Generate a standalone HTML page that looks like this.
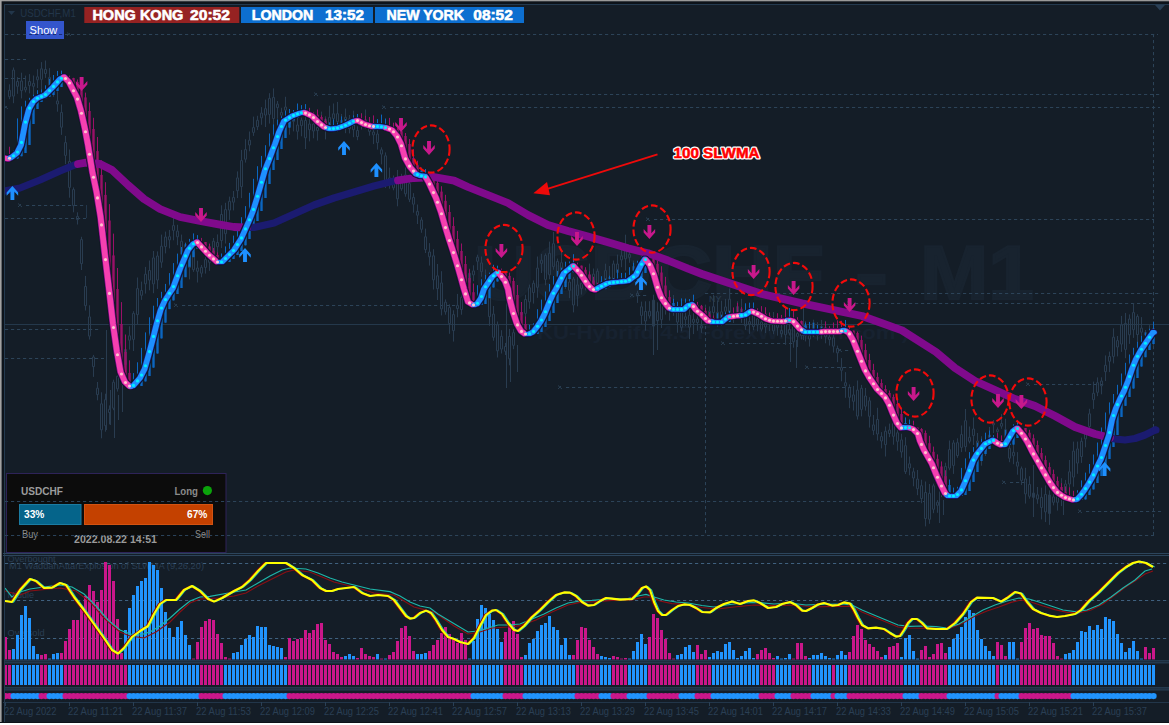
<!DOCTYPE html>
<html><head><meta charset="utf-8"><title>USDCHF M1</title>
<style>html,body{margin:0;padding:0;background:#141d27;width:1169px;height:725px;overflow:hidden;font-family:"Liberation Sans",sans-serif}</style>
</head><body>
<svg width="1169" height="725" viewBox="0 0 1169 725" style="display:block;position:absolute;left:0;top:0" font-family="Liberation Sans, sans-serif">
<rect width="1169" height="725" fill="#141d27"/>
<rect x="0" y="0" width="1169" height="4" fill="#0d131a"/><rect x="0" y="0" width="4" height="725" fill="#0d131a"/>
<rect x="0" y="0" width="1169" height="1.3" fill="#9a9a9a"/>
<rect x="0" y="0" width="1.6" height="725" fill="#a2a2a2"/>
<rect x="0" y="722" width="1169" height="1" fill="#0c1219"/><rect x="0" y="723" width="1169" height="2" fill="#ffffff"/>
<path d="M4.5,722V4.5H1169" fill="none" stroke="#243a4f" stroke-width="1"/>
<path d="M1155,5h10l-5,5.5z" fill="#2a4056"/>
<clipPath id="cc"><rect x="5" y="5" width="1164" height="548"/></clipPath><g clip-path="url(#cc)">
<g font-size="76.5" font-weight="bold" fill="#18232f" stroke="#18232f" stroke-width="2.5"><text x="474" y="298.5" textLength="350" lengthAdjust="spacingAndGlyphs">USDCHF</text><text x="855" y="298.5" textLength="33" lengthAdjust="spacingAndGlyphs">-</text><text x="920" y="298.5" textLength="114" lengthAdjust="spacingAndGlyphs">M1</text></g>
<text x="537" y="339" font-size="19" font-weight="bold" fill="#172230" textLength="372" lengthAdjust="spacingAndGlyphs">KU-Hybrifd 4.5  ForexWisdom.com )</text>
<text x="709" y="302" font-size="9" fill="#2a3e52">NY</text>
<line x1="5" y1="324.5" x2="1169" y2="324.5" stroke="#24384b" stroke-width="1"/>
<line x1="5" y1="34.5" x2="1158" y2="34.5" stroke="#2c4358" stroke-width="1" stroke-dasharray="3.2,2.8"/>
<line x1="5" y1="59.5" x2="26" y2="59.5" stroke="#2c4358" stroke-width="1" stroke-dasharray="3.2,2.8"/>
<line x1="5" y1="78.5" x2="26" y2="78.5" stroke="#2c4358" stroke-width="1" stroke-dasharray="3.2,2.8"/>
<line x1="322" y1="94.5" x2="1160" y2="94.5" stroke="#2c4358" stroke-width="1" stroke-dasharray="3.2,2.8"/>
<line x1="390" y1="107.5" x2="1160" y2="107.5" stroke="#2c4358" stroke-width="1" stroke-dasharray="3.2,2.8"/>
<line x1="26" y1="205.5" x2="86" y2="205.5" stroke="#2c4358" stroke-width="1" stroke-dasharray="3.2,2.8"/>
<line x1="5" y1="218.5" x2="86" y2="218.5" stroke="#2c4358" stroke-width="1" stroke-dasharray="3.2,2.8"/>
<line x1="654" y1="219.5" x2="1154" y2="219.5" stroke="#2c4358" stroke-width="1" stroke-dasharray="3.2,2.8"/>
<line x1="705" y1="293.5" x2="1161" y2="293.5" stroke="#2c4358" stroke-width="1" stroke-dasharray="3.2,2.8"/>
<line x1="637" y1="295.5" x2="648" y2="295.5" stroke="#2c4358" stroke-width="1" stroke-dasharray="3.2,2.8"/>
<line x1="855" y1="303.5" x2="1154" y2="303.5" stroke="#2c4358" stroke-width="1" stroke-dasharray="3.2,2.8"/>
<line x1="182" y1="305.5" x2="456" y2="305.5" stroke="#2c4358" stroke-width="1" stroke-dasharray="3.2,2.8"/>
<line x1="5" y1="329.5" x2="100" y2="329.5" stroke="#2c4358" stroke-width="1" stroke-dasharray="3.2,2.8"/>
<line x1="5" y1="358.5" x2="104" y2="358.5" stroke="#2c4358" stroke-width="1" stroke-dasharray="3.2,2.8"/>
<line x1="729" y1="343.5" x2="794" y2="343.5" stroke="#2c4358" stroke-width="1" stroke-dasharray="3.2,2.8"/>
<line x1="813" y1="367.5" x2="852" y2="367.5" stroke="#2c4358" stroke-width="1" stroke-dasharray="3.2,2.8"/>
<line x1="845" y1="350.5" x2="850" y2="350.5" stroke="#2c4358" stroke-width="1" stroke-dasharray="3.2,2.8"/>
<line x1="566" y1="387.5" x2="852" y2="387.5" stroke="#2c4358" stroke-width="1" stroke-dasharray="3.2,2.8"/>
<line x1="1034" y1="384.5" x2="1105" y2="384.5" stroke="#2c4358" stroke-width="1" stroke-dasharray="3.2,2.8"/>
<line x1="1010" y1="482.5" x2="1027" y2="482.5" stroke="#2c4358" stroke-width="1" stroke-dasharray="3.2,2.8"/>
<line x1="5" y1="501.5" x2="924" y2="501.5" stroke="#2c4358" stroke-width="1" stroke-dasharray="3.2,2.8"/>
<line x1="1086" y1="511.5" x2="1161" y2="511.5" stroke="#2c4358" stroke-width="1" stroke-dasharray="3.2,2.8"/>
<line x1="5" y1="535.5" x2="1154" y2="535.5" stroke="#2c4358" stroke-width="1" stroke-dasharray="3.2,2.8"/>
<path d="M67,32.5L71,36.0M67,36.0L70,33.0" stroke="#2e465c" stroke-width="0.8" fill="none"/>
<path d="M18,203.5L22,207.0M18,207.0L21,204.0" stroke="#2e465c" stroke-width="0.8" fill="none"/>
<path d="M314,92.5L318,96.0M314,96.0L317,93.0" stroke="#2e465c" stroke-width="0.8" fill="none"/>
<path d="M382,105.5L386,109.0M382,109.0L385,106.0" stroke="#2e465c" stroke-width="0.8" fill="none"/>
<path d="M646,217.5L650,221.0M646,221.0L649,218.0" stroke="#2e465c" stroke-width="0.8" fill="none"/>
<path d="M630,293.5L634,297.0M630,297.0L633,294.0" stroke="#2e465c" stroke-width="0.8" fill="none"/>
<path d="M847,301.5L851,305.0M847,305.0L850,302.0" stroke="#2e465c" stroke-width="0.8" fill="none"/>
<path d="M174,303.5L178,307.0M174,307.0L177,304.0" stroke="#2e465c" stroke-width="0.8" fill="none"/>
<path d="M721,341.5L725,345.0M721,345.0L724,342.0" stroke="#2e465c" stroke-width="0.8" fill="none"/>
<path d="M805,365.5L809,369.0M805,369.0L808,366.0" stroke="#2e465c" stroke-width="0.8" fill="none"/>
<path d="M838,348.5L842,352.0M838,352.0L841,349.0" stroke="#2e465c" stroke-width="0.8" fill="none"/>
<path d="M558,385.5L562,389.0M558,389.0L561,386.0" stroke="#2e465c" stroke-width="0.8" fill="none"/>
<path d="M1026,382.5L1030,386.0M1026,386.0L1029,383.0" stroke="#2e465c" stroke-width="0.8" fill="none"/>
<path d="M1002,480.5L1006,484.0M1002,484.0L1005,481.0" stroke="#2e465c" stroke-width="0.8" fill="none"/>
<path d="M1078,509.5L1082,513.0M1078,513.0L1081,510.0" stroke="#2e465c" stroke-width="0.8" fill="none"/>
<path d="M4,105.5L8,109.0M4,109.0L7,106.0" stroke="#2e465c" stroke-width="0.8" fill="none"/>
<line x1="705.5" y1="308" x2="705.5" y2="535" stroke="#2c4358" stroke-width="1" stroke-dasharray="3.2,2.8"/>
<line x1="1153.5" y1="34" x2="1153.5" y2="535" stroke="#2c4358" stroke-width="1" stroke-dasharray="3.2,2.8"/>
<line x1="86.5" y1="205" x2="86.5" y2="218" stroke="#22364a" stroke-width="1"/>
<path d="M9.5,84.3V90.3M9.5,96.7V99.2M8.5,90.3h2v6.4h-2z M13.5,67.5V70.1M13.5,96.1V103.2M12.5,70.1h2v26.0h-2z M17.5,77.1V81.5M17.5,86.3V93.8M16.5,81.5h2v4.8h-2z M21.5,72.7V81.0M21.5,90.6V98.4M20.5,81.0h2v9.6h-2z M25.5,75.6V87.3M25.5,89.9V92.4M24.5,87.3h2v2.6h-2z M29.5,74.1V81.5M29.5,85.7V93.4M28.5,81.5h2v4.2h-2z M33.5,75.5V83.4M33.5,86.3V94.7M32.5,83.4h2v2.9h-2z M37.5,69.2V76.8M37.5,79.9V88.0M36.5,76.8h2v3.0h-2z M41.5,62.1V68.8M41.5,79.4V90.6M40.5,68.8h2v10.6h-2z M45.5,60.5V69.5M45.5,73.5V77.9M44.5,69.5h2v4.0h-2z M49.5,68.1V77.4M49.5,85.3V90.2M48.5,77.4h2v7.9h-2z M53.5,79.3V82.9M53.5,91.4V96.8M52.5,82.9h2v8.5h-2z M57.5,91.3V100.9M57.5,104.0V111.7M56.5,100.9h2v3.1h-2z M61.5,104.4V112.4M61.5,127.1V134.9M60.5,112.4h2v14.8h-2z M65.5,135.9V142.6M65.5,155.4V164.1M64.5,142.6h2v12.8h-2z M69.5,149.5V161.4M69.5,187.4V197.7M68.5,161.4h2v26.0h-2z M73.5,187.4V189.6M73.5,205.6V212.3M72.5,189.6h2v16.0h-2z M77.5,212.3V216.4M77.5,219.6V224.5M76.5,216.4h2v3.2h-2z M81.5,236.8V239.6M81.5,263.6V270.0M80.5,239.6h2v24.0h-2z M85.5,275.9V286.5M85.5,305.7V310.5M84.5,286.5h2v19.2h-2z M89.5,305.3V316.9M89.5,336.1V339.6M88.5,316.9h2v19.2h-2z M93.5,354.9V357.0M93.5,366.6V376.9M92.5,357.0h2v9.6h-2z M97.5,382.0V388.2M97.5,394.6V400.3M96.5,388.2h2v6.4h-2z M101.5,392.3V403.8M101.5,429.8V438.3M100.5,403.8h2v26.0h-2z M105.5,393.7V399.7M105.5,425.7V431.7M104.5,399.7h2v26.0h-2z M109.5,405.4V409.3M109.5,412.5V424.4M108.5,409.3h2v3.2h-2z M113.5,379.7V382.2M113.5,408.2V410.2M112.5,382.2h2v26.0h-2z M117.5,368.2V376.3M117.5,388.9V391.6M116.5,376.3h2v12.5h-2z M121.5,359.8V371.3M121.5,376.3V384.4M120.5,371.3h2v5.0h-2z M125.5,337.5V349.5M125.5,364.7V371.4M124.5,349.5h2v15.2h-2z M129.5,326.3V335.8M129.5,340.2V349.6M128.5,335.8h2v4.4h-2z M133.5,311.2V313.4M133.5,339.4V351.0M132.5,313.4h2v26.0h-2z M137.5,277.5V288.6M137.5,314.6V324.2M136.5,288.6h2v26.0h-2z M141.5,281.6V290.5M141.5,295.3V299.9M140.5,290.5h2v4.8h-2z M145.5,266.9V274.2M145.5,283.8V293.6M144.5,274.2h2v9.6h-2z M149.5,260.5V270.5M149.5,280.1V290.3M148.5,270.5h2v9.6h-2z M153.5,251.0V257.9M153.5,283.9V293.2M152.5,257.9h2v26.0h-2z M157.5,251.4V256.0M157.5,280.0V288.9M156.5,256.0h2v24.0h-2z M161.5,234.6V246.2M161.5,262.2V267.8M160.5,246.2h2v16.0h-2z M165.5,231.6V237.0M165.5,246.6V253.4M164.5,237.0h2v9.6h-2z M169.5,229.9V236.7M169.5,239.9V248.4M168.5,236.7h2v3.2h-2z M173.5,214.5V225.6M173.5,230.4V240.3M172.5,225.6h2v4.8h-2z M177.5,224.8V231.1M177.5,236.8V245.2M176.5,231.1h2v5.7h-2z M181.5,234.6V241.3M181.5,254.0V263.4M180.5,241.3h2v12.8h-2z M185.5,242.3V244.6M185.5,247.4V255.4M184.5,244.6h2v2.9h-2z M189.5,240.2V250.4M189.5,267.5V279.4M188.5,250.4h2v17.1h-2z M193.5,244.6V252.1M193.5,269.7V271.9M192.5,252.1h2v17.6h-2z M197.5,260.7V268.0M197.5,271.2V282.5M196.5,268.0h2v3.3h-2z M201.5,265.0V267.3M201.5,273.2V277.3M200.5,267.3h2v5.9h-2z M205.5,255.0V259.6M205.5,267.4V273.6M204.5,259.6h2v7.8h-2z M209.5,245.1V256.1M209.5,262.3V270.9M208.5,256.1h2v6.2h-2z M213.5,238.0V241.3M213.5,255.9V259.4M212.5,241.3h2v14.6h-2z M217.5,234.4V242.5M217.5,246.7V256.4M216.5,242.5h2v4.2h-2z M221.5,205.3V214.5M221.5,240.5V248.1M220.5,214.5h2v26.0h-2z M225.5,202.8V209.6M225.5,233.8V243.5M224.5,209.6h2v24.1h-2z M229.5,196.6V201.3M229.5,210.2V219.9M228.5,201.3h2v8.8h-2z M233.5,191.0V197.4M233.5,202.2V210.4M232.5,197.4h2v4.8h-2z M237.5,171.4V177.9M237.5,190.7V198.1M236.5,177.9h2v12.8h-2z M241.5,149.9V160.6M241.5,186.6V198.1M240.5,160.6h2v26.0h-2z M245.5,139.2V149.6M245.5,159.2V162.6M244.5,149.6h2v9.6h-2z M249.5,131.5V140.2M249.5,145.0V151.3M248.5,140.2h2v4.8h-2z M253.5,116.6V127.6M253.5,132.4V135.9M252.5,127.6h2v4.8h-2z M257.5,115.8V120.3M257.5,126.7V130.1M256.5,120.3h2v6.4h-2z M261.5,107.1V113.1M261.5,117.9V124.8M260.5,113.1h2v4.8h-2z M265.5,99.6V108.7M265.5,115.1V127.0M264.5,108.7h2v6.4h-2z M269.5,93.2V98.4M269.5,114.4V123.6M268.5,98.4h2v16.0h-2z M273.5,88.4V97.4M273.5,118.6V124.4M272.5,97.4h2v21.1h-2z M277.5,101.0V104.1M277.5,107.6V118.8M276.5,104.1h2v3.5h-2z M281.5,107.8V112.4M281.5,115.3V117.7M280.5,112.4h2v2.8h-2z M285.5,96.8V107.0M285.5,110.1V120.6M284.5,107.0h2v3.1h-2z M289.5,112.1V115.6M289.5,123.6V134.7M288.5,115.6h2v8.0h-2z M293.5,114.7V119.4M293.5,121.4V131.4M292.5,119.4h2v2.0h-2z M297.5,113.6V125.0M297.5,131.3V139.6M296.5,125.0h2v6.3h-2z M301.5,117.6V120.2M301.5,125.7V136.3M300.5,120.2h2v5.4h-2z M305.5,114.4V120.5M305.5,137.8V149.0M304.5,120.5h2v17.3h-2z M309.5,112.6V124.0M309.5,129.7V141.4M308.5,124.0h2v5.7h-2z M313.5,115.7V124.0M313.5,131.0V138.3M312.5,124.0h2v7.0h-2z M317.5,122.8V127.5M317.5,130.6V140.6M316.5,127.5h2v3.1h-2z M321.5,111.6V120.9M321.5,122.2V129.7M320.5,120.9h2v1.3h-2z M325.5,116.3V119.4M325.5,129.2V139.4M324.5,119.4h2v9.9h-2z M329.5,105.7V117.4M329.5,126.2V131.3M328.5,117.4h2v8.9h-2z M333.5,103.5V113.8M333.5,118.5V127.6M332.5,113.8h2v4.7h-2z M337.5,101.9V113.7M337.5,121.6V131.9M336.5,113.7h2v7.9h-2z M341.5,113.9V120.3M341.5,125.9V128.4M340.5,120.3h2v5.6h-2z M345.5,108.6V117.3M345.5,128.4V133.2M344.5,117.3h2v11.1h-2z M349.5,115.0V118.8M349.5,128.7V133.4M348.5,118.8h2v9.9h-2z M353.5,110.7V122.4M353.5,129.7V137.2M352.5,122.4h2v7.3h-2z M357.5,126.3V130.5M357.5,136.4V140.2M356.5,130.5h2v6.0h-2z M361.5,113.0V120.0M361.5,125.6V129.6M360.5,120.0h2v5.6h-2z M365.5,109.5V119.7M365.5,125.1V128.5M364.5,119.7h2v5.4h-2z M369.5,120.9V125.9M369.5,131.4V135.7M368.5,125.9h2v5.5h-2z M373.5,123.5V132.0M373.5,135.0V144.1M372.5,132.0h2v2.9h-2z M377.5,124.8V134.0M377.5,142.6V149.6M376.5,134.0h2v8.6h-2z M381.5,147.3V149.8M381.5,154.1V164.4M380.5,149.8h2v4.3h-2z M385.5,152.4V155.8M385.5,180.7V188.0M384.5,155.8h2v24.9h-2z M389.5,167.6V177.9M389.5,180.9V188.7M388.5,177.9h2v3.1h-2z M393.5,175.5V178.4M393.5,187.8V190.3M392.5,178.4h2v9.5h-2z M397.5,169.9V180.3M397.5,198.8V206.3M396.5,180.3h2v18.5h-2z M401.5,173.8V180.7M401.5,188.8V190.8M400.5,180.7h2v8.1h-2z M405.5,163.9V174.9M405.5,193.8V196.7M404.5,174.9h2v18.9h-2z M409.5,179.1V183.6M409.5,199.4V202.1M408.5,183.6h2v15.7h-2z M413.5,193.1V197.4M413.5,204.2V212.7M412.5,197.4h2v6.8h-2z M417.5,204.5V211.3M417.5,215.2V224.0M416.5,211.3h2v3.9h-2z M421.5,217.2V220.0M421.5,229.3V232.8M420.5,220.0h2v9.3h-2z M425.5,228.6V236.8M425.5,249.6V253.0M424.5,236.8h2v12.8h-2z M429.5,243.1V252.0M429.5,256.8V265.6M428.5,252.0h2v4.8h-2z M433.5,249.2V255.8M433.5,279.8V289.5M432.5,255.8h2v24.0h-2z M437.5,264.0V275.8M437.5,288.6V300.0M436.5,275.8h2v12.8h-2z M441.5,271.2V282.9M441.5,308.9V315.4M440.5,282.9h2v26.0h-2z M445.5,299.4V302.2M445.5,311.8V314.7M444.5,302.2h2v9.6h-2z M449.5,304.3V307.6M449.5,323.6V333.8M448.5,307.6h2v16.0h-2z M453.5,310.3V314.6M453.5,330.6V341.6M452.5,314.6h2v16.0h-2z M457.5,293.9V305.4M457.5,308.5V317.3M456.5,305.4h2v3.1h-2z M461.5,291.9V297.3M461.5,309.5V314.7M460.5,297.3h2v12.2h-2z M465.5,264.7V275.1M465.5,282.9V286.1M464.5,275.1h2v7.8h-2z M469.5,268.6V273.2M469.5,282.4V285.0M468.5,273.2h2v9.2h-2z M473.5,265.3V270.9M473.5,274.9V281.2M472.5,270.9h2v4.0h-2z M477.5,254.7V257.2M477.5,261.3V270.0M476.5,257.2h2v4.1h-2z M481.5,256.5V262.9M481.5,271.7V276.8M480.5,262.9h2v8.8h-2z M485.5,269.5V280.4M485.5,288.9V299.0M484.5,280.4h2v8.5h-2z M489.5,290.5V298.0M489.5,316.6V325.8M488.5,298.0h2v18.6h-2z M493.5,306.0V314.1M493.5,337.3V340.7M492.5,314.1h2v23.2h-2z M497.5,321.5V324.8M497.5,350.8V357.5M496.5,324.8h2v26.0h-2z M501.5,330.2V336.3M501.5,349.1V353.5M500.5,336.3h2v12.8h-2z M505.5,342.9V346.5M505.5,351.3V355.0M504.5,346.5h2v4.8h-2z M509.5,328.9V336.4M509.5,358.8V365.3M508.5,336.4h2v22.4h-2z M513.5,329.3V332.7M513.5,345.2V349.2M512.5,332.7h2v12.6h-2z M517.5,318.6V323.7M517.5,325.6V331.3M516.5,323.7h2v1.9h-2z M521.5,303.2V312.7M521.5,314.5V320.6M520.5,312.7h2v1.8h-2z M525.5,294.8V299.5M525.5,313.4V322.9M524.5,299.5h2v13.9h-2z M529.5,284.6V287.8M529.5,301.8V308.8M528.5,287.8h2v14.0h-2z M533.5,280.4V283.3M533.5,292.6V303.6M532.5,283.3h2v9.3h-2z M537.5,256.5V268.1M537.5,287.3V297.8M536.5,268.1h2v19.2h-2z M541.5,253.9V260.2M541.5,263.4V273.0M540.5,260.2h2v3.2h-2z M545.5,253.4V255.4M545.5,279.4V285.3M544.5,255.4h2v24.0h-2z M549.5,241.6V253.3M549.5,274.8V279.3M548.5,253.3h2v21.5h-2z M553.5,232.0V243.7M553.5,266.7V269.8M552.5,243.7h2v23.0h-2z M557.5,258.6V261.4M557.5,276.3V286.1M556.5,261.4h2v14.9h-2z M561.5,251.5V262.7M561.5,277.4V285.9M560.5,262.7h2v14.7h-2z M565.5,268.5V275.8M565.5,282.5V288.9M564.5,275.8h2v6.7h-2z M569.5,274.8V282.0M569.5,290.4V298.2M568.5,282.0h2v8.4h-2z M573.5,277.0V279.0M573.5,305.0V312.4M572.5,279.0h2v26.0h-2z M577.5,276.5V284.9M577.5,295.4V306.3M576.5,284.9h2v10.5h-2z M581.5,280.9V283.2M581.5,288.4V294.6M580.5,283.2h2v5.2h-2z M585.5,270.7V277.6M585.5,281.7V290.4M584.5,277.6h2v4.0h-2z M589.5,263.6V274.9M589.5,283.2V287.4M588.5,274.9h2v8.3h-2z M593.5,268.5V274.1M593.5,283.4V289.4M592.5,274.1h2v9.3h-2z M597.5,268.5V271.2M597.5,284.8V291.8M596.5,271.2h2v13.6h-2z M601.5,277.2V281.5M601.5,285.8V290.0M600.5,281.5h2v4.3h-2z M605.5,263.7V270.6M605.5,285.5V289.3M604.5,270.6h2v14.8h-2z M609.5,266.0V277.5M609.5,278.8V282.3M608.5,277.5h2v1.3h-2z M613.5,260.5V263.9M613.5,280.2V282.7M612.5,263.9h2v16.3h-2z M617.5,254.6V264.0M617.5,272.5V284.4M616.5,264.0h2v8.5h-2z M621.5,247.3V255.8M621.5,259.9V267.2M620.5,255.8h2v4.1h-2z M625.5,234.7V245.1M625.5,258.8V270.6M624.5,245.1h2v13.7h-2z M629.5,249.6V254.4M629.5,257.3V262.8M628.5,254.4h2v3.0h-2z M633.5,260.6V266.4M633.5,270.5V280.2M632.5,266.4h2v4.1h-2z M637.5,290.7V293.2M637.5,296.2V302.9M636.5,293.2h2v2.9h-2z M641.5,301.6V306.8M641.5,315.5V324.8M640.5,306.8h2v8.6h-2z M645.5,301.3V311.4M645.5,321.0V330.7M644.5,311.4h2v9.6h-2z M649.5,301.2V311.2M649.5,316.0V318.6M648.5,311.2h2v4.8h-2z M653.5,294.7V300.1M653.5,326.1V330.8M652.5,300.1h2v26.0h-2z M657.5,302.3V311.7M657.5,321.0V329.9M656.5,311.7h2v9.2h-2z M661.5,288.9V300.1M661.5,319.7V328.0M660.5,300.1h2v19.6h-2z M665.5,298.2V301.2M665.5,305.5V314.6M664.5,301.2h2v4.3h-2z M669.5,293.9V305.0M669.5,310.4V320.6M668.5,305.0h2v5.4h-2z M673.5,295.0V305.1M673.5,306.4V315.8M672.5,305.1h2v1.3h-2z M677.5,303.5V307.9M677.5,322.1V332.7M676.5,307.9h2v14.2h-2z M681.5,308.5V311.3M681.5,327.3V331.3M680.5,311.3h2v16.1h-2z M685.5,308.3V316.8M685.5,319.4V326.2M684.5,316.8h2v2.6h-2z M689.5,304.4V315.2M689.5,327.2V339.1M688.5,315.2h2v12.0h-2z M693.5,313.1V319.3M693.5,322.3V334.1M692.5,319.3h2v3.0h-2z M697.5,312.9V319.0M697.5,322.5V330.7M696.5,319.0h2v3.5h-2z M701.5,315.9V325.7M701.5,328.0V332.9M700.5,325.7h2v2.4h-2z M705.5,304.6V314.0M705.5,318.9V322.9M704.5,314.0h2v4.9h-2z M709.5,306.4V311.2M709.5,314.1V325.1M708.5,311.2h2v2.8h-2z M713.5,294.8V306.7M713.5,312.6V319.7M712.5,306.7h2v5.9h-2z M717.5,300.4V312.3M717.5,323.6V326.7M716.5,312.3h2v11.3h-2z M721.5,300.7V311.8M721.5,323.3V325.7M720.5,311.8h2v11.5h-2z M725.5,298.9V306.9M725.5,311.1V321.4M724.5,306.9h2v4.3h-2z M729.5,288.6V299.2M729.5,312.2V318.7M728.5,299.2h2v13.0h-2z M733.5,310.6V313.6M733.5,315.1V323.0M732.5,313.6h2v1.4h-2z M737.5,301.2V306.6M737.5,313.1V315.6M736.5,306.6h2v6.5h-2z M741.5,298.8V309.0M741.5,312.7V322.9M740.5,309.0h2v3.7h-2z M745.5,305.3V310.4M745.5,325.9V329.9M744.5,310.4h2v15.4h-2z M749.5,315.5V321.6M749.5,324.0V333.9M748.5,321.6h2v2.4h-2z M753.5,308.8V311.7M753.5,326.6V330.2M752.5,311.7h2v14.8h-2z M757.5,310.1V318.8M757.5,325.1V331.3M756.5,318.8h2v6.3h-2z M761.5,315.8V321.9M761.5,329.2V331.4M760.5,321.9h2v7.3h-2z M765.5,317.2V323.1M765.5,327.0V333.1M764.5,323.1h2v3.9h-2z M769.5,312.1V318.3M769.5,320.7V331.0M768.5,318.3h2v2.4h-2z M773.5,312.0V321.7M773.5,330.9V334.2M772.5,321.7h2v9.2h-2z M777.5,315.9V318.7M777.5,327.4V335.7M776.5,318.7h2v8.7h-2z M781.5,325.0V330.5M781.5,333.7V337.3M780.5,330.5h2v3.3h-2z M785.5,317.4V324.3M785.5,334.9V344.9M784.5,324.3h2v10.5h-2z M789.5,319.1V329.5M789.5,333.1V335.5M788.5,329.5h2v3.6h-2z M793.5,311.7V322.9M793.5,341.8V347.7M792.5,322.9h2v18.9h-2z M797.5,325.0V333.4M797.5,336.4V347.0M796.5,333.4h2v3.0h-2z M801.5,321.5V331.8M801.5,335.7V339.5M800.5,331.8h2v3.9h-2z M805.5,321.2V324.8M805.5,335.8V341.4M804.5,324.8h2v11.0h-2z M809.5,332.9V335.3M809.5,339.0V346.6M808.5,335.3h2v3.7h-2z M813.5,319.7V322.9M813.5,329.0V337.0M812.5,322.9h2v6.1h-2z M817.5,322.1V330.6M817.5,335.5V340.5M816.5,330.6h2v4.9h-2z M821.5,319.9V326.4M821.5,332.6V338.9M820.5,326.4h2v6.2h-2z M825.5,320.9V327.5M825.5,336.8V343.3M824.5,327.5h2v9.3h-2z M829.5,326.9V337.0M829.5,339.6V345.6M828.5,337.0h2v2.6h-2z M833.5,334.8V337.8M833.5,346.2V352.6M832.5,337.8h2v8.4h-2z M837.5,345.6V348.5M837.5,352.8V362.2M836.5,348.5h2v4.4h-2z M841.5,358.1V367.6M841.5,370.3V381.3M840.5,367.6h2v2.7h-2z M845.5,372.1V382.7M845.5,385.9V397.8M844.5,382.7h2v3.2h-2z M849.5,384.4V387.7M849.5,397.3V408.2M848.5,387.7h2v9.6h-2z M853.5,386.0V394.9M853.5,401.3V410.5M852.5,394.9h2v6.4h-2z M857.5,380.5V390.1M857.5,416.1V419.6M856.5,390.1h2v26.0h-2z M861.5,384.9V388.3M861.5,409.4V416.4M860.5,388.3h2v21.1h-2z M865.5,387.9V396.0M865.5,406.2V410.6M864.5,396.0h2v10.2h-2z M869.5,397.2V400.8M869.5,416.2V427.6M868.5,400.8h2v15.5h-2z M873.5,415.0V424.9M873.5,430.5V435.1M872.5,424.9h2v5.5h-2z M877.5,407.8V419.5M877.5,434.0V440.5M876.5,419.5h2v14.5h-2z M881.5,432.1V436.6M881.5,441.0V448.4M880.5,436.6h2v4.4h-2z M885.5,426.5V431.2M885.5,444.6V456.5M884.5,431.2h2v13.4h-2z M889.5,423.6V430.0M889.5,433.5V437.2M888.5,430.0h2v3.5h-2z M893.5,414.5V419.0M893.5,436.3V444.7M892.5,419.0h2v17.3h-2z M897.5,423.4V432.8M897.5,441.2V450.7M896.5,432.8h2v8.5h-2z M901.5,433.7V439.9M901.5,452.0V457.7M900.5,439.9h2v12.1h-2z M905.5,437.2V445.7M905.5,471.7V474.0M904.5,445.7h2v26.0h-2z M909.5,456.5V463.8M909.5,467.9V475.3M908.5,463.8h2v4.2h-2z M913.5,467.8V471.8M913.5,478.0V486.3M912.5,471.8h2v6.2h-2z M917.5,470.0V479.1M917.5,488.7V495.2M916.5,479.1h2v9.6h-2z M921.5,479.7V485.7M921.5,498.5V503.2M920.5,485.7h2v12.8h-2z M925.5,481.5V492.5M925.5,518.5V526.4M924.5,492.5h2v26.0h-2z M929.5,484.0V493.3M929.5,519.3V523.8M928.5,493.3h2v26.0h-2z M933.5,483.6V485.8M933.5,509.3V513.2M932.5,485.8h2v23.5h-2z M937.5,500.1V502.2M937.5,505.3V512.8M936.5,502.2h2v3.1h-2z M941.5,477.3V484.5M941.5,488.6V497.1M940.5,484.5h2v4.2h-2z M945.5,462.7V466.4M945.5,486.7V491.7M944.5,466.4h2v20.2h-2z M949.5,440.5V449.6M949.5,468.1V470.2M948.5,449.6h2v18.5h-2z M953.5,440.1V442.9M953.5,465.3V473.9M952.5,442.9h2v22.5h-2z M957.5,438.3V442.7M957.5,455.5V457.8M956.5,442.7h2v12.8h-2z M961.5,425.5V434.6M961.5,447.4V452.1M960.5,434.6h2v12.8h-2z M965.5,409.0V420.7M965.5,446.7V451.7M964.5,420.7h2v26.0h-2z M969.5,426.5V437.3M969.5,441.2V443.4M968.5,437.3h2v4.0h-2z M973.5,417.5V429.0M973.5,435.6V445.0M972.5,429.0h2v6.6h-2z M977.5,433.0V441.0M977.5,449.5V455.3M976.5,441.0h2v8.5h-2z M981.5,436.3V443.0M981.5,455.3V465.7M980.5,443.0h2v12.3h-2z M985.5,432.9V444.5M985.5,451.7V456.0M984.5,444.5h2v7.2h-2z M989.5,426.9V435.1M989.5,443.7V446.5M988.5,435.1h2v8.6h-2z M993.5,420.0V423.1M993.5,424.8V433.0M992.5,423.1h2v1.7h-2z M997.5,427.4V429.7M997.5,431.6V435.0M996.5,429.7h2v1.9h-2z M1001.5,414.1V423.5M1001.5,426.2V428.8M1000.5,423.5h2v2.7h-2z M1005.5,418.8V429.7M1005.5,442.6V445.3M1004.5,429.7h2v12.9h-2z M1009.5,445.2V448.3M1009.5,458.1V462.2M1008.5,448.3h2v9.9h-2z M1013.5,442.1V452.3M1013.5,455.9V464.2M1012.5,452.3h2v3.5h-2z M1017.5,452.1V462.0M1017.5,466.3V474.7M1016.5,462.0h2v4.2h-2z M1021.5,466.5V468.7M1021.5,480.4V485.0M1020.5,468.7h2v11.7h-2z M1025.5,467.8V478.9M1025.5,493.9V503.6M1024.5,478.9h2v15.0h-2z M1029.5,476.2V484.4M1029.5,496.4V498.7M1028.5,484.4h2v11.9h-2z M1033.5,487.7V493.1M1033.5,497.5V506.5M1032.5,493.1h2v4.3h-2z M1037.5,487.0V494.8M1037.5,498.9V503.8M1036.5,494.8h2v4.2h-2z M1041.5,487.7V497.3M1041.5,507.6V519.4M1040.5,497.3h2v10.3h-2z M1045.5,485.4V494.4M1045.5,511.9V522.1M1044.5,494.4h2v17.5h-2z M1049.5,490.4V495.0M1049.5,513.5V524.9M1048.5,495.0h2v18.5h-2z M1053.5,489.9V496.9M1053.5,502.3V505.4M1052.5,496.9h2v5.4h-2z M1057.5,478.7V488.6M1057.5,502.3V510.6M1056.5,488.6h2v13.7h-2z M1061.5,478.2V489.1M1061.5,496.6V506.1M1060.5,489.1h2v7.5h-2z M1065.5,479.9V484.0M1065.5,492.2V496.9M1064.5,484.0h2v8.2h-2z M1069.5,460.0V471.8M1069.5,484.1V492.4M1068.5,471.8h2v12.2h-2z M1073.5,441.6V451.1M1073.5,477.1V486.7M1072.5,451.1h2v26.0h-2z M1077.5,441.6V448.9M1077.5,463.1V473.8M1076.5,448.9h2v14.2h-2z M1081.5,437.6V441.3M1081.5,456.5V462.9M1080.5,441.3h2v15.2h-2z M1085.5,427.1V432.5M1085.5,438.9V447.3M1084.5,432.5h2v6.4h-2z M1089.5,408.8V413.8M1089.5,426.6V435.6M1088.5,413.8h2v12.8h-2z M1093.5,381.6V393.3M1093.5,399.7V408.9M1092.5,393.3h2v6.4h-2z M1097.5,377.4V382.7M1097.5,392.3V396.2M1096.5,382.7h2v9.6h-2z M1101.5,377.3V381.0M1101.5,385.8V394.3M1100.5,381.0h2v4.8h-2z M1105.5,355.4V365.3M1105.5,371.7V381.0M1104.5,365.3h2v6.4h-2z M1109.5,351.6V356.5M1109.5,361.3V372.1M1108.5,356.5h2v4.8h-2z M1113.5,328.3V337.2M1113.5,356.4V363.4M1112.5,337.2h2v19.2h-2z M1117.5,336.0V340.6M1117.5,347.0V356.4M1116.5,340.6h2v6.4h-2z M1121.5,315.9V324.9M1121.5,344.1V351.9M1120.5,324.9h2v19.2h-2z M1125.5,312.9V323.4M1125.5,349.4V358.2M1124.5,323.4h2v26.0h-2z M1129.5,314.4V319.0M1129.5,334.8V343.9M1128.5,319.0h2v15.8h-2z M1133.5,303.4V312.6M1133.5,329.6V337.9M1132.5,312.6h2v17.1h-2z M1137.5,314.3V316.5M1137.5,334.5V345.1M1136.5,316.5h2v18.0h-2z M1141.5,317.1V328.1M1141.5,332.2V337.4M1140.5,328.1h2v4.1h-2z M1145.5,330.0V332.4M1145.5,335.0V342.4M1144.5,332.4h2v2.6h-2z M1149.5,325.2V332.4M1149.5,336.7V339.7M1148.5,332.4h2v4.3h-2z M1153.5,321.3V328.4M1153.5,337.4V345.8M1152.5,328.4h2v9.0h-2z" fill="none" stroke="#293c50" stroke-width="1"/>
<path d="M106.5,330V430" stroke="#293c50" stroke-width="1"/>
<path d="M110.5,390V425" stroke="#293c50" stroke-width="1"/>
<path d="M114.5,400V438" stroke="#293c50" stroke-width="1"/>
<path d="M118.5,395V420" stroke="#293c50" stroke-width="1"/>
<path d="M122.5,380V412" stroke="#293c50" stroke-width="1"/>
<path d="M506.5,290V388" stroke="#293c50" stroke-width="1"/>
<path d="M510.5,350V382" stroke="#293c50" stroke-width="1"/>
<path d="M517.5,345V372" stroke="#293c50" stroke-width="1"/>
<path d="M653.5,300V355" stroke="#293c50" stroke-width="1"/>
<path d="M657.5,320V350" stroke="#293c50" stroke-width="1"/>
<path d="M939.5,490V523" stroke="#293c50" stroke-width="1"/>
<path d="M943.5,500V515" stroke="#293c50" stroke-width="1"/>
<path d="M1033.5,465V517" stroke="#293c50" stroke-width="1"/>
<path d="M1049.5,495V518" stroke="#293c50" stroke-width="1"/>
<path d="M1063.5,500V515" stroke="#293c50" stroke-width="1"/>
<path d="M790.5,330V362" stroke="#293c50" stroke-width="1"/>
<path d="M796.5,340V368" stroke="#293c50" stroke-width="1"/>
<path d="M803.5,300V340" stroke="#293c50" stroke-width="1"/>
<rect x="9.0" y="146.7" width="1" height="11.6" fill="#9a1068"/>
<rect x="8.3" y="158.2" width="2.4" height="0.1" fill="#9a1068"/>
<rect x="13.0" y="150.5" width="1" height="5.3" fill="#0b66c0"/>
<rect x="12.3" y="155.8" width="2.4" height="0.1" fill="#0b66c0"/>
<rect x="17.0" y="118.4" width="1" height="40.1" fill="#0b66c0"/>
<rect x="16.3" y="155.0" width="2.4" height="3.5" fill="#0b66c0"/>
<rect x="21.0" y="106.4" width="1" height="49.8" fill="#0b66c0"/>
<rect x="20.3" y="150.0" width="2.4" height="6.2" fill="#0b66c0"/>
<rect x="25.0" y="100.7" width="1" height="52.3" fill="#0b66c0"/>
<rect x="24.3" y="137.1" width="2.4" height="15.9" fill="#0b66c0"/>
<rect x="29.0" y="97.8" width="1" height="47.2" fill="#0b66c0"/>
<rect x="28.3" y="118.4" width="2.4" height="26.6" fill="#0b66c0"/>
<rect x="33.0" y="94.6" width="1" height="29.4" fill="#0b66c0"/>
<rect x="32.3" y="106.4" width="2.4" height="17.6" fill="#0b66c0"/>
<rect x="37.0" y="90.2" width="1" height="18.8" fill="#0b66c0"/>
<rect x="36.3" y="100.7" width="2.4" height="8.3" fill="#0b66c0"/>
<rect x="41.0" y="89.5" width="1" height="12.5" fill="#0b66c0"/>
<rect x="40.3" y="97.8" width="2.4" height="4.2" fill="#0b66c0"/>
<rect x="45.0" y="85.3" width="1" height="13.1" fill="#0b66c0"/>
<rect x="44.3" y="96.1" width="2.4" height="2.3" fill="#0b66c0"/>
<rect x="49.0" y="78.7" width="1" height="18.0" fill="#0b66c0"/>
<rect x="48.3" y="93.5" width="2.4" height="3.2" fill="#0b66c0"/>
<rect x="53.0" y="75.0" width="1" height="20.0" fill="#0b66c0"/>
<rect x="52.3" y="89.5" width="2.4" height="5.5" fill="#0b66c0"/>
<rect x="57.0" y="70.9" width="1" height="20.1" fill="#0b66c0"/>
<rect x="56.3" y="85.3" width="2.4" height="5.7" fill="#0b66c0"/>
<rect x="61.0" y="70.6" width="1" height="16.4" fill="#0b66c0"/>
<rect x="60.3" y="80.7" width="2.4" height="6.3" fill="#0b66c0"/>
<rect x="65.0" y="74.0" width="1" height="8.4" fill="#0b66c0"/>
<rect x="64.3" y="77.8" width="2.4" height="4.7" fill="#0b66c0"/>
<rect x="69.0" y="75.7" width="1" height="7.3" fill="#9a1068"/>
<rect x="68.3" y="83.0" width="2.4" height="0.1" fill="#9a1068"/>
<rect x="73.0" y="77.8" width="1" height="7.1" fill="#9a1068"/>
<rect x="72.3" y="78.0" width="2.4" height="6.9" fill="#9a1068"/>
<rect x="77.0" y="79.5" width="1" height="13.1" fill="#9a1068"/>
<rect x="76.3" y="82.0" width="2.4" height="10.6" fill="#9a1068"/>
<rect x="81.0" y="84.9" width="1" height="17.6" fill="#9a1068"/>
<rect x="80.3" y="89.7" width="2.4" height="12.8" fill="#9a1068"/>
<rect x="85.0" y="92.6" width="1" height="25.2" fill="#9a1068"/>
<rect x="84.3" y="97.4" width="2.4" height="20.3" fill="#9a1068"/>
<rect x="89.0" y="102.5" width="1" height="34.5" fill="#9a1068"/>
<rect x="88.3" y="111.0" width="2.4" height="26.0" fill="#9a1068"/>
<rect x="93.0" y="117.8" width="1" height="42.6" fill="#9a1068"/>
<rect x="92.3" y="129.0" width="2.4" height="31.3" fill="#9a1068"/>
<rect x="97.0" y="137.0" width="1" height="45.2" fill="#9a1068"/>
<rect x="96.3" y="151.1" width="2.4" height="31.1" fill="#9a1068"/>
<rect x="101.0" y="160.3" width="1" height="43.7" fill="#9a1068"/>
<rect x="100.3" y="174.9" width="2.4" height="29.2" fill="#9a1068"/>
<rect x="105.0" y="182.2" width="1" height="51.4" fill="#9a1068"/>
<rect x="104.3" y="194.9" width="2.4" height="38.8" fill="#9a1068"/>
<rect x="109.0" y="204.1" width="1" height="63.9" fill="#9a1068"/>
<rect x="108.3" y="220.5" width="2.4" height="47.5" fill="#9a1068"/>
<rect x="113.0" y="233.6" width="1" height="68.5" fill="#9a1068"/>
<rect x="112.3" y="255.4" width="2.4" height="46.8" fill="#9a1068"/>
<rect x="117.0" y="268.0" width="1" height="66.5" fill="#9a1068"/>
<rect x="116.3" y="289.0" width="2.4" height="45.5" fill="#9a1068"/>
<rect x="121.0" y="302.1" width="1" height="58.2" fill="#9a1068"/>
<rect x="120.3" y="324.0" width="2.4" height="36.3" fill="#9a1068"/>
<rect x="125.0" y="334.5" width="1" height="41.8" fill="#9a1068"/>
<rect x="124.3" y="352.0" width="2.4" height="24.3" fill="#9a1068"/>
<rect x="129.0" y="360.3" width="1" height="23.0" fill="#9a1068"/>
<rect x="128.3" y="372.9" width="2.4" height="10.5" fill="#9a1068"/>
<rect x="133.0" y="373.1" width="1" height="13.4" fill="#0b66c0"/>
<rect x="132.3" y="382.0" width="2.4" height="4.5" fill="#0b66c0"/>
<rect x="137.0" y="362.3" width="1" height="23.3" fill="#0b66c0"/>
<rect x="136.3" y="384.3" width="2.4" height="1.4" fill="#0b66c0"/>
<rect x="141.0" y="347.9" width="1" height="38.1" fill="#0b66c0"/>
<rect x="140.3" y="379.7" width="2.4" height="6.3" fill="#0b66c0"/>
<rect x="145.0" y="332.4" width="1" height="49.0" fill="#0b66c0"/>
<rect x="144.3" y="373.1" width="2.4" height="8.3" fill="#0b66c0"/>
<rect x="149.0" y="317.3" width="1" height="58.7" fill="#0b66c0"/>
<rect x="148.3" y="362.3" width="2.4" height="13.7" fill="#0b66c0"/>
<rect x="153.0" y="305.7" width="1" height="61.9" fill="#0b66c0"/>
<rect x="152.3" y="347.9" width="2.4" height="19.7" fill="#0b66c0"/>
<rect x="157.0" y="298.0" width="1" height="55.5" fill="#0b66c0"/>
<rect x="156.3" y="332.4" width="2.4" height="21.1" fill="#0b66c0"/>
<rect x="161.0" y="291.8" width="1" height="46.6" fill="#0b66c0"/>
<rect x="160.3" y="317.3" width="2.4" height="21.1" fill="#0b66c0"/>
<rect x="165.0" y="283.9" width="1" height="38.7" fill="#0b66c0"/>
<rect x="164.3" y="305.7" width="2.4" height="16.9" fill="#0b66c0"/>
<rect x="169.0" y="273.1" width="1" height="36.0" fill="#0b66c0"/>
<rect x="168.3" y="298.0" width="2.4" height="11.1" fill="#0b66c0"/>
<rect x="173.0" y="263.1" width="1" height="37.3" fill="#0b66c0"/>
<rect x="172.3" y="291.8" width="2.4" height="8.6" fill="#0b66c0"/>
<rect x="177.0" y="253.6" width="1" height="40.4" fill="#0b66c0"/>
<rect x="176.3" y="283.9" width="2.4" height="10.1" fill="#0b66c0"/>
<rect x="181.0" y="247.0" width="1" height="41.0" fill="#0b66c0"/>
<rect x="180.3" y="273.1" width="2.4" height="14.9" fill="#0b66c0"/>
<rect x="185.0" y="243.2" width="1" height="33.9" fill="#0b66c0"/>
<rect x="184.3" y="263.1" width="2.4" height="14.1" fill="#0b66c0"/>
<rect x="189.0" y="238.9" width="1" height="27.7" fill="#0b66c0"/>
<rect x="188.3" y="253.6" width="2.4" height="13.1" fill="#0b66c0"/>
<rect x="193.0" y="233.4" width="1" height="23.8" fill="#0b66c0"/>
<rect x="192.3" y="247.0" width="2.4" height="10.1" fill="#0b66c0"/>
<rect x="197.0" y="235.1" width="1" height="13.7" fill="#0b66c0"/>
<rect x="196.3" y="243.2" width="2.4" height="5.6" fill="#0b66c0"/>
<rect x="201.0" y="237.9" width="1" height="9.0" fill="#9a1068"/>
<rect x="200.3" y="246.9" width="2.4" height="0.1" fill="#9a1068"/>
<rect x="205.0" y="242.0" width="1" height="6.0" fill="#9a1068"/>
<rect x="204.3" y="242.0" width="2.4" height="6.0" fill="#9a1068"/>
<rect x="209.0" y="243.6" width="1" height="8.7" fill="#9a1068"/>
<rect x="208.3" y="246.4" width="2.4" height="6.0" fill="#9a1068"/>
<rect x="213.0" y="248.0" width="1" height="8.2" fill="#9a1068"/>
<rect x="212.3" y="250.7" width="2.4" height="5.5" fill="#9a1068"/>
<rect x="217.0" y="252.4" width="1" height="7.4" fill="#9a1068"/>
<rect x="216.3" y="254.9" width="2.4" height="4.9" fill="#9a1068"/>
<rect x="221.0" y="253.5" width="1" height="8.5" fill="#0b66c0"/>
<rect x="220.3" y="258.4" width="2.4" height="3.6" fill="#0b66c0"/>
<rect x="225.0" y="246.4" width="1" height="12.1" fill="#0b66c0"/>
<rect x="224.3" y="258.5" width="2.4" height="0.1" fill="#0b66c0"/>
<rect x="229.0" y="242.9" width="1" height="19.1" fill="#0b66c0"/>
<rect x="228.3" y="257.5" width="2.4" height="4.5" fill="#0b66c0"/>
<rect x="233.0" y="235.6" width="1" height="23.4" fill="#0b66c0"/>
<rect x="232.3" y="253.5" width="2.4" height="5.5" fill="#0b66c0"/>
<rect x="237.0" y="226.6" width="1" height="28.4" fill="#0b66c0"/>
<rect x="236.3" y="249.2" width="2.4" height="5.8" fill="#0b66c0"/>
<rect x="241.0" y="217.2" width="1" height="33.8" fill="#0b66c0"/>
<rect x="240.3" y="242.9" width="2.4" height="8.1" fill="#0b66c0"/>
<rect x="245.0" y="206.1" width="1" height="39.2" fill="#0b66c0"/>
<rect x="244.3" y="235.6" width="2.4" height="9.7" fill="#0b66c0"/>
<rect x="249.0" y="192.8" width="1" height="46.2" fill="#0b66c0"/>
<rect x="248.3" y="226.6" width="2.4" height="12.4" fill="#0b66c0"/>
<rect x="253.0" y="178.8" width="1" height="51.2" fill="#0b66c0"/>
<rect x="252.3" y="217.2" width="2.4" height="12.8" fill="#0b66c0"/>
<rect x="257.0" y="166.2" width="1" height="54.8" fill="#0b66c0"/>
<rect x="256.3" y="206.1" width="2.4" height="14.9" fill="#0b66c0"/>
<rect x="261.0" y="155.9" width="1" height="55.1" fill="#0b66c0"/>
<rect x="260.3" y="192.8" width="2.4" height="18.2" fill="#0b66c0"/>
<rect x="265.0" y="145.2" width="1" height="52.8" fill="#0b66c0"/>
<rect x="264.3" y="178.8" width="2.4" height="19.2" fill="#0b66c0"/>
<rect x="269.0" y="133.5" width="1" height="50.5" fill="#0b66c0"/>
<rect x="268.3" y="166.2" width="2.4" height="17.8" fill="#0b66c0"/>
<rect x="273.0" y="124.3" width="1" height="45.7" fill="#0b66c0"/>
<rect x="272.3" y="155.9" width="2.4" height="14.1" fill="#0b66c0"/>
<rect x="277.0" y="119.4" width="1" height="40.6" fill="#0b66c0"/>
<rect x="276.3" y="145.2" width="2.4" height="14.8" fill="#0b66c0"/>
<rect x="281.0" y="116.3" width="1" height="32.7" fill="#0b66c0"/>
<rect x="280.3" y="133.5" width="2.4" height="15.5" fill="#0b66c0"/>
<rect x="285.0" y="110.7" width="1" height="27.3" fill="#0b66c0"/>
<rect x="284.3" y="124.3" width="2.4" height="13.7" fill="#0b66c0"/>
<rect x="289.0" y="109.0" width="1" height="18.6" fill="#0b66c0"/>
<rect x="288.3" y="119.4" width="2.4" height="8.2" fill="#0b66c0"/>
<rect x="293.0" y="110.0" width="1" height="10.4" fill="#0b66c0"/>
<rect x="292.3" y="116.9" width="2.4" height="3.4" fill="#0b66c0"/>
<rect x="297.0" y="103.5" width="1" height="14.4" fill="#0b66c0"/>
<rect x="296.3" y="115.1" width="2.4" height="2.8" fill="#0b66c0"/>
<rect x="301.0" y="105.1" width="1" height="10.5" fill="#0b66c0"/>
<rect x="300.3" y="113.6" width="2.4" height="2.1" fill="#0b66c0"/>
<rect x="305.0" y="104.1" width="1" height="10.0" fill="#0b66c0"/>
<rect x="304.3" y="112.6" width="2.4" height="1.5" fill="#0b66c0"/>
<rect x="309.0" y="107.8" width="1" height="7.1" fill="#9a1068"/>
<rect x="308.3" y="114.9" width="2.4" height="0.1" fill="#9a1068"/>
<rect x="313.0" y="111.9" width="1" height="3.5" fill="#9a1068"/>
<rect x="312.3" y="112.9" width="2.4" height="2.5" fill="#9a1068"/>
<rect x="317.0" y="109.5" width="1" height="9.0" fill="#9a1068"/>
<rect x="316.3" y="114.7" width="2.4" height="3.8" fill="#9a1068"/>
<rect x="321.0" y="115.3" width="1" height="7.1" fill="#9a1068"/>
<rect x="320.3" y="117.0" width="2.4" height="5.4" fill="#9a1068"/>
<rect x="325.0" y="118.5" width="1" height="7.2" fill="#9a1068"/>
<rect x="324.3" y="121.0" width="2.4" height="4.8" fill="#9a1068"/>
<rect x="329.0" y="122.4" width="1" height="5.4" fill="#0b66c0"/>
<rect x="328.3" y="124.5" width="2.4" height="3.3" fill="#0b66c0"/>
<rect x="333.0" y="119.5" width="1" height="9.5" fill="#0b66c0"/>
<rect x="332.3" y="127.3" width="2.4" height="1.6" fill="#0b66c0"/>
<rect x="337.0" y="122.9" width="1" height="5.1" fill="#0b66c0"/>
<rect x="336.3" y="128.1" width="2.4" height="0.1" fill="#0b66c0"/>
<rect x="341.0" y="116.4" width="1" height="10.3" fill="#0b66c0"/>
<rect x="340.3" y="126.7" width="2.4" height="0.1" fill="#0b66c0"/>
<rect x="345.0" y="119.2" width="1" height="8.9" fill="#0b66c0"/>
<rect x="344.3" y="126.3" width="2.4" height="1.8" fill="#0b66c0"/>
<rect x="349.0" y="119.2" width="1" height="7.7" fill="#0b66c0"/>
<rect x="348.3" y="124.8" width="2.4" height="2.1" fill="#0b66c0"/>
<rect x="353.0" y="115.3" width="1" height="10.1" fill="#0b66c0"/>
<rect x="352.3" y="122.8" width="2.4" height="2.6" fill="#0b66c0"/>
<rect x="357.0" y="114.0" width="1" height="9.5" fill="#0b66c0"/>
<rect x="356.3" y="121.0" width="2.4" height="2.5" fill="#0b66c0"/>
<rect x="361.0" y="113.5" width="1" height="9.0" fill="#9a1068"/>
<rect x="360.3" y="122.6" width="2.4" height="0.1" fill="#9a1068"/>
<rect x="365.0" y="115.8" width="1" height="7.4" fill="#9a1068"/>
<rect x="364.3" y="120.7" width="2.4" height="2.5" fill="#9a1068"/>
<rect x="369.0" y="117.0" width="1" height="7.8" fill="#9a1068"/>
<rect x="368.3" y="122.3" width="2.4" height="2.5" fill="#9a1068"/>
<rect x="373.0" y="115.4" width="1" height="10.6" fill="#9a1068"/>
<rect x="372.3" y="124.3" width="2.4" height="1.7" fill="#9a1068"/>
<rect x="377.0" y="119.1" width="1" height="7.3" fill="#0b66c0"/>
<rect x="376.3" y="126.4" width="2.4" height="0.1" fill="#0b66c0"/>
<rect x="381.0" y="114.6" width="1" height="12.1" fill="#0b66c0"/>
<rect x="380.3" y="126.8" width="2.4" height="0.1" fill="#0b66c0"/>
<rect x="385.0" y="118.5" width="1" height="9.0" fill="#0b66c0"/>
<rect x="384.3" y="127.6" width="2.4" height="0.1" fill="#0b66c0"/>
<rect x="389.0" y="117.9" width="1" height="10.0" fill="#9a1068"/>
<rect x="388.3" y="126.7" width="2.4" height="1.2" fill="#9a1068"/>
<rect x="393.0" y="122.7" width="1" height="6.7" fill="#9a1068"/>
<rect x="392.3" y="127.4" width="2.4" height="2.1" fill="#9a1068"/>
<rect x="397.0" y="127.9" width="1" height="5.1" fill="#9a1068"/>
<rect x="396.3" y="128.9" width="2.4" height="4.1" fill="#9a1068"/>
<rect x="401.0" y="129.4" width="1" height="9.6" fill="#9a1068"/>
<rect x="400.3" y="131.2" width="2.4" height="7.8" fill="#9a1068"/>
<rect x="405.0" y="133.0" width="1" height="16.2" fill="#9a1068"/>
<rect x="404.3" y="136.0" width="2.4" height="13.2" fill="#9a1068"/>
<rect x="409.0" y="139.0" width="1" height="21.7" fill="#9a1068"/>
<rect x="408.3" y="144.0" width="2.4" height="16.7" fill="#9a1068"/>
<rect x="413.0" y="149.2" width="1" height="18.3" fill="#9a1068"/>
<rect x="412.3" y="158.0" width="2.4" height="9.6" fill="#9a1068"/>
<rect x="417.0" y="160.7" width="1" height="11.6" fill="#9a1068"/>
<rect x="416.3" y="165.2" width="2.4" height="7.1" fill="#9a1068"/>
<rect x="421.0" y="167.6" width="1" height="7.4" fill="#0b66c0"/>
<rect x="420.3" y="170.5" width="2.4" height="4.5" fill="#0b66c0"/>
<rect x="425.0" y="169.0" width="1" height="6.8" fill="#0b66c0"/>
<rect x="424.3" y="174.4" width="2.4" height="1.4" fill="#0b66c0"/>
<rect x="429.0" y="175.0" width="1" height="3.6" fill="#9a1068"/>
<rect x="428.3" y="175.7" width="2.4" height="2.9" fill="#9a1068"/>
<rect x="433.0" y="175.8" width="1" height="10.4" fill="#9a1068"/>
<rect x="432.3" y="176.0" width="2.4" height="10.2" fill="#9a1068"/>
<rect x="437.0" y="178.6" width="1" height="16.2" fill="#9a1068"/>
<rect x="436.3" y="183.0" width="2.4" height="11.8" fill="#9a1068"/>
<rect x="441.0" y="186.2" width="1" height="18.8" fill="#9a1068"/>
<rect x="440.3" y="191.6" width="2.4" height="13.4" fill="#9a1068"/>
<rect x="445.0" y="194.8" width="1" height="22.5" fill="#9a1068"/>
<rect x="444.3" y="200.8" width="2.4" height="16.4" fill="#9a1068"/>
<rect x="449.0" y="205.0" width="1" height="25.9" fill="#9a1068"/>
<rect x="448.3" y="212.0" width="2.4" height="18.9" fill="#9a1068"/>
<rect x="453.0" y="217.2" width="1" height="26.2" fill="#9a1068"/>
<rect x="452.3" y="226.0" width="2.4" height="17.5" fill="#9a1068"/>
<rect x="457.0" y="230.9" width="1" height="25.0" fill="#9a1068"/>
<rect x="456.3" y="239.0" width="2.4" height="16.9" fill="#9a1068"/>
<rect x="461.0" y="243.5" width="1" height="25.8" fill="#9a1068"/>
<rect x="460.3" y="251.0" width="2.4" height="18.2" fill="#9a1068"/>
<rect x="465.0" y="255.9" width="1" height="27.6" fill="#9a1068"/>
<rect x="464.3" y="264.0" width="2.4" height="19.5" fill="#9a1068"/>
<rect x="469.0" y="269.2" width="1" height="27.9" fill="#9a1068"/>
<rect x="468.3" y="278.0" width="2.4" height="19.1" fill="#9a1068"/>
<rect x="473.0" y="283.5" width="1" height="20.0" fill="#9a1068"/>
<rect x="472.3" y="292.2" width="2.4" height="11.2" fill="#9a1068"/>
<rect x="477.0" y="285.2" width="1" height="19.4" fill="#0b66c0"/>
<rect x="476.3" y="302.6" width="2.4" height="2.0" fill="#0b66c0"/>
<rect x="481.0" y="279.2" width="1" height="25.8" fill="#0b66c0"/>
<rect x="480.3" y="301.8" width="2.4" height="3.2" fill="#0b66c0"/>
<rect x="485.0" y="274.9" width="1" height="29.1" fill="#0b66c0"/>
<rect x="484.3" y="293.5" width="2.4" height="10.5" fill="#0b66c0"/>
<rect x="489.0" y="272.6" width="1" height="25.4" fill="#0b66c0"/>
<rect x="488.3" y="285.2" width="2.4" height="12.8" fill="#0b66c0"/>
<rect x="493.0" y="264.8" width="1" height="22.7" fill="#0b66c0"/>
<rect x="492.3" y="279.2" width="2.4" height="8.2" fill="#0b66c0"/>
<rect x="497.0" y="265.7" width="1" height="15.8" fill="#0b66c0"/>
<rect x="496.3" y="274.9" width="2.4" height="6.6" fill="#0b66c0"/>
<rect x="501.0" y="268.6" width="1" height="7.5" fill="#9a1068"/>
<rect x="500.3" y="272.6" width="2.4" height="3.5" fill="#9a1068"/>
<rect x="505.0" y="272.8" width="1" height="5.0" fill="#9a1068"/>
<rect x="504.3" y="272.8" width="2.4" height="5.0" fill="#9a1068"/>
<rect x="509.0" y="272.6" width="1" height="12.4" fill="#9a1068"/>
<rect x="508.3" y="275.9" width="2.4" height="9.1" fill="#9a1068"/>
<rect x="513.0" y="277.8" width="1" height="24.2" fill="#9a1068"/>
<rect x="512.3" y="281.0" width="2.4" height="21.0" fill="#9a1068"/>
<rect x="517.0" y="285.0" width="1" height="31.5" fill="#9a1068"/>
<rect x="516.3" y="295.0" width="2.4" height="21.5" fill="#9a1068"/>
<rect x="521.0" y="302.0" width="1" height="24.6" fill="#9a1068"/>
<rect x="520.3" y="312.0" width="2.4" height="14.6" fill="#9a1068"/>
<rect x="525.0" y="316.5" width="1" height="15.6" fill="#9a1068"/>
<rect x="524.3" y="324.0" width="2.4" height="8.1" fill="#9a1068"/>
<rect x="529.0" y="324.7" width="1" height="9.3" fill="#0b66c0"/>
<rect x="528.3" y="331.0" width="2.4" height="3.0" fill="#0b66c0"/>
<rect x="533.0" y="323.3" width="1" height="8.1" fill="#0b66c0"/>
<rect x="532.3" y="331.4" width="2.4" height="0.1" fill="#0b66c0"/>
<rect x="537.0" y="309.2" width="1" height="24.8" fill="#0b66c0"/>
<rect x="536.3" y="330.1" width="2.4" height="3.9" fill="#0b66c0"/>
<rect x="541.0" y="299.6" width="1" height="32.4" fill="#0b66c0"/>
<rect x="540.3" y="324.8" width="2.4" height="7.2" fill="#0b66c0"/>
<rect x="545.0" y="291.5" width="1" height="35.5" fill="#0b66c0"/>
<rect x="544.3" y="318.0" width="2.4" height="9.0" fill="#0b66c0"/>
<rect x="549.0" y="284.0" width="1" height="37.0" fill="#0b66c0"/>
<rect x="548.3" y="309.2" width="2.4" height="11.8" fill="#0b66c0"/>
<rect x="553.0" y="276.0" width="1" height="37.0" fill="#0b66c0"/>
<rect x="552.3" y="299.6" width="2.4" height="13.4" fill="#0b66c0"/>
<rect x="557.0" y="270.9" width="1" height="32.1" fill="#0b66c0"/>
<rect x="556.3" y="291.5" width="2.4" height="11.5" fill="#0b66c0"/>
<rect x="561.0" y="267.7" width="1" height="26.3" fill="#0b66c0"/>
<rect x="560.3" y="284.0" width="2.4" height="10.0" fill="#0b66c0"/>
<rect x="565.0" y="261.7" width="1" height="25.3" fill="#0b66c0"/>
<rect x="564.3" y="276.0" width="2.4" height="11.0" fill="#0b66c0"/>
<rect x="569.0" y="261.4" width="1" height="17.6" fill="#0b66c0"/>
<rect x="568.3" y="270.9" width="2.4" height="8.1" fill="#0b66c0"/>
<rect x="573.0" y="254.2" width="1" height="18.0" fill="#0b66c0"/>
<rect x="572.3" y="267.7" width="2.4" height="4.5" fill="#0b66c0"/>
<rect x="577.0" y="262.6" width="1" height="6.3" fill="#9a1068"/>
<rect x="576.3" y="267.2" width="2.4" height="1.7" fill="#9a1068"/>
<rect x="581.0" y="265.6" width="1" height="5.8" fill="#9a1068"/>
<rect x="580.3" y="265.6" width="2.4" height="5.8" fill="#9a1068"/>
<rect x="585.0" y="267.2" width="1" height="9.6" fill="#9a1068"/>
<rect x="584.3" y="269.8" width="2.4" height="6.9" fill="#9a1068"/>
<rect x="589.0" y="271.4" width="1" height="11.3" fill="#9a1068"/>
<rect x="588.3" y="274.5" width="2.4" height="8.2" fill="#9a1068"/>
<rect x="593.0" y="276.8" width="1" height="10.8" fill="#9a1068"/>
<rect x="592.3" y="280.5" width="2.4" height="7.0" fill="#9a1068"/>
<rect x="597.0" y="282.7" width="1" height="7.1" fill="#9a1068"/>
<rect x="596.3" y="286.0" width="2.4" height="3.8" fill="#9a1068"/>
<rect x="601.0" y="276.2" width="1" height="13.2" fill="#0b66c0"/>
<rect x="600.3" y="287.8" width="2.4" height="1.6" fill="#0b66c0"/>
<rect x="605.0" y="278.5" width="1" height="10.2" fill="#0b66c0"/>
<rect x="604.3" y="285.8" width="2.4" height="2.9" fill="#0b66c0"/>
<rect x="609.0" y="275.7" width="1" height="10.8" fill="#0b66c0"/>
<rect x="608.3" y="283.8" width="2.4" height="2.8" fill="#0b66c0"/>
<rect x="613.0" y="278.0" width="1" height="6.5" fill="#0b66c0"/>
<rect x="612.3" y="282.8" width="2.4" height="1.8" fill="#0b66c0"/>
<rect x="617.0" y="269.6" width="1" height="12.5" fill="#0b66c0"/>
<rect x="616.3" y="282.1" width="2.4" height="0.1" fill="#0b66c0"/>
<rect x="621.0" y="272.9" width="1" height="8.7" fill="#0b66c0"/>
<rect x="620.3" y="281.6" width="2.4" height="0.1" fill="#0b66c0"/>
<rect x="625.0" y="272.7" width="1" height="8.5" fill="#0b66c0"/>
<rect x="624.3" y="281.2" width="2.4" height="0.1" fill="#0b66c0"/>
<rect x="629.0" y="267.2" width="1" height="12.6" fill="#0b66c0"/>
<rect x="628.3" y="279.9" width="2.4" height="0.1" fill="#0b66c0"/>
<rect x="633.0" y="262.8" width="1" height="18.6" fill="#0b66c0"/>
<rect x="632.3" y="279.1" width="2.4" height="2.2" fill="#0b66c0"/>
<rect x="637.0" y="260.8" width="1" height="19.4" fill="#0b66c0"/>
<rect x="636.3" y="276.1" width="2.4" height="4.1" fill="#0b66c0"/>
<rect x="641.0" y="256.5" width="1" height="20.8" fill="#0b66c0"/>
<rect x="640.3" y="270.0" width="2.4" height="7.2" fill="#0b66c0"/>
<rect x="645.0" y="255.3" width="1" height="17.7" fill="#0b66c0"/>
<rect x="644.3" y="262.8" width="2.4" height="10.2" fill="#0b66c0"/>
<rect x="649.0" y="258.8" width="1" height="6.2" fill="#9a1068"/>
<rect x="648.3" y="260.8" width="2.4" height="4.2" fill="#9a1068"/>
<rect x="653.0" y="259.0" width="1" height="7.2" fill="#9a1068"/>
<rect x="652.3" y="259.0" width="2.4" height="7.2" fill="#9a1068"/>
<rect x="657.0" y="260.8" width="1" height="15.9" fill="#9a1068"/>
<rect x="656.3" y="263.8" width="2.4" height="12.9" fill="#9a1068"/>
<rect x="661.0" y="266.2" width="1" height="24.1" fill="#9a1068"/>
<rect x="660.3" y="272.5" width="2.4" height="17.8" fill="#9a1068"/>
<rect x="665.0" y="276.8" width="1" height="22.5" fill="#9a1068"/>
<rect x="664.3" y="285.5" width="2.4" height="13.8" fill="#9a1068"/>
<rect x="669.0" y="290.3" width="1" height="14.5" fill="#9a1068"/>
<rect x="668.3" y="297.0" width="2.4" height="7.9" fill="#9a1068"/>
<rect x="673.0" y="298.8" width="1" height="9.9" fill="#0b66c0"/>
<rect x="672.3" y="303.0" width="2.4" height="5.7" fill="#0b66c0"/>
<rect x="677.0" y="301.7" width="1" height="7.7" fill="#0b66c0"/>
<rect x="676.3" y="308.0" width="2.4" height="1.4" fill="#0b66c0"/>
<rect x="681.0" y="298.4" width="1" height="11.0" fill="#0b66c0"/>
<rect x="680.3" y="309.4" width="2.4" height="0.1" fill="#0b66c0"/>
<rect x="685.0" y="298.6" width="1" height="9.4" fill="#0b66c0"/>
<rect x="684.3" y="308.0" width="2.4" height="0.1" fill="#0b66c0"/>
<rect x="689.0" y="299.0" width="1" height="10.4" fill="#0b66c0"/>
<rect x="688.3" y="307.0" width="2.4" height="2.4" fill="#0b66c0"/>
<rect x="693.0" y="294.7" width="1" height="13.7" fill="#0b66c0"/>
<rect x="692.3" y="304.9" width="2.4" height="3.6" fill="#0b66c0"/>
<rect x="697.0" y="301.9" width="1" height="6.0" fill="#9a1068"/>
<rect x="696.3" y="305.3" width="2.4" height="2.6" fill="#9a1068"/>
<rect x="701.0" y="304.9" width="1" height="7.2" fill="#9a1068"/>
<rect x="700.3" y="305.8" width="2.4" height="6.3" fill="#9a1068"/>
<rect x="705.0" y="307.9" width="1" height="7.6" fill="#9a1068"/>
<rect x="704.3" y="310.8" width="2.4" height="4.7" fill="#9a1068"/>
<rect x="709.0" y="312.1" width="1" height="7.4" fill="#9a1068"/>
<rect x="708.3" y="314.2" width="2.4" height="5.3" fill="#9a1068"/>
<rect x="713.0" y="315.5" width="1" height="5.9" fill="#9a1068"/>
<rect x="712.3" y="318.0" width="2.4" height="3.4" fill="#9a1068"/>
<rect x="717.0" y="313.2" width="1" height="8.8" fill="#0b66c0"/>
<rect x="716.3" y="322.0" width="2.4" height="0.1" fill="#0b66c0"/>
<rect x="721.0" y="314.7" width="1" height="7.3" fill="#0b66c0"/>
<rect x="720.3" y="322.0" width="2.4" height="0.1" fill="#0b66c0"/>
<rect x="725.0" y="312.5" width="1" height="6.6" fill="#0b66c0"/>
<rect x="724.3" y="319.1" width="2.4" height="0.1" fill="#0b66c0"/>
<rect x="729.0" y="310.7" width="1" height="11.3" fill="#0b66c0"/>
<rect x="728.3" y="318.2" width="2.4" height="3.8" fill="#0b66c0"/>
<rect x="733.0" y="307.4" width="1" height="12.1" fill="#9a1068"/>
<rect x="732.3" y="316.7" width="2.4" height="2.8" fill="#9a1068"/>
<rect x="737.0" y="302.8" width="1" height="13.0" fill="#9a1068"/>
<rect x="736.3" y="315.8" width="2.4" height="0.1" fill="#9a1068"/>
<rect x="741.0" y="307.1" width="1" height="8.3" fill="#9a1068"/>
<rect x="740.3" y="315.4" width="2.4" height="0.1" fill="#9a1068"/>
<rect x="745.0" y="303.3" width="1" height="11.4" fill="#0b66c0"/>
<rect x="744.3" y="314.7" width="2.4" height="0.1" fill="#0b66c0"/>
<rect x="749.0" y="302.7" width="1" height="12.8" fill="#0b66c0"/>
<rect x="748.3" y="314.0" width="2.4" height="1.4" fill="#0b66c0"/>
<rect x="753.0" y="302.5" width="1" height="12.5" fill="#0b66c0"/>
<rect x="752.3" y="311.3" width="2.4" height="3.7" fill="#0b66c0"/>
<rect x="757.0" y="308.4" width="1" height="5.4" fill="#9a1068"/>
<rect x="756.3" y="313.8" width="2.4" height="0.1" fill="#9a1068"/>
<rect x="761.0" y="306.1" width="1" height="8.3" fill="#9a1068"/>
<rect x="760.3" y="311.9" width="2.4" height="2.5" fill="#9a1068"/>
<rect x="765.0" y="307.2" width="1" height="9.7" fill="#9a1068"/>
<rect x="764.3" y="313.6" width="2.4" height="3.2" fill="#9a1068"/>
<rect x="769.0" y="312.9" width="1" height="6.2" fill="#9a1068"/>
<rect x="768.3" y="315.9" width="2.4" height="3.3" fill="#9a1068"/>
<rect x="773.0" y="316.6" width="1" height="3.9" fill="#9a1068"/>
<rect x="772.3" y="318.4" width="2.4" height="2.1" fill="#9a1068"/>
<rect x="777.0" y="313.2" width="1" height="8.0" fill="#9a1068"/>
<rect x="776.3" y="321.2" width="2.4" height="0.1" fill="#9a1068"/>
<rect x="781.0" y="314.9" width="1" height="6.4" fill="#9a1068"/>
<rect x="780.3" y="321.3" width="2.4" height="0.1" fill="#9a1068"/>
<rect x="785.0" y="308.1" width="1" height="12.7" fill="#9a1068"/>
<rect x="784.3" y="320.9" width="2.4" height="0.1" fill="#9a1068"/>
<rect x="789.0" y="308.0" width="1" height="12.3" fill="#0b66c0"/>
<rect x="788.3" y="320.3" width="2.4" height="0.1" fill="#0b66c0"/>
<rect x="793.0" y="309.3" width="1" height="12.2" fill="#9a1068"/>
<rect x="792.3" y="321.6" width="2.4" height="0.1" fill="#9a1068"/>
<rect x="797.0" y="317.2" width="1" height="5.5" fill="#9a1068"/>
<rect x="796.3" y="320.2" width="2.4" height="2.5" fill="#9a1068"/>
<rect x="801.0" y="320.5" width="1" height="6.8" fill="#9a1068"/>
<rect x="800.3" y="321.0" width="2.4" height="6.3" fill="#9a1068"/>
<rect x="805.0" y="322.7" width="1" height="7.8" fill="#0b66c0"/>
<rect x="804.3" y="325.6" width="2.4" height="4.9" fill="#0b66c0"/>
<rect x="809.0" y="321.9" width="1" height="10.1" fill="#0b66c0"/>
<rect x="808.3" y="329.6" width="2.4" height="2.4" fill="#0b66c0"/>
<rect x="813.0" y="322.6" width="1" height="9.4" fill="#0b66c0"/>
<rect x="812.3" y="332.0" width="2.4" height="0.1" fill="#0b66c0"/>
<rect x="817.0" y="325.0" width="1" height="7.0" fill="#0b66c0"/>
<rect x="816.3" y="332.0" width="2.4" height="0.1" fill="#0b66c0"/>
<rect x="821.0" y="326.7" width="1" height="5.2" fill="#0b66c0"/>
<rect x="820.3" y="331.9" width="2.4" height="0.1" fill="#0b66c0"/>
<rect x="825.0" y="321.7" width="1" height="9.9" fill="#9a1068"/>
<rect x="824.3" y="331.6" width="2.4" height="0.1" fill="#9a1068"/>
<rect x="829.0" y="326.1" width="1" height="5.5" fill="#9a1068"/>
<rect x="828.3" y="331.6" width="2.4" height="0.1" fill="#9a1068"/>
<rect x="833.0" y="322.5" width="1" height="9.1" fill="#9a1068"/>
<rect x="832.3" y="331.6" width="2.4" height="0.1" fill="#9a1068"/>
<rect x="837.0" y="320.4" width="1" height="11.2" fill="#9a1068"/>
<rect x="836.3" y="331.6" width="2.4" height="0.1" fill="#9a1068"/>
<rect x="841.0" y="320.8" width="1" height="10.2" fill="#9a1068"/>
<rect x="840.3" y="331.0" width="2.4" height="0.1" fill="#9a1068"/>
<rect x="845.0" y="320.0" width="1" height="10.9" fill="#0b66c0"/>
<rect x="844.3" y="330.9" width="2.4" height="0.1" fill="#0b66c0"/>
<rect x="849.0" y="326.6" width="1" height="7.3" fill="#9a1068"/>
<rect x="848.3" y="333.9" width="2.4" height="0.1" fill="#9a1068"/>
<rect x="853.0" y="330.6" width="1" height="5.0" fill="#9a1068"/>
<rect x="852.3" y="330.6" width="2.4" height="5.0" fill="#9a1068"/>
<rect x="857.0" y="331.5" width="1" height="12.2" fill="#9a1068"/>
<rect x="856.3" y="333.0" width="2.4" height="10.8" fill="#9a1068"/>
<rect x="861.0" y="335.6" width="1" height="18.1" fill="#9a1068"/>
<rect x="860.3" y="340.0" width="2.4" height="13.8" fill="#9a1068"/>
<rect x="865.0" y="343.8" width="1" height="20.0" fill="#9a1068"/>
<rect x="864.3" y="350.0" width="2.4" height="13.8" fill="#9a1068"/>
<rect x="869.0" y="353.8" width="1" height="18.9" fill="#9a1068"/>
<rect x="868.3" y="360.0" width="2.4" height="12.6" fill="#9a1068"/>
<rect x="873.0" y="363.8" width="1" height="15.5" fill="#9a1068"/>
<rect x="872.3" y="370.0" width="2.4" height="9.2" fill="#9a1068"/>
<rect x="877.0" y="372.6" width="1" height="12.6" fill="#9a1068"/>
<rect x="876.3" y="377.0" width="2.4" height="8.2" fill="#9a1068"/>
<rect x="881.0" y="379.2" width="1" height="11.2" fill="#9a1068"/>
<rect x="880.3" y="383.0" width="2.4" height="7.5" fill="#9a1068"/>
<rect x="885.0" y="385.2" width="1" height="9.2" fill="#9a1068"/>
<rect x="884.3" y="389.0" width="2.4" height="5.5" fill="#9a1068"/>
<rect x="889.0" y="390.5" width="1" height="9.1" fill="#9a1068"/>
<rect x="888.3" y="393.0" width="2.4" height="6.6" fill="#9a1068"/>
<rect x="893.0" y="394.5" width="1" height="13.2" fill="#9a1068"/>
<rect x="892.3" y="397.0" width="2.4" height="10.8" fill="#9a1068"/>
<rect x="897.0" y="399.6" width="1" height="17.8" fill="#9a1068"/>
<rect x="896.3" y="404.0" width="2.4" height="13.4" fill="#9a1068"/>
<rect x="901.0" y="407.8" width="1" height="17.1" fill="#9a1068"/>
<rect x="900.3" y="414.0" width="2.4" height="10.9" fill="#9a1068"/>
<rect x="905.0" y="417.4" width="1" height="10.4" fill="#0b66c0"/>
<rect x="904.3" y="423.0" width="2.4" height="4.8" fill="#0b66c0"/>
<rect x="909.0" y="419.5" width="1" height="8.3" fill="#0b66c0"/>
<rect x="908.3" y="427.8" width="2.4" height="0.1" fill="#0b66c0"/>
<rect x="913.0" y="420.7" width="1" height="8.8" fill="#9a1068"/>
<rect x="912.3" y="429.5" width="2.4" height="0.1" fill="#9a1068"/>
<rect x="917.0" y="427.6" width="1" height="2.9" fill="#9a1068"/>
<rect x="916.3" y="427.6" width="2.4" height="2.9" fill="#9a1068"/>
<rect x="921.0" y="428.1" width="1" height="7.6" fill="#9a1068"/>
<rect x="920.3" y="429.0" width="2.4" height="6.8" fill="#9a1068"/>
<rect x="925.0" y="430.5" width="1" height="16.1" fill="#9a1068"/>
<rect x="924.3" y="433.0" width="2.4" height="13.6" fill="#9a1068"/>
<rect x="929.0" y="435.8" width="1" height="18.6" fill="#9a1068"/>
<rect x="928.3" y="443.2" width="2.4" height="11.1" fill="#9a1068"/>
<rect x="933.0" y="446.6" width="1" height="14.8" fill="#9a1068"/>
<rect x="932.3" y="451.8" width="2.4" height="9.6" fill="#9a1068"/>
<rect x="937.0" y="454.4" width="1" height="15.9" fill="#9a1068"/>
<rect x="936.3" y="458.8" width="2.4" height="11.5" fill="#9a1068"/>
<rect x="941.0" y="461.4" width="1" height="18.1" fill="#9a1068"/>
<rect x="940.3" y="466.5" width="2.4" height="13.0" fill="#9a1068"/>
<rect x="945.0" y="470.2" width="1" height="17.8" fill="#9a1068"/>
<rect x="944.3" y="476.2" width="2.4" height="11.8" fill="#9a1068"/>
<rect x="949.0" y="479.5" width="1" height="15.0" fill="#0b66c0"/>
<rect x="948.3" y="485.0" width="2.4" height="9.5" fill="#0b66c0"/>
<rect x="953.0" y="487.6" width="1" height="8.4" fill="#0b66c0"/>
<rect x="952.3" y="493.0" width="2.4" height="3.0" fill="#0b66c0"/>
<rect x="957.0" y="486.8" width="1" height="7.7" fill="#0b66c0"/>
<rect x="956.3" y="494.5" width="2.4" height="0.1" fill="#0b66c0"/>
<rect x="961.0" y="467.9" width="1" height="28.1" fill="#0b66c0"/>
<rect x="960.3" y="493.5" width="2.4" height="2.5" fill="#0b66c0"/>
<rect x="965.0" y="458.4" width="1" height="36.6" fill="#0b66c0"/>
<rect x="964.3" y="487.6" width="2.4" height="7.4" fill="#0b66c0"/>
<rect x="969.0" y="452.1" width="1" height="38.9" fill="#0b66c0"/>
<rect x="968.3" y="478.2" width="2.4" height="12.8" fill="#0b66c0"/>
<rect x="973.0" y="447.1" width="1" height="34.9" fill="#0b66c0"/>
<rect x="972.3" y="467.9" width="2.4" height="14.1" fill="#0b66c0"/>
<rect x="977.0" y="442.6" width="1" height="29.4" fill="#0b66c0"/>
<rect x="976.3" y="458.4" width="2.4" height="13.6" fill="#0b66c0"/>
<rect x="981.0" y="438.8" width="1" height="22.2" fill="#0b66c0"/>
<rect x="980.3" y="452.1" width="2.4" height="8.9" fill="#0b66c0"/>
<rect x="985.0" y="432.7" width="1" height="21.3" fill="#0b66c0"/>
<rect x="984.3" y="447.1" width="2.4" height="6.9" fill="#0b66c0"/>
<rect x="989.0" y="430.5" width="1" height="18.5" fill="#0b66c0"/>
<rect x="988.3" y="443.2" width="2.4" height="5.8" fill="#0b66c0"/>
<rect x="993.0" y="435.1" width="1" height="8.9" fill="#0b66c0"/>
<rect x="992.3" y="441.2" width="2.4" height="2.8" fill="#0b66c0"/>
<rect x="997.0" y="433.1" width="1" height="10.1" fill="#9a1068"/>
<rect x="996.3" y="443.2" width="2.4" height="0.1" fill="#9a1068"/>
<rect x="1001.0" y="435.4" width="1" height="8.4" fill="#9a1068"/>
<rect x="1000.3" y="440.0" width="2.4" height="3.8" fill="#9a1068"/>
<rect x="1005.0" y="429.9" width="1" height="15.0" fill="#0b66c0"/>
<rect x="1004.3" y="443.0" width="2.4" height="1.9" fill="#0b66c0"/>
<rect x="1009.0" y="429.8" width="1" height="15.2" fill="#0b66c0"/>
<rect x="1008.3" y="442.1" width="2.4" height="2.9" fill="#0b66c0"/>
<rect x="1013.0" y="424.3" width="1" height="20.3" fill="#0b66c0"/>
<rect x="1012.3" y="435.4" width="2.4" height="9.2" fill="#0b66c0"/>
<rect x="1017.0" y="422.2" width="1" height="15.8" fill="#0b66c0"/>
<rect x="1016.3" y="429.9" width="2.4" height="8.1" fill="#0b66c0"/>
<rect x="1021.0" y="427.0" width="1" height="4.0" fill="#9a1068"/>
<rect x="1020.3" y="429.8" width="2.4" height="1.2" fill="#9a1068"/>
<rect x="1025.0" y="428.0" width="1" height="6.4" fill="#9a1068"/>
<rect x="1024.3" y="428.0" width="2.4" height="6.4" fill="#9a1068"/>
<rect x="1029.0" y="429.8" width="1" height="10.9" fill="#9a1068"/>
<rect x="1028.3" y="432.7" width="2.4" height="7.9" fill="#9a1068"/>
<rect x="1033.0" y="434.4" width="1" height="13.6" fill="#9a1068"/>
<rect x="1032.3" y="438.2" width="2.4" height="9.8" fill="#9a1068"/>
<rect x="1037.0" y="440.6" width="1" height="15.0" fill="#9a1068"/>
<rect x="1036.3" y="445.0" width="2.4" height="10.6" fill="#9a1068"/>
<rect x="1041.0" y="448.0" width="1" height="14.6" fill="#9a1068"/>
<rect x="1040.3" y="453.0" width="2.4" height="9.6" fill="#9a1068"/>
<rect x="1045.0" y="455.6" width="1" height="14.0" fill="#9a1068"/>
<rect x="1044.3" y="460.0" width="2.4" height="9.6" fill="#9a1068"/>
<rect x="1049.0" y="462.6" width="1" height="14.0" fill="#9a1068"/>
<rect x="1048.3" y="467.0" width="2.4" height="9.6" fill="#9a1068"/>
<rect x="1053.0" y="469.6" width="1" height="13.6" fill="#9a1068"/>
<rect x="1052.3" y="474.0" width="2.4" height="9.2" fill="#9a1068"/>
<rect x="1057.0" y="476.6" width="1" height="12.2" fill="#9a1068"/>
<rect x="1056.3" y="481.0" width="2.4" height="7.9" fill="#9a1068"/>
<rect x="1061.0" y="483.2" width="1" height="9.9" fill="#9a1068"/>
<rect x="1060.3" y="487.0" width="2.4" height="6.1" fill="#9a1068"/>
<rect x="1065.0" y="486.4" width="1" height="9.5" fill="#9a1068"/>
<rect x="1064.3" y="492.0" width="2.4" height="3.9" fill="#9a1068"/>
<rect x="1069.0" y="487.3" width="1" height="10.6" fill="#9a1068"/>
<rect x="1068.3" y="495.0" width="2.4" height="2.9" fill="#9a1068"/>
<rect x="1073.0" y="490.8" width="1" height="8.4" fill="#9a1068"/>
<rect x="1072.3" y="497.4" width="2.4" height="1.8" fill="#9a1068"/>
<rect x="1077.0" y="490.2" width="1" height="8.6" fill="#0b66c0"/>
<rect x="1076.3" y="498.8" width="2.4" height="0.1" fill="#0b66c0"/>
<rect x="1081.0" y="480.4" width="1" height="19.6" fill="#0b66c0"/>
<rect x="1080.3" y="497.8" width="2.4" height="2.2" fill="#0b66c0"/>
<rect x="1085.0" y="472.6" width="1" height="26.8" fill="#0b66c0"/>
<rect x="1084.3" y="492.9" width="2.4" height="6.5" fill="#0b66c0"/>
<rect x="1089.0" y="464.0" width="1" height="31.0" fill="#0b66c0"/>
<rect x="1088.3" y="487.0" width="2.4" height="8.0" fill="#0b66c0"/>
<rect x="1093.0" y="454.5" width="1" height="34.9" fill="#0b66c0"/>
<rect x="1092.3" y="480.4" width="2.4" height="9.0" fill="#0b66c0"/>
<rect x="1097.0" y="442.5" width="1" height="40.5" fill="#0b66c0"/>
<rect x="1096.3" y="472.6" width="2.4" height="10.4" fill="#0b66c0"/>
<rect x="1101.0" y="427.5" width="1" height="48.5" fill="#0b66c0"/>
<rect x="1100.3" y="464.0" width="2.4" height="12.0" fill="#0b66c0"/>
<rect x="1105.0" y="412.5" width="1" height="54.5" fill="#0b66c0"/>
<rect x="1104.3" y="454.5" width="2.4" height="12.5" fill="#0b66c0"/>
<rect x="1109.0" y="402.4" width="1" height="56.6" fill="#0b66c0"/>
<rect x="1108.3" y="442.5" width="2.4" height="16.5" fill="#0b66c0"/>
<rect x="1113.0" y="394.0" width="1" height="53.0" fill="#0b66c0"/>
<rect x="1112.3" y="427.5" width="2.4" height="19.5" fill="#0b66c0"/>
<rect x="1117.0" y="384.8" width="1" height="50.2" fill="#0b66c0"/>
<rect x="1116.3" y="412.5" width="2.4" height="22.5" fill="#0b66c0"/>
<rect x="1121.0" y="373.5" width="1" height="43.5" fill="#0b66c0"/>
<rect x="1120.3" y="402.4" width="2.4" height="14.6" fill="#0b66c0"/>
<rect x="1125.0" y="362.8" width="1" height="43.0" fill="#0b66c0"/>
<rect x="1124.3" y="394.0" width="2.4" height="11.8" fill="#0b66c0"/>
<rect x="1129.0" y="354.5" width="1" height="42.5" fill="#0b66c0"/>
<rect x="1128.3" y="384.8" width="2.4" height="12.2" fill="#0b66c0"/>
<rect x="1133.0" y="347.8" width="1" height="40.8" fill="#0b66c0"/>
<rect x="1132.3" y="373.5" width="2.4" height="15.0" fill="#0b66c0"/>
<rect x="1137.0" y="341.8" width="1" height="36.2" fill="#0b66c0"/>
<rect x="1136.3" y="362.8" width="2.4" height="15.2" fill="#0b66c0"/>
<rect x="1141.0" y="335.9" width="1" height="30.6" fill="#0b66c0"/>
<rect x="1140.3" y="354.5" width="2.4" height="12.0" fill="#0b66c0"/>
<rect x="1145.0" y="332.4" width="1" height="24.8" fill="#0b66c0"/>
<rect x="1144.3" y="347.8" width="2.4" height="9.4" fill="#0b66c0"/>
<rect x="1149.0" y="328.7" width="1" height="21.3" fill="#0b66c0"/>
<rect x="1148.3" y="341.8" width="2.4" height="8.2" fill="#0b66c0"/>
<rect x="1153.0" y="321.8" width="1" height="22.2" fill="#0b66c0"/>
<rect x="1152.3" y="335.9" width="2.4" height="8.1" fill="#0b66c0"/>
<polyline points="5.0,191.0 20.0,188.0 40.0,180.0 60.0,171.0 76.0,164.4 78.0,164.0" fill="none" stroke="#1b1b70" stroke-width="7.2" stroke-linejoin="round" stroke-linecap="round"/>
<polyline points="247.0,227.5 254.0,227.4 274.0,223.0 294.0,214.0 314.0,205.0 334.0,198.0 354.0,192.0 374.0,186.0 394.0,181.0 398.0,180.4" fill="none" stroke="#1b1b70" stroke-width="7.2" stroke-linejoin="round" stroke-linecap="round"/>
<polyline points="1110.0,437.8 1115.0,439.0 1125.0,440.0 1135.0,438.5 1145.0,435.0 1155.0,430.0" fill="none" stroke="#1b1b70" stroke-width="7.2" stroke-linejoin="round" stroke-linecap="round"/>
<polyline points="1155.0,430.0 1156.0,430.0" fill="none" stroke="#1b1b70" stroke-width="7.2" stroke-linejoin="round" stroke-linecap="round"/>
<polyline points="78.0,164.0 86.0,162.6 100.0,164.0 112.0,170.0 128.0,185.0 144.0,199.0 160.0,209.0 180.0,217.0 200.0,221.0 220.0,224.6 234.0,227.0 244.0,227.5 247.0,227.5" fill="none" stroke="#800a8c" stroke-width="7.8" stroke-linejoin="round" stroke-linecap="round"/>
<polyline points="398.0,180.4 414.0,178.0 434.0,177.0 454.0,180.6 468.0,187.0 488.0,195.0 508.0,203.0 528.0,215.0 548.0,225.0 568.0,231.0 588.0,236.5 608.0,242.3 628.0,248.3 648.0,253.2 668.0,260.5 688.0,268.7 702.0,274.0 762.0,294.0 802.0,303.4 862.0,316.0 902.0,330.4 936.0,352.0 955.0,368.0 975.0,381.0 995.0,390.0 1015.0,399.0 1035.0,406.0 1055.0,416.0 1075.0,427.0 1095.0,434.0 1107.0,437.0 1110.0,437.8" fill="none" stroke="#800a8c" stroke-width="7.8" stroke-linejoin="round" stroke-linecap="round"/>
<polyline points="5.0,158.0 8.0,159.0 12.0,157.0 17.0,153.0 21.0,145.0 25.0,124.0 29.0,109.0 33.0,102.0 37.0,98.4 45.0,95.0 53.0,87.0 60.0,79.0 64.0,77.0 69.0,82.0 77.0,97.4 81.0,111.0 85.0,129.0 88.0,145.0 92.4,172.0 96.6,192.4 100.6,217.0 104.6,252.0 109.0,289.0 113.0,324.0 117.0,352.0 120.6,372.0 125.0,382.0 130.0,386.6 133.0,386.0 140.0,378.0 144.6,369.0 148.6,355.0 152.6,340.0 156.6,324.0 160.6,310.0 164.6,301.0 169.0,294.0 173.0,288.0 180.0,269.0 188.0,250.0 193.0,244.0 197.0,242.0 208.0,254.0 217.0,262.0 222.0,262.0 234.0,250.0 241.0,239.0 245.0,230.0 249.0,221.0 253.0,211.0 257.0,198.0 261.0,184.0 265.0,170.0 269.0,160.0 273.0,149.0 275.0,144.0 279.0,132.0 284.0,121.0 292.0,116.0 300.0,113.0 304.0,112.4 312.0,116.0 318.0,122.0 324.0,127.0 330.0,129.0 338.0,128.0 346.0,125.0 354.0,121.0 358.0,120.6 364.0,124.0 372.0,126.4 378.0,126.4 384.0,127.0 392.0,130.0 397.0,136.0 401.0,144.0 405.0,158.0 410.0,167.0 416.0,174.0 420.0,175.6 425.0,176.0 429.0,183.0 436.0,198.0 441.0,212.0 445.0,226.0 449.0,239.0 453.0,251.0 457.0,264.0 461.0,278.0 464.0,289.0 468.0,302.0 473.0,305.0 477.0,304.0 481.0,298.0 484.0,289.0 492.0,277.0 498.0,272.0 505.0,281.0 508.0,289.0 509.5,298.0 513.0,312.0 517.0,324.0 521.0,331.0 525.0,334.0 529.0,334.0 533.0,332.0 537.0,327.0 541.0,321.0 545.0,313.0 549.0,303.0 553.0,294.0 556.0,289.0 564.0,273.0 573.0,265.6 580.0,273.0 588.0,285.0 592.0,289.0 595.0,290.0 598.0,288.0 608.0,283.0 628.0,281.0 636.0,275.0 641.0,265.0 645.0,259.0 650.0,265.0 654.0,275.0 658.0,289.0 661.0,297.0 665.0,303.0 669.0,308.0 672.0,309.4 684.0,309.4 688.0,305.6 692.0,304.4 696.0,310.0 702.0,315.0 708.0,321.0 714.0,322.0 722.0,322.0 728.0,317.0 736.0,316.0 745.0,315.0 751.0,311.0 758.0,314.0 766.0,319.0 772.0,321.0 784.0,321.4 788.0,320.0 793.0,321.0 800.0,329.0 805.0,332.0 820.0,332.0 824.0,331.6 840.0,331.6 844.0,330.0 849.0,333.0 853.0,340.0 857.0,350.0 861.0,360.0 865.0,370.0 869.0,377.0 873.0,383.0 877.0,389.0 881.0,393.0 885.0,397.0 889.0,404.0 893.0,414.0 897.0,423.0 901.0,428.0 904.0,427.6 909.0,427.6 913.0,429.0 918.0,434.0 920.0,441.0 924.0,450.0 928.0,457.0 932.0,464.0 936.0,474.0 941.0,485.0 945.0,493.0 948.0,496.0 956.0,496.0 961.0,491.0 965.0,482.0 969.0,472.0 973.0,461.0 977.0,454.0 981.0,449.0 985.0,444.0 989.0,442.0 993.0,440.0 997.0,443.0 1001.0,445.0 1005.0,444.6 1009.0,438.0 1013.0,431.0 1017.0,428.0 1023.0,435.0 1028.0,443.0 1033.0,453.0 1037.0,460.0 1041.0,467.0 1045.0,474.0 1049.0,481.0 1053.0,487.0 1057.0,492.0 1061.0,495.0 1065.0,497.4 1073.0,500.0 1077.0,499.4 1081.0,495.0 1085.0,489.4 1089.0,483.0 1093.0,476.0 1097.0,467.0 1101.0,459.0 1105.0,447.0 1109.0,435.0 1112.0,420.0 1116.0,408.0 1120.0,399.0 1124.0,391.0 1128.0,381.0 1132.0,369.0 1136.0,359.0 1141.0,350.0 1145.0,344.0 1149.0,338.0 1153.0,332.4" fill="none" stroke="#0f1822" stroke-width="6.6" stroke-linejoin="round" stroke-linecap="round" transform="translate(-1,0)"/>
<polyline points="5.0,158.0 8.0,159.0 12.0,157.0 17.0,153.0 21.0,145.0 25.0,124.0 29.0,109.0 33.0,102.0 37.0,98.4 45.0,95.0 53.0,87.0 60.0,79.0 64.0,77.0 69.0,82.0 77.0,97.4 81.0,111.0 85.0,129.0 88.0,145.0 92.4,172.0 96.6,192.4 100.6,217.0 104.6,252.0 109.0,289.0 113.0,324.0 117.0,352.0 120.6,372.0 125.0,382.0 130.0,386.6 133.0,386.0 140.0,378.0 144.6,369.0 148.6,355.0 152.6,340.0 156.6,324.0 160.6,310.0 164.6,301.0 169.0,294.0 173.0,288.0 180.0,269.0 188.0,250.0 193.0,244.0 197.0,242.0 208.0,254.0 217.0,262.0 222.0,262.0 234.0,250.0 241.0,239.0 245.0,230.0 249.0,221.0 253.0,211.0 257.0,198.0 261.0,184.0 265.0,170.0 269.0,160.0 273.0,149.0 275.0,144.0 279.0,132.0 284.0,121.0 292.0,116.0 300.0,113.0 304.0,112.4 312.0,116.0 318.0,122.0 324.0,127.0 330.0,129.0 338.0,128.0 346.0,125.0 354.0,121.0 358.0,120.6 364.0,124.0 372.0,126.4 378.0,126.4 384.0,127.0 392.0,130.0 397.0,136.0 401.0,144.0 405.0,158.0 410.0,167.0 416.0,174.0 420.0,175.6 425.0,176.0 429.0,183.0 436.0,198.0 441.0,212.0 445.0,226.0 449.0,239.0 453.0,251.0 457.0,264.0 461.0,278.0 464.0,289.0 468.0,302.0 473.0,305.0 477.0,304.0 481.0,298.0 484.0,289.0 492.0,277.0 498.0,272.0 505.0,281.0 508.0,289.0 509.5,298.0 513.0,312.0 517.0,324.0 521.0,331.0 525.0,334.0 529.0,334.0 533.0,332.0 537.0,327.0 541.0,321.0 545.0,313.0 549.0,303.0 553.0,294.0 556.0,289.0 564.0,273.0 573.0,265.6 580.0,273.0 588.0,285.0 592.0,289.0 595.0,290.0 598.0,288.0 608.0,283.0 628.0,281.0 636.0,275.0 641.0,265.0 645.0,259.0 650.0,265.0 654.0,275.0 658.0,289.0 661.0,297.0 665.0,303.0 669.0,308.0 672.0,309.4 684.0,309.4 688.0,305.6 692.0,304.4 696.0,310.0 702.0,315.0 708.0,321.0 714.0,322.0 722.0,322.0 728.0,317.0 736.0,316.0 745.0,315.0 751.0,311.0 758.0,314.0 766.0,319.0 772.0,321.0 784.0,321.4 788.0,320.0 793.0,321.0 800.0,329.0 805.0,332.0 820.0,332.0 824.0,331.6 840.0,331.6 844.0,330.0 849.0,333.0 853.0,340.0 857.0,350.0 861.0,360.0 865.0,370.0 869.0,377.0 873.0,383.0 877.0,389.0 881.0,393.0 885.0,397.0 889.0,404.0 893.0,414.0 897.0,423.0 901.0,428.0 904.0,427.6 909.0,427.6 913.0,429.0 918.0,434.0 920.0,441.0 924.0,450.0 928.0,457.0 932.0,464.0 936.0,474.0 941.0,485.0 945.0,493.0 948.0,496.0 956.0,496.0 961.0,491.0 965.0,482.0 969.0,472.0 973.0,461.0 977.0,454.0 981.0,449.0 985.0,444.0 989.0,442.0 993.0,440.0 997.0,443.0 1001.0,445.0 1005.0,444.6 1009.0,438.0 1013.0,431.0 1017.0,428.0 1023.0,435.0 1028.0,443.0 1033.0,453.0 1037.0,460.0 1041.0,467.0 1045.0,474.0 1049.0,481.0 1053.0,487.0 1057.0,492.0 1061.0,495.0 1065.0,497.4 1073.0,500.0 1077.0,499.4 1081.0,495.0 1085.0,489.4 1089.0,483.0 1093.0,476.0 1097.0,467.0 1101.0,459.0 1105.0,447.0 1109.0,435.0 1112.0,420.0 1116.0,408.0 1120.0,399.0 1124.0,391.0 1128.0,381.0 1132.0,369.0 1136.0,359.0 1141.0,350.0 1145.0,344.0 1149.0,338.0 1153.0,332.4" fill="none" stroke="#0f1822" stroke-width="6.6" stroke-linejoin="round" stroke-linecap="round" transform="translate(1,0)"/>
<polyline points="5.0,158.0 8.0,159.0 10.0,158.0" fill="none" stroke="#7d0a88" stroke-width="5.5" stroke-linejoin="round" stroke-linecap="round" transform="translate(-0.75,0)"/>
<polyline points="5.0,158.0 8.0,159.0 10.0,158.0" fill="none" stroke="#7d0a88" stroke-width="5.5" stroke-linejoin="round" stroke-linecap="round" transform="translate(0,0)"/>
<polyline points="5.0,158.0 8.0,159.0 10.0,158.0" fill="none" stroke="#7d0a88" stroke-width="5.5" stroke-linejoin="round" stroke-linecap="round" transform="translate(0.75,0)"/>
<polyline points="10.0,158.0 12.0,157.0 17.0,153.0 21.0,145.0 25.0,124.0 29.0,109.0 33.0,102.0 37.0,98.4 45.0,95.0 53.0,87.0 60.0,79.0 64.0,77.0" fill="none" stroke="#1d1672" stroke-width="5.5" stroke-linejoin="round" stroke-linecap="round" transform="translate(-0.75,0)"/>
<polyline points="10.0,158.0 12.0,157.0 17.0,153.0 21.0,145.0 25.0,124.0 29.0,109.0 33.0,102.0 37.0,98.4 45.0,95.0 53.0,87.0 60.0,79.0 64.0,77.0" fill="none" stroke="#1d1672" stroke-width="5.5" stroke-linejoin="round" stroke-linecap="round" transform="translate(0,0)"/>
<polyline points="10.0,158.0 12.0,157.0 17.0,153.0 21.0,145.0 25.0,124.0 29.0,109.0 33.0,102.0 37.0,98.4 45.0,95.0 53.0,87.0 60.0,79.0 64.0,77.0" fill="none" stroke="#1d1672" stroke-width="5.5" stroke-linejoin="round" stroke-linecap="round" transform="translate(0.75,0)"/>
<polyline points="64.0,77.0 69.0,82.0 77.0,97.4 81.0,111.0 85.0,129.0 88.0,145.0 92.4,172.0 96.6,192.4 100.6,217.0 104.6,252.0 109.0,289.0 113.0,324.0 117.0,352.0 120.6,372.0 125.0,382.0 130.0,386.6 131.0,386.4" fill="none" stroke="#7d0a88" stroke-width="5.5" stroke-linejoin="round" stroke-linecap="round" transform="translate(-0.75,0)"/>
<polyline points="64.0,77.0 69.0,82.0 77.0,97.4 81.0,111.0 85.0,129.0 88.0,145.0 92.4,172.0 96.6,192.4 100.6,217.0 104.6,252.0 109.0,289.0 113.0,324.0 117.0,352.0 120.6,372.0 125.0,382.0 130.0,386.6 131.0,386.4" fill="none" stroke="#7d0a88" stroke-width="5.5" stroke-linejoin="round" stroke-linecap="round" transform="translate(0,0)"/>
<polyline points="64.0,77.0 69.0,82.0 77.0,97.4 81.0,111.0 85.0,129.0 88.0,145.0 92.4,172.0 96.6,192.4 100.6,217.0 104.6,252.0 109.0,289.0 113.0,324.0 117.0,352.0 120.6,372.0 125.0,382.0 130.0,386.6 131.0,386.4" fill="none" stroke="#7d0a88" stroke-width="5.5" stroke-linejoin="round" stroke-linecap="round" transform="translate(0.75,0)"/>
<polyline points="131.0,386.4 133.0,386.0 140.0,378.0 144.6,369.0 148.6,355.0 152.6,340.0 156.6,324.0 160.6,310.0 164.6,301.0 169.0,294.0 173.0,288.0 180.0,269.0 188.0,250.0 193.0,244.0 197.0,242.0" fill="none" stroke="#1d1672" stroke-width="5.5" stroke-linejoin="round" stroke-linecap="round" transform="translate(-0.75,0)"/>
<polyline points="131.0,386.4 133.0,386.0 140.0,378.0 144.6,369.0 148.6,355.0 152.6,340.0 156.6,324.0 160.6,310.0 164.6,301.0 169.0,294.0 173.0,288.0 180.0,269.0 188.0,250.0 193.0,244.0 197.0,242.0" fill="none" stroke="#1d1672" stroke-width="5.5" stroke-linejoin="round" stroke-linecap="round" transform="translate(0,0)"/>
<polyline points="131.0,386.4 133.0,386.0 140.0,378.0 144.6,369.0 148.6,355.0 152.6,340.0 156.6,324.0 160.6,310.0 164.6,301.0 169.0,294.0 173.0,288.0 180.0,269.0 188.0,250.0 193.0,244.0 197.0,242.0" fill="none" stroke="#1d1672" stroke-width="5.5" stroke-linejoin="round" stroke-linecap="round" transform="translate(0.75,0)"/>
<polyline points="197.0,242.0 208.0,254.0 217.0,262.0 219.0,262.0" fill="none" stroke="#7d0a88" stroke-width="5.5" stroke-linejoin="round" stroke-linecap="round" transform="translate(-0.75,0)"/>
<polyline points="197.0,242.0 208.0,254.0 217.0,262.0 219.0,262.0" fill="none" stroke="#7d0a88" stroke-width="5.5" stroke-linejoin="round" stroke-linecap="round" transform="translate(0,0)"/>
<polyline points="197.0,242.0 208.0,254.0 217.0,262.0 219.0,262.0" fill="none" stroke="#7d0a88" stroke-width="5.5" stroke-linejoin="round" stroke-linecap="round" transform="translate(0.75,0)"/>
<polyline points="219.0,262.0 222.0,262.0 234.0,250.0 241.0,239.0 245.0,230.0 249.0,221.0 253.0,211.0 257.0,198.0 261.0,184.0 265.0,170.0 269.0,160.0 273.0,149.0 275.0,144.0 279.0,132.0 284.0,121.0 292.0,116.0 300.0,113.0 304.0,112.4 304.5,112.6" fill="none" stroke="#1d1672" stroke-width="5.5" stroke-linejoin="round" stroke-linecap="round" transform="translate(-0.75,0)"/>
<polyline points="219.0,262.0 222.0,262.0 234.0,250.0 241.0,239.0 245.0,230.0 249.0,221.0 253.0,211.0 257.0,198.0 261.0,184.0 265.0,170.0 269.0,160.0 273.0,149.0 275.0,144.0 279.0,132.0 284.0,121.0 292.0,116.0 300.0,113.0 304.0,112.4 304.5,112.6" fill="none" stroke="#1d1672" stroke-width="5.5" stroke-linejoin="round" stroke-linecap="round" transform="translate(0,0)"/>
<polyline points="219.0,262.0 222.0,262.0 234.0,250.0 241.0,239.0 245.0,230.0 249.0,221.0 253.0,211.0 257.0,198.0 261.0,184.0 265.0,170.0 269.0,160.0 273.0,149.0 275.0,144.0 279.0,132.0 284.0,121.0 292.0,116.0 300.0,113.0 304.0,112.4 304.5,112.6" fill="none" stroke="#1d1672" stroke-width="5.5" stroke-linejoin="round" stroke-linecap="round" transform="translate(0.75,0)"/>
<polyline points="304.5,112.6 312.0,116.0 318.0,122.0 324.0,127.0 327.0,128.0" fill="none" stroke="#7d0a88" stroke-width="5.5" stroke-linejoin="round" stroke-linecap="round" transform="translate(-0.75,0)"/>
<polyline points="304.5,112.6 312.0,116.0 318.0,122.0 324.0,127.0 327.0,128.0" fill="none" stroke="#7d0a88" stroke-width="5.5" stroke-linejoin="round" stroke-linecap="round" transform="translate(0,0)"/>
<polyline points="304.5,112.6 312.0,116.0 318.0,122.0 324.0,127.0 327.0,128.0" fill="none" stroke="#7d0a88" stroke-width="5.5" stroke-linejoin="round" stroke-linecap="round" transform="translate(0.75,0)"/>
<polyline points="327.0,128.0 330.0,129.0 338.0,128.0 346.0,125.0 354.0,121.0 356.0,120.8" fill="none" stroke="#1d1672" stroke-width="5.5" stroke-linejoin="round" stroke-linecap="round" transform="translate(-0.75,0)"/>
<polyline points="327.0,128.0 330.0,129.0 338.0,128.0 346.0,125.0 354.0,121.0 356.0,120.8" fill="none" stroke="#1d1672" stroke-width="5.5" stroke-linejoin="round" stroke-linecap="round" transform="translate(0,0)"/>
<polyline points="327.0,128.0 330.0,129.0 338.0,128.0 346.0,125.0 354.0,121.0 356.0,120.8" fill="none" stroke="#1d1672" stroke-width="5.5" stroke-linejoin="round" stroke-linecap="round" transform="translate(0.75,0)"/>
<polyline points="356.0,120.8 358.0,120.6 364.0,124.0 372.0,126.4 374.0,126.4" fill="none" stroke="#7d0a88" stroke-width="5.5" stroke-linejoin="round" stroke-linecap="round" transform="translate(-0.75,0)"/>
<polyline points="356.0,120.8 358.0,120.6 364.0,124.0 372.0,126.4 374.0,126.4" fill="none" stroke="#7d0a88" stroke-width="5.5" stroke-linejoin="round" stroke-linecap="round" transform="translate(0,0)"/>
<polyline points="356.0,120.8 358.0,120.6 364.0,124.0 372.0,126.4 374.0,126.4" fill="none" stroke="#7d0a88" stroke-width="5.5" stroke-linejoin="round" stroke-linecap="round" transform="translate(0.75,0)"/>
<polyline points="374.0,126.4 378.0,126.4 384.0,127.0 386.0,127.8" fill="none" stroke="#1d1672" stroke-width="5.5" stroke-linejoin="round" stroke-linecap="round" transform="translate(-0.75,0)"/>
<polyline points="374.0,126.4 378.0,126.4 384.0,127.0 386.0,127.8" fill="none" stroke="#1d1672" stroke-width="5.5" stroke-linejoin="round" stroke-linecap="round" transform="translate(0,0)"/>
<polyline points="374.0,126.4 378.0,126.4 384.0,127.0 386.0,127.8" fill="none" stroke="#1d1672" stroke-width="5.5" stroke-linejoin="round" stroke-linecap="round" transform="translate(0.75,0)"/>
<polyline points="386.0,127.8 392.0,130.0 397.0,136.0 401.0,144.0 405.0,158.0 410.0,167.0 416.0,174.0" fill="none" stroke="#7d0a88" stroke-width="5.5" stroke-linejoin="round" stroke-linecap="round" transform="translate(-0.75,0)"/>
<polyline points="386.0,127.8 392.0,130.0 397.0,136.0 401.0,144.0 405.0,158.0 410.0,167.0 416.0,174.0" fill="none" stroke="#7d0a88" stroke-width="5.5" stroke-linejoin="round" stroke-linecap="round" transform="translate(0,0)"/>
<polyline points="386.0,127.8 392.0,130.0 397.0,136.0 401.0,144.0 405.0,158.0 410.0,167.0 416.0,174.0" fill="none" stroke="#7d0a88" stroke-width="5.5" stroke-linejoin="round" stroke-linecap="round" transform="translate(0.75,0)"/>
<polyline points="416.0,174.0 420.0,175.6 425.0,176.0 426.0,177.8" fill="none" stroke="#1d1672" stroke-width="5.5" stroke-linejoin="round" stroke-linecap="round" transform="translate(-0.75,0)"/>
<polyline points="416.0,174.0 420.0,175.6 425.0,176.0 426.0,177.8" fill="none" stroke="#1d1672" stroke-width="5.5" stroke-linejoin="round" stroke-linecap="round" transform="translate(0,0)"/>
<polyline points="416.0,174.0 420.0,175.6 425.0,176.0 426.0,177.8" fill="none" stroke="#1d1672" stroke-width="5.5" stroke-linejoin="round" stroke-linecap="round" transform="translate(0.75,0)"/>
<polyline points="426.0,177.8 429.0,183.0 436.0,198.0 441.0,212.0 445.0,226.0 449.0,239.0 453.0,251.0 457.0,264.0 461.0,278.0 464.0,289.0 468.0,302.0 473.0,305.0 474.0,304.8" fill="none" stroke="#7d0a88" stroke-width="5.5" stroke-linejoin="round" stroke-linecap="round" transform="translate(-0.75,0)"/>
<polyline points="426.0,177.8 429.0,183.0 436.0,198.0 441.0,212.0 445.0,226.0 449.0,239.0 453.0,251.0 457.0,264.0 461.0,278.0 464.0,289.0 468.0,302.0 473.0,305.0 474.0,304.8" fill="none" stroke="#7d0a88" stroke-width="5.5" stroke-linejoin="round" stroke-linecap="round" transform="translate(0,0)"/>
<polyline points="426.0,177.8 429.0,183.0 436.0,198.0 441.0,212.0 445.0,226.0 449.0,239.0 453.0,251.0 457.0,264.0 461.0,278.0 464.0,289.0 468.0,302.0 473.0,305.0 474.0,304.8" fill="none" stroke="#7d0a88" stroke-width="5.5" stroke-linejoin="round" stroke-linecap="round" transform="translate(0.75,0)"/>
<polyline points="474.0,304.8 477.0,304.0 481.0,298.0 484.0,289.0 492.0,277.0 498.0,272.0 498.5,272.6" fill="none" stroke="#1d1672" stroke-width="5.5" stroke-linejoin="round" stroke-linecap="round" transform="translate(-0.75,0)"/>
<polyline points="474.0,304.8 477.0,304.0 481.0,298.0 484.0,289.0 492.0,277.0 498.0,272.0 498.5,272.6" fill="none" stroke="#1d1672" stroke-width="5.5" stroke-linejoin="round" stroke-linecap="round" transform="translate(0,0)"/>
<polyline points="474.0,304.8 477.0,304.0 481.0,298.0 484.0,289.0 492.0,277.0 498.0,272.0 498.5,272.6" fill="none" stroke="#1d1672" stroke-width="5.5" stroke-linejoin="round" stroke-linecap="round" transform="translate(0.75,0)"/>
<polyline points="498.5,272.6 505.0,281.0 508.0,289.0 509.5,298.0 513.0,312.0 517.0,324.0 521.0,331.0 525.0,334.0 527.0,334.0" fill="none" stroke="#7d0a88" stroke-width="5.5" stroke-linejoin="round" stroke-linecap="round" transform="translate(-0.75,0)"/>
<polyline points="498.5,272.6 505.0,281.0 508.0,289.0 509.5,298.0 513.0,312.0 517.0,324.0 521.0,331.0 525.0,334.0 527.0,334.0" fill="none" stroke="#7d0a88" stroke-width="5.5" stroke-linejoin="round" stroke-linecap="round" transform="translate(0,0)"/>
<polyline points="498.5,272.6 505.0,281.0 508.0,289.0 509.5,298.0 513.0,312.0 517.0,324.0 521.0,331.0 525.0,334.0 527.0,334.0" fill="none" stroke="#7d0a88" stroke-width="5.5" stroke-linejoin="round" stroke-linecap="round" transform="translate(0.75,0)"/>
<polyline points="527.0,334.0 529.0,334.0 533.0,332.0 537.0,327.0 541.0,321.0 545.0,313.0 549.0,303.0 553.0,294.0 556.0,289.0 564.0,273.0 573.0,265.6 573.5,266.1" fill="none" stroke="#1d1672" stroke-width="5.5" stroke-linejoin="round" stroke-linecap="round" transform="translate(-0.75,0)"/>
<polyline points="527.0,334.0 529.0,334.0 533.0,332.0 537.0,327.0 541.0,321.0 545.0,313.0 549.0,303.0 553.0,294.0 556.0,289.0 564.0,273.0 573.0,265.6 573.5,266.1" fill="none" stroke="#1d1672" stroke-width="5.5" stroke-linejoin="round" stroke-linecap="round" transform="translate(0,0)"/>
<polyline points="527.0,334.0 529.0,334.0 533.0,332.0 537.0,327.0 541.0,321.0 545.0,313.0 549.0,303.0 553.0,294.0 556.0,289.0 564.0,273.0 573.0,265.6 573.5,266.1" fill="none" stroke="#1d1672" stroke-width="5.5" stroke-linejoin="round" stroke-linecap="round" transform="translate(0.75,0)"/>
<polyline points="573.5,266.1 580.0,273.0 588.0,285.0 592.0,289.0 595.0,290.0 597.0,288.7" fill="none" stroke="#7d0a88" stroke-width="5.5" stroke-linejoin="round" stroke-linecap="round" transform="translate(-0.75,0)"/>
<polyline points="573.5,266.1 580.0,273.0 588.0,285.0 592.0,289.0 595.0,290.0 597.0,288.7" fill="none" stroke="#7d0a88" stroke-width="5.5" stroke-linejoin="round" stroke-linecap="round" transform="translate(0,0)"/>
<polyline points="573.5,266.1 580.0,273.0 588.0,285.0 592.0,289.0 595.0,290.0 597.0,288.7" fill="none" stroke="#7d0a88" stroke-width="5.5" stroke-linejoin="round" stroke-linecap="round" transform="translate(0.75,0)"/>
<polyline points="597.0,288.7 598.0,288.0 608.0,283.0 628.0,281.0 636.0,275.0 641.0,265.0 645.0,259.0 645.5,259.6" fill="none" stroke="#1d1672" stroke-width="5.5" stroke-linejoin="round" stroke-linecap="round" transform="translate(-0.75,0)"/>
<polyline points="597.0,288.7 598.0,288.0 608.0,283.0 628.0,281.0 636.0,275.0 641.0,265.0 645.0,259.0 645.5,259.6" fill="none" stroke="#1d1672" stroke-width="5.5" stroke-linejoin="round" stroke-linecap="round" transform="translate(0,0)"/>
<polyline points="597.0,288.7 598.0,288.0 608.0,283.0 628.0,281.0 636.0,275.0 641.0,265.0 645.0,259.0 645.5,259.6" fill="none" stroke="#1d1672" stroke-width="5.5" stroke-linejoin="round" stroke-linecap="round" transform="translate(0.75,0)"/>
<polyline points="645.5,259.6 650.0,265.0 654.0,275.0 658.0,289.0 661.0,297.0 665.0,303.0 669.0,308.0 671.0,308.9" fill="none" stroke="#7d0a88" stroke-width="5.5" stroke-linejoin="round" stroke-linecap="round" transform="translate(-0.75,0)"/>
<polyline points="645.5,259.6 650.0,265.0 654.0,275.0 658.0,289.0 661.0,297.0 665.0,303.0 669.0,308.0 671.0,308.9" fill="none" stroke="#7d0a88" stroke-width="5.5" stroke-linejoin="round" stroke-linecap="round" transform="translate(0,0)"/>
<polyline points="645.5,259.6 650.0,265.0 654.0,275.0 658.0,289.0 661.0,297.0 665.0,303.0 669.0,308.0 671.0,308.9" fill="none" stroke="#7d0a88" stroke-width="5.5" stroke-linejoin="round" stroke-linecap="round" transform="translate(0.75,0)"/>
<polyline points="671.0,308.9 672.0,309.4 684.0,309.4 688.0,305.6 692.0,304.4 693.0,305.8" fill="none" stroke="#1d1672" stroke-width="5.5" stroke-linejoin="round" stroke-linecap="round" transform="translate(-0.75,0)"/>
<polyline points="671.0,308.9 672.0,309.4 684.0,309.4 688.0,305.6 692.0,304.4 693.0,305.8" fill="none" stroke="#1d1672" stroke-width="5.5" stroke-linejoin="round" stroke-linecap="round" transform="translate(0,0)"/>
<polyline points="671.0,308.9 672.0,309.4 684.0,309.4 688.0,305.6 692.0,304.4 693.0,305.8" fill="none" stroke="#1d1672" stroke-width="5.5" stroke-linejoin="round" stroke-linecap="round" transform="translate(0.75,0)"/>
<polyline points="693.0,305.8 696.0,310.0 702.0,315.0 708.0,321.0 712.0,321.7" fill="none" stroke="#7d0a88" stroke-width="5.5" stroke-linejoin="round" stroke-linecap="round" transform="translate(-0.75,0)"/>
<polyline points="693.0,305.8 696.0,310.0 702.0,315.0 708.0,321.0 712.0,321.7" fill="none" stroke="#7d0a88" stroke-width="5.5" stroke-linejoin="round" stroke-linecap="round" transform="translate(0,0)"/>
<polyline points="693.0,305.8 696.0,310.0 702.0,315.0 708.0,321.0 712.0,321.7" fill="none" stroke="#7d0a88" stroke-width="5.5" stroke-linejoin="round" stroke-linecap="round" transform="translate(0.75,0)"/>
<polyline points="712.0,321.7 714.0,322.0 722.0,322.0 728.0,317.0 730.0,316.8" fill="none" stroke="#1d1672" stroke-width="5.5" stroke-linejoin="round" stroke-linecap="round" transform="translate(-0.75,0)"/>
<polyline points="712.0,321.7 714.0,322.0 722.0,322.0 728.0,317.0 730.0,316.8" fill="none" stroke="#1d1672" stroke-width="5.5" stroke-linejoin="round" stroke-linecap="round" transform="translate(0,0)"/>
<polyline points="712.0,321.7 714.0,322.0 722.0,322.0 728.0,317.0 730.0,316.8" fill="none" stroke="#1d1672" stroke-width="5.5" stroke-linejoin="round" stroke-linecap="round" transform="translate(0.75,0)"/>
<polyline points="730.0,316.8 736.0,316.0 741.0,315.4" fill="none" stroke="#7d0a88" stroke-width="5.5" stroke-linejoin="round" stroke-linecap="round" transform="translate(-0.75,0)"/>
<polyline points="730.0,316.8 736.0,316.0 741.0,315.4" fill="none" stroke="#7d0a88" stroke-width="5.5" stroke-linejoin="round" stroke-linecap="round" transform="translate(0,0)"/>
<polyline points="730.0,316.8 736.0,316.0 741.0,315.4" fill="none" stroke="#7d0a88" stroke-width="5.5" stroke-linejoin="round" stroke-linecap="round" transform="translate(0.75,0)"/>
<polyline points="741.0,315.4 745.0,315.0 751.0,311.0 752.0,311.4" fill="none" stroke="#1d1672" stroke-width="5.5" stroke-linejoin="round" stroke-linecap="round" transform="translate(-0.75,0)"/>
<polyline points="741.0,315.4 745.0,315.0 751.0,311.0 752.0,311.4" fill="none" stroke="#1d1672" stroke-width="5.5" stroke-linejoin="round" stroke-linecap="round" transform="translate(0,0)"/>
<polyline points="741.0,315.4 745.0,315.0 751.0,311.0 752.0,311.4" fill="none" stroke="#1d1672" stroke-width="5.5" stroke-linejoin="round" stroke-linecap="round" transform="translate(0.75,0)"/>
<polyline points="752.0,311.4 758.0,314.0 766.0,319.0 772.0,321.0 784.0,321.4 787.0,320.4" fill="none" stroke="#7d0a88" stroke-width="5.5" stroke-linejoin="round" stroke-linecap="round" transform="translate(-0.75,0)"/>
<polyline points="752.0,311.4 758.0,314.0 766.0,319.0 772.0,321.0 784.0,321.4 787.0,320.4" fill="none" stroke="#7d0a88" stroke-width="5.5" stroke-linejoin="round" stroke-linecap="round" transform="translate(0,0)"/>
<polyline points="752.0,311.4 758.0,314.0 766.0,319.0 772.0,321.0 784.0,321.4 787.0,320.4" fill="none" stroke="#7d0a88" stroke-width="5.5" stroke-linejoin="round" stroke-linecap="round" transform="translate(0.75,0)"/>
<polyline points="787.0,320.4 788.0,320.0 790.0,320.4" fill="none" stroke="#1d1672" stroke-width="5.5" stroke-linejoin="round" stroke-linecap="round" transform="translate(-0.75,0)"/>
<polyline points="787.0,320.4 788.0,320.0 790.0,320.4" fill="none" stroke="#1d1672" stroke-width="5.5" stroke-linejoin="round" stroke-linecap="round" transform="translate(0,0)"/>
<polyline points="787.0,320.4 788.0,320.0 790.0,320.4" fill="none" stroke="#1d1672" stroke-width="5.5" stroke-linejoin="round" stroke-linecap="round" transform="translate(0.75,0)"/>
<polyline points="790.0,320.4 793.0,321.0 800.0,329.0 803.0,330.8" fill="none" stroke="#7d0a88" stroke-width="5.5" stroke-linejoin="round" stroke-linecap="round" transform="translate(-0.75,0)"/>
<polyline points="790.0,320.4 793.0,321.0 800.0,329.0 803.0,330.8" fill="none" stroke="#7d0a88" stroke-width="5.5" stroke-linejoin="round" stroke-linecap="round" transform="translate(0,0)"/>
<polyline points="790.0,320.4 793.0,321.0 800.0,329.0 803.0,330.8" fill="none" stroke="#7d0a88" stroke-width="5.5" stroke-linejoin="round" stroke-linecap="round" transform="translate(0.75,0)"/>
<polyline points="803.0,330.8 805.0,332.0 820.0,332.0 821.0,331.9" fill="none" stroke="#1d1672" stroke-width="5.5" stroke-linejoin="round" stroke-linecap="round" transform="translate(-0.75,0)"/>
<polyline points="803.0,330.8 805.0,332.0 820.0,332.0 821.0,331.9" fill="none" stroke="#1d1672" stroke-width="5.5" stroke-linejoin="round" stroke-linecap="round" transform="translate(0,0)"/>
<polyline points="803.0,330.8 805.0,332.0 820.0,332.0 821.0,331.9" fill="none" stroke="#1d1672" stroke-width="5.5" stroke-linejoin="round" stroke-linecap="round" transform="translate(0.75,0)"/>
<polyline points="821.0,331.9 824.0,331.6 840.0,331.6 842.0,330.8" fill="none" stroke="#7d0a88" stroke-width="5.5" stroke-linejoin="round" stroke-linecap="round" transform="translate(-0.75,0)"/>
<polyline points="821.0,331.9 824.0,331.6 840.0,331.6 842.0,330.8" fill="none" stroke="#7d0a88" stroke-width="5.5" stroke-linejoin="round" stroke-linecap="round" transform="translate(0,0)"/>
<polyline points="821.0,331.9 824.0,331.6 840.0,331.6 842.0,330.8" fill="none" stroke="#7d0a88" stroke-width="5.5" stroke-linejoin="round" stroke-linecap="round" transform="translate(0.75,0)"/>
<polyline points="842.0,330.8 844.0,330.0 846.0,331.2" fill="none" stroke="#1d1672" stroke-width="5.5" stroke-linejoin="round" stroke-linecap="round" transform="translate(-0.75,0)"/>
<polyline points="842.0,330.8 844.0,330.0 846.0,331.2" fill="none" stroke="#1d1672" stroke-width="5.5" stroke-linejoin="round" stroke-linecap="round" transform="translate(0,0)"/>
<polyline points="842.0,330.8 844.0,330.0 846.0,331.2" fill="none" stroke="#1d1672" stroke-width="5.5" stroke-linejoin="round" stroke-linecap="round" transform="translate(0.75,0)"/>
<polyline points="846.0,331.2 849.0,333.0 853.0,340.0 857.0,350.0 861.0,360.0 865.0,370.0 869.0,377.0 873.0,383.0 877.0,389.0 881.0,393.0 885.0,397.0 889.0,404.0 893.0,414.0 897.0,423.0 901.0,428.0 903.0,427.7" fill="none" stroke="#7d0a88" stroke-width="5.5" stroke-linejoin="round" stroke-linecap="round" transform="translate(-0.75,0)"/>
<polyline points="846.0,331.2 849.0,333.0 853.0,340.0 857.0,350.0 861.0,360.0 865.0,370.0 869.0,377.0 873.0,383.0 877.0,389.0 881.0,393.0 885.0,397.0 889.0,404.0 893.0,414.0 897.0,423.0 901.0,428.0 903.0,427.7" fill="none" stroke="#7d0a88" stroke-width="5.5" stroke-linejoin="round" stroke-linecap="round" transform="translate(0,0)"/>
<polyline points="846.0,331.2 849.0,333.0 853.0,340.0 857.0,350.0 861.0,360.0 865.0,370.0 869.0,377.0 873.0,383.0 877.0,389.0 881.0,393.0 885.0,397.0 889.0,404.0 893.0,414.0 897.0,423.0 901.0,428.0 903.0,427.7" fill="none" stroke="#7d0a88" stroke-width="5.5" stroke-linejoin="round" stroke-linecap="round" transform="translate(0.75,0)"/>
<polyline points="903.0,427.7 904.0,427.6 909.0,427.6 910.0,428.0" fill="none" stroke="#1d1672" stroke-width="5.5" stroke-linejoin="round" stroke-linecap="round" transform="translate(-0.75,0)"/>
<polyline points="903.0,427.7 904.0,427.6 909.0,427.6 910.0,428.0" fill="none" stroke="#1d1672" stroke-width="5.5" stroke-linejoin="round" stroke-linecap="round" transform="translate(0,0)"/>
<polyline points="903.0,427.7 904.0,427.6 909.0,427.6 910.0,428.0" fill="none" stroke="#1d1672" stroke-width="5.5" stroke-linejoin="round" stroke-linecap="round" transform="translate(0.75,0)"/>
<polyline points="910.0,428.0 913.0,429.0 918.0,434.0 920.0,441.0 924.0,450.0 928.0,457.0 932.0,464.0 936.0,474.0 941.0,485.0 945.0,493.0 947.0,495.0" fill="none" stroke="#7d0a88" stroke-width="5.5" stroke-linejoin="round" stroke-linecap="round" transform="translate(-0.75,0)"/>
<polyline points="910.0,428.0 913.0,429.0 918.0,434.0 920.0,441.0 924.0,450.0 928.0,457.0 932.0,464.0 936.0,474.0 941.0,485.0 945.0,493.0 947.0,495.0" fill="none" stroke="#7d0a88" stroke-width="5.5" stroke-linejoin="round" stroke-linecap="round" transform="translate(0,0)"/>
<polyline points="910.0,428.0 913.0,429.0 918.0,434.0 920.0,441.0 924.0,450.0 928.0,457.0 932.0,464.0 936.0,474.0 941.0,485.0 945.0,493.0 947.0,495.0" fill="none" stroke="#7d0a88" stroke-width="5.5" stroke-linejoin="round" stroke-linecap="round" transform="translate(0.75,0)"/>
<polyline points="947.0,495.0 948.0,496.0 956.0,496.0 961.0,491.0 965.0,482.0 969.0,472.0 973.0,461.0 977.0,454.0 981.0,449.0 985.0,444.0 989.0,442.0 993.0,440.0 995.0,441.5" fill="none" stroke="#1d1672" stroke-width="5.5" stroke-linejoin="round" stroke-linecap="round" transform="translate(-0.75,0)"/>
<polyline points="947.0,495.0 948.0,496.0 956.0,496.0 961.0,491.0 965.0,482.0 969.0,472.0 973.0,461.0 977.0,454.0 981.0,449.0 985.0,444.0 989.0,442.0 993.0,440.0 995.0,441.5" fill="none" stroke="#1d1672" stroke-width="5.5" stroke-linejoin="round" stroke-linecap="round" transform="translate(0,0)"/>
<polyline points="947.0,495.0 948.0,496.0 956.0,496.0 961.0,491.0 965.0,482.0 969.0,472.0 973.0,461.0 977.0,454.0 981.0,449.0 985.0,444.0 989.0,442.0 993.0,440.0 995.0,441.5" fill="none" stroke="#1d1672" stroke-width="5.5" stroke-linejoin="round" stroke-linecap="round" transform="translate(0.75,0)"/>
<polyline points="995.0,441.5 997.0,443.0 1001.0,445.0 1003.0,444.8" fill="none" stroke="#7d0a88" stroke-width="5.5" stroke-linejoin="round" stroke-linecap="round" transform="translate(-0.75,0)"/>
<polyline points="995.0,441.5 997.0,443.0 1001.0,445.0 1003.0,444.8" fill="none" stroke="#7d0a88" stroke-width="5.5" stroke-linejoin="round" stroke-linecap="round" transform="translate(0,0)"/>
<polyline points="995.0,441.5 997.0,443.0 1001.0,445.0 1003.0,444.8" fill="none" stroke="#7d0a88" stroke-width="5.5" stroke-linejoin="round" stroke-linecap="round" transform="translate(0.75,0)"/>
<polyline points="1003.0,444.8 1005.0,444.6 1009.0,438.0 1013.0,431.0 1017.0,428.0 1017.5,428.6" fill="none" stroke="#1d1672" stroke-width="5.5" stroke-linejoin="round" stroke-linecap="round" transform="translate(-0.75,0)"/>
<polyline points="1003.0,444.8 1005.0,444.6 1009.0,438.0 1013.0,431.0 1017.0,428.0 1017.5,428.6" fill="none" stroke="#1d1672" stroke-width="5.5" stroke-linejoin="round" stroke-linecap="round" transform="translate(0,0)"/>
<polyline points="1003.0,444.8 1005.0,444.6 1009.0,438.0 1013.0,431.0 1017.0,428.0 1017.5,428.6" fill="none" stroke="#1d1672" stroke-width="5.5" stroke-linejoin="round" stroke-linecap="round" transform="translate(0.75,0)"/>
<polyline points="1017.5,428.6 1023.0,435.0 1028.0,443.0 1033.0,453.0 1037.0,460.0 1041.0,467.0 1045.0,474.0 1049.0,481.0 1053.0,487.0 1057.0,492.0 1061.0,495.0 1065.0,497.4 1073.0,500.0 1075.0,499.7" fill="none" stroke="#7d0a88" stroke-width="5.5" stroke-linejoin="round" stroke-linecap="round" transform="translate(-0.75,0)"/>
<polyline points="1017.5,428.6 1023.0,435.0 1028.0,443.0 1033.0,453.0 1037.0,460.0 1041.0,467.0 1045.0,474.0 1049.0,481.0 1053.0,487.0 1057.0,492.0 1061.0,495.0 1065.0,497.4 1073.0,500.0 1075.0,499.7" fill="none" stroke="#7d0a88" stroke-width="5.5" stroke-linejoin="round" stroke-linecap="round" transform="translate(0,0)"/>
<polyline points="1017.5,428.6 1023.0,435.0 1028.0,443.0 1033.0,453.0 1037.0,460.0 1041.0,467.0 1045.0,474.0 1049.0,481.0 1053.0,487.0 1057.0,492.0 1061.0,495.0 1065.0,497.4 1073.0,500.0 1075.0,499.7" fill="none" stroke="#7d0a88" stroke-width="5.5" stroke-linejoin="round" stroke-linecap="round" transform="translate(0.75,0)"/>
<polyline points="1075.0,499.7 1077.0,499.4 1081.0,495.0 1085.0,489.4 1089.0,483.0 1093.0,476.0 1097.0,467.0 1101.0,459.0 1105.0,447.0 1109.0,435.0 1112.0,420.0 1116.0,408.0 1120.0,399.0 1124.0,391.0 1128.0,381.0 1132.0,369.0 1136.0,359.0 1141.0,350.0 1145.0,344.0 1149.0,338.0 1153.0,332.4" fill="none" stroke="#1d1672" stroke-width="5.5" stroke-linejoin="round" stroke-linecap="round" transform="translate(-0.75,0)"/>
<polyline points="1075.0,499.7 1077.0,499.4 1081.0,495.0 1085.0,489.4 1089.0,483.0 1093.0,476.0 1097.0,467.0 1101.0,459.0 1105.0,447.0 1109.0,435.0 1112.0,420.0 1116.0,408.0 1120.0,399.0 1124.0,391.0 1128.0,381.0 1132.0,369.0 1136.0,359.0 1141.0,350.0 1145.0,344.0 1149.0,338.0 1153.0,332.4" fill="none" stroke="#1d1672" stroke-width="5.5" stroke-linejoin="round" stroke-linecap="round" transform="translate(0,0)"/>
<polyline points="1075.0,499.7 1077.0,499.4 1081.0,495.0 1085.0,489.4 1089.0,483.0 1093.0,476.0 1097.0,467.0 1101.0,459.0 1105.0,447.0 1109.0,435.0 1112.0,420.0 1116.0,408.0 1120.0,399.0 1124.0,391.0 1128.0,381.0 1132.0,369.0 1136.0,359.0 1141.0,350.0 1145.0,344.0 1149.0,338.0 1153.0,332.4" fill="none" stroke="#1d1672" stroke-width="5.5" stroke-linejoin="round" stroke-linecap="round" transform="translate(0.75,0)"/>
<polyline points="1153.0,332.4 1154.0,332.4" fill="none" stroke="#1d1672" stroke-width="5.5" stroke-linejoin="round" stroke-linecap="round" transform="translate(-0.75,0)"/>
<polyline points="1153.0,332.4 1154.0,332.4" fill="none" stroke="#1d1672" stroke-width="5.5" stroke-linejoin="round" stroke-linecap="round" transform="translate(0,0)"/>
<polyline points="1153.0,332.4 1154.0,332.4" fill="none" stroke="#1d1672" stroke-width="5.5" stroke-linejoin="round" stroke-linecap="round" transform="translate(0.75,0)"/>
<polyline points="5.0,158.0 8.0,159.0 10.0,158.0" fill="none" stroke="#f540b0" stroke-width="4.2" stroke-linejoin="round" stroke-linecap="round" transform="translate(-0.75,0)"/>
<polyline points="5.0,158.0 8.0,159.0 10.0,158.0" fill="none" stroke="#f540b0" stroke-width="4.2" stroke-linejoin="round" stroke-linecap="round" transform="translate(0,0)"/>
<polyline points="5.0,158.0 8.0,159.0 10.0,158.0" fill="none" stroke="#f540b0" stroke-width="4.2" stroke-linejoin="round" stroke-linecap="round" transform="translate(0.75,0)"/>
<polyline points="10.0,158.0 12.0,157.0 17.0,153.0 21.0,145.0 25.0,124.0 29.0,109.0 33.0,102.0 37.0,98.4 45.0,95.0 53.0,87.0 60.0,79.0 64.0,77.0" fill="none" stroke="#1e90ff" stroke-width="4.2" stroke-linejoin="round" stroke-linecap="round" transform="translate(-0.75,0)"/>
<polyline points="10.0,158.0 12.0,157.0 17.0,153.0 21.0,145.0 25.0,124.0 29.0,109.0 33.0,102.0 37.0,98.4 45.0,95.0 53.0,87.0 60.0,79.0 64.0,77.0" fill="none" stroke="#1e90ff" stroke-width="4.2" stroke-linejoin="round" stroke-linecap="round" transform="translate(0,0)"/>
<polyline points="10.0,158.0 12.0,157.0 17.0,153.0 21.0,145.0 25.0,124.0 29.0,109.0 33.0,102.0 37.0,98.4 45.0,95.0 53.0,87.0 60.0,79.0 64.0,77.0" fill="none" stroke="#1e90ff" stroke-width="4.2" stroke-linejoin="round" stroke-linecap="round" transform="translate(0.75,0)"/>
<polyline points="64.0,77.0 69.0,82.0 77.0,97.4 81.0,111.0 85.0,129.0 88.0,145.0 92.4,172.0 96.6,192.4 100.6,217.0 104.6,252.0 109.0,289.0 113.0,324.0 117.0,352.0 120.6,372.0 125.0,382.0 130.0,386.6 131.0,386.4" fill="none" stroke="#f540b0" stroke-width="4.2" stroke-linejoin="round" stroke-linecap="round" transform="translate(-0.75,0)"/>
<polyline points="64.0,77.0 69.0,82.0 77.0,97.4 81.0,111.0 85.0,129.0 88.0,145.0 92.4,172.0 96.6,192.4 100.6,217.0 104.6,252.0 109.0,289.0 113.0,324.0 117.0,352.0 120.6,372.0 125.0,382.0 130.0,386.6 131.0,386.4" fill="none" stroke="#f540b0" stroke-width="4.2" stroke-linejoin="round" stroke-linecap="round" transform="translate(0,0)"/>
<polyline points="64.0,77.0 69.0,82.0 77.0,97.4 81.0,111.0 85.0,129.0 88.0,145.0 92.4,172.0 96.6,192.4 100.6,217.0 104.6,252.0 109.0,289.0 113.0,324.0 117.0,352.0 120.6,372.0 125.0,382.0 130.0,386.6 131.0,386.4" fill="none" stroke="#f540b0" stroke-width="4.2" stroke-linejoin="round" stroke-linecap="round" transform="translate(0.75,0)"/>
<polyline points="131.0,386.4 133.0,386.0 140.0,378.0 144.6,369.0 148.6,355.0 152.6,340.0 156.6,324.0 160.6,310.0 164.6,301.0 169.0,294.0 173.0,288.0 180.0,269.0 188.0,250.0 193.0,244.0 197.0,242.0" fill="none" stroke="#1e90ff" stroke-width="4.2" stroke-linejoin="round" stroke-linecap="round" transform="translate(-0.75,0)"/>
<polyline points="131.0,386.4 133.0,386.0 140.0,378.0 144.6,369.0 148.6,355.0 152.6,340.0 156.6,324.0 160.6,310.0 164.6,301.0 169.0,294.0 173.0,288.0 180.0,269.0 188.0,250.0 193.0,244.0 197.0,242.0" fill="none" stroke="#1e90ff" stroke-width="4.2" stroke-linejoin="round" stroke-linecap="round" transform="translate(0,0)"/>
<polyline points="131.0,386.4 133.0,386.0 140.0,378.0 144.6,369.0 148.6,355.0 152.6,340.0 156.6,324.0 160.6,310.0 164.6,301.0 169.0,294.0 173.0,288.0 180.0,269.0 188.0,250.0 193.0,244.0 197.0,242.0" fill="none" stroke="#1e90ff" stroke-width="4.2" stroke-linejoin="round" stroke-linecap="round" transform="translate(0.75,0)"/>
<polyline points="197.0,242.0 208.0,254.0 217.0,262.0 219.0,262.0" fill="none" stroke="#f540b0" stroke-width="4.2" stroke-linejoin="round" stroke-linecap="round" transform="translate(-0.75,0)"/>
<polyline points="197.0,242.0 208.0,254.0 217.0,262.0 219.0,262.0" fill="none" stroke="#f540b0" stroke-width="4.2" stroke-linejoin="round" stroke-linecap="round" transform="translate(0,0)"/>
<polyline points="197.0,242.0 208.0,254.0 217.0,262.0 219.0,262.0" fill="none" stroke="#f540b0" stroke-width="4.2" stroke-linejoin="round" stroke-linecap="round" transform="translate(0.75,0)"/>
<polyline points="219.0,262.0 222.0,262.0 234.0,250.0 241.0,239.0 245.0,230.0 249.0,221.0 253.0,211.0 257.0,198.0 261.0,184.0 265.0,170.0 269.0,160.0 273.0,149.0 275.0,144.0 279.0,132.0 284.0,121.0 292.0,116.0 300.0,113.0 304.0,112.4 304.5,112.6" fill="none" stroke="#1e90ff" stroke-width="4.2" stroke-linejoin="round" stroke-linecap="round" transform="translate(-0.75,0)"/>
<polyline points="219.0,262.0 222.0,262.0 234.0,250.0 241.0,239.0 245.0,230.0 249.0,221.0 253.0,211.0 257.0,198.0 261.0,184.0 265.0,170.0 269.0,160.0 273.0,149.0 275.0,144.0 279.0,132.0 284.0,121.0 292.0,116.0 300.0,113.0 304.0,112.4 304.5,112.6" fill="none" stroke="#1e90ff" stroke-width="4.2" stroke-linejoin="round" stroke-linecap="round" transform="translate(0,0)"/>
<polyline points="219.0,262.0 222.0,262.0 234.0,250.0 241.0,239.0 245.0,230.0 249.0,221.0 253.0,211.0 257.0,198.0 261.0,184.0 265.0,170.0 269.0,160.0 273.0,149.0 275.0,144.0 279.0,132.0 284.0,121.0 292.0,116.0 300.0,113.0 304.0,112.4 304.5,112.6" fill="none" stroke="#1e90ff" stroke-width="4.2" stroke-linejoin="round" stroke-linecap="round" transform="translate(0.75,0)"/>
<polyline points="304.5,112.6 312.0,116.0 318.0,122.0 324.0,127.0 327.0,128.0" fill="none" stroke="#f540b0" stroke-width="4.2" stroke-linejoin="round" stroke-linecap="round" transform="translate(-0.75,0)"/>
<polyline points="304.5,112.6 312.0,116.0 318.0,122.0 324.0,127.0 327.0,128.0" fill="none" stroke="#f540b0" stroke-width="4.2" stroke-linejoin="round" stroke-linecap="round" transform="translate(0,0)"/>
<polyline points="304.5,112.6 312.0,116.0 318.0,122.0 324.0,127.0 327.0,128.0" fill="none" stroke="#f540b0" stroke-width="4.2" stroke-linejoin="round" stroke-linecap="round" transform="translate(0.75,0)"/>
<polyline points="327.0,128.0 330.0,129.0 338.0,128.0 346.0,125.0 354.0,121.0 356.0,120.8" fill="none" stroke="#1e90ff" stroke-width="4.2" stroke-linejoin="round" stroke-linecap="round" transform="translate(-0.75,0)"/>
<polyline points="327.0,128.0 330.0,129.0 338.0,128.0 346.0,125.0 354.0,121.0 356.0,120.8" fill="none" stroke="#1e90ff" stroke-width="4.2" stroke-linejoin="round" stroke-linecap="round" transform="translate(0,0)"/>
<polyline points="327.0,128.0 330.0,129.0 338.0,128.0 346.0,125.0 354.0,121.0 356.0,120.8" fill="none" stroke="#1e90ff" stroke-width="4.2" stroke-linejoin="round" stroke-linecap="round" transform="translate(0.75,0)"/>
<polyline points="356.0,120.8 358.0,120.6 364.0,124.0 372.0,126.4 374.0,126.4" fill="none" stroke="#f540b0" stroke-width="4.2" stroke-linejoin="round" stroke-linecap="round" transform="translate(-0.75,0)"/>
<polyline points="356.0,120.8 358.0,120.6 364.0,124.0 372.0,126.4 374.0,126.4" fill="none" stroke="#f540b0" stroke-width="4.2" stroke-linejoin="round" stroke-linecap="round" transform="translate(0,0)"/>
<polyline points="356.0,120.8 358.0,120.6 364.0,124.0 372.0,126.4 374.0,126.4" fill="none" stroke="#f540b0" stroke-width="4.2" stroke-linejoin="round" stroke-linecap="round" transform="translate(0.75,0)"/>
<polyline points="374.0,126.4 378.0,126.4 384.0,127.0 386.0,127.8" fill="none" stroke="#1e90ff" stroke-width="4.2" stroke-linejoin="round" stroke-linecap="round" transform="translate(-0.75,0)"/>
<polyline points="374.0,126.4 378.0,126.4 384.0,127.0 386.0,127.8" fill="none" stroke="#1e90ff" stroke-width="4.2" stroke-linejoin="round" stroke-linecap="round" transform="translate(0,0)"/>
<polyline points="374.0,126.4 378.0,126.4 384.0,127.0 386.0,127.8" fill="none" stroke="#1e90ff" stroke-width="4.2" stroke-linejoin="round" stroke-linecap="round" transform="translate(0.75,0)"/>
<polyline points="386.0,127.8 392.0,130.0 397.0,136.0 401.0,144.0 405.0,158.0 410.0,167.0 416.0,174.0" fill="none" stroke="#f540b0" stroke-width="4.2" stroke-linejoin="round" stroke-linecap="round" transform="translate(-0.75,0)"/>
<polyline points="386.0,127.8 392.0,130.0 397.0,136.0 401.0,144.0 405.0,158.0 410.0,167.0 416.0,174.0" fill="none" stroke="#f540b0" stroke-width="4.2" stroke-linejoin="round" stroke-linecap="round" transform="translate(0,0)"/>
<polyline points="386.0,127.8 392.0,130.0 397.0,136.0 401.0,144.0 405.0,158.0 410.0,167.0 416.0,174.0" fill="none" stroke="#f540b0" stroke-width="4.2" stroke-linejoin="round" stroke-linecap="round" transform="translate(0.75,0)"/>
<polyline points="416.0,174.0 420.0,175.6 425.0,176.0 426.0,177.8" fill="none" stroke="#1e90ff" stroke-width="4.2" stroke-linejoin="round" stroke-linecap="round" transform="translate(-0.75,0)"/>
<polyline points="416.0,174.0 420.0,175.6 425.0,176.0 426.0,177.8" fill="none" stroke="#1e90ff" stroke-width="4.2" stroke-linejoin="round" stroke-linecap="round" transform="translate(0,0)"/>
<polyline points="416.0,174.0 420.0,175.6 425.0,176.0 426.0,177.8" fill="none" stroke="#1e90ff" stroke-width="4.2" stroke-linejoin="round" stroke-linecap="round" transform="translate(0.75,0)"/>
<polyline points="426.0,177.8 429.0,183.0 436.0,198.0 441.0,212.0 445.0,226.0 449.0,239.0 453.0,251.0 457.0,264.0 461.0,278.0 464.0,289.0 468.0,302.0 473.0,305.0 474.0,304.8" fill="none" stroke="#f540b0" stroke-width="4.2" stroke-linejoin="round" stroke-linecap="round" transform="translate(-0.75,0)"/>
<polyline points="426.0,177.8 429.0,183.0 436.0,198.0 441.0,212.0 445.0,226.0 449.0,239.0 453.0,251.0 457.0,264.0 461.0,278.0 464.0,289.0 468.0,302.0 473.0,305.0 474.0,304.8" fill="none" stroke="#f540b0" stroke-width="4.2" stroke-linejoin="round" stroke-linecap="round" transform="translate(0,0)"/>
<polyline points="426.0,177.8 429.0,183.0 436.0,198.0 441.0,212.0 445.0,226.0 449.0,239.0 453.0,251.0 457.0,264.0 461.0,278.0 464.0,289.0 468.0,302.0 473.0,305.0 474.0,304.8" fill="none" stroke="#f540b0" stroke-width="4.2" stroke-linejoin="round" stroke-linecap="round" transform="translate(0.75,0)"/>
<polyline points="474.0,304.8 477.0,304.0 481.0,298.0 484.0,289.0 492.0,277.0 498.0,272.0 498.5,272.6" fill="none" stroke="#1e90ff" stroke-width="4.2" stroke-linejoin="round" stroke-linecap="round" transform="translate(-0.75,0)"/>
<polyline points="474.0,304.8 477.0,304.0 481.0,298.0 484.0,289.0 492.0,277.0 498.0,272.0 498.5,272.6" fill="none" stroke="#1e90ff" stroke-width="4.2" stroke-linejoin="round" stroke-linecap="round" transform="translate(0,0)"/>
<polyline points="474.0,304.8 477.0,304.0 481.0,298.0 484.0,289.0 492.0,277.0 498.0,272.0 498.5,272.6" fill="none" stroke="#1e90ff" stroke-width="4.2" stroke-linejoin="round" stroke-linecap="round" transform="translate(0.75,0)"/>
<polyline points="498.5,272.6 505.0,281.0 508.0,289.0 509.5,298.0 513.0,312.0 517.0,324.0 521.0,331.0 525.0,334.0 527.0,334.0" fill="none" stroke="#f540b0" stroke-width="4.2" stroke-linejoin="round" stroke-linecap="round" transform="translate(-0.75,0)"/>
<polyline points="498.5,272.6 505.0,281.0 508.0,289.0 509.5,298.0 513.0,312.0 517.0,324.0 521.0,331.0 525.0,334.0 527.0,334.0" fill="none" stroke="#f540b0" stroke-width="4.2" stroke-linejoin="round" stroke-linecap="round" transform="translate(0,0)"/>
<polyline points="498.5,272.6 505.0,281.0 508.0,289.0 509.5,298.0 513.0,312.0 517.0,324.0 521.0,331.0 525.0,334.0 527.0,334.0" fill="none" stroke="#f540b0" stroke-width="4.2" stroke-linejoin="round" stroke-linecap="round" transform="translate(0.75,0)"/>
<polyline points="527.0,334.0 529.0,334.0 533.0,332.0 537.0,327.0 541.0,321.0 545.0,313.0 549.0,303.0 553.0,294.0 556.0,289.0 564.0,273.0 573.0,265.6 573.5,266.1" fill="none" stroke="#1e90ff" stroke-width="4.2" stroke-linejoin="round" stroke-linecap="round" transform="translate(-0.75,0)"/>
<polyline points="527.0,334.0 529.0,334.0 533.0,332.0 537.0,327.0 541.0,321.0 545.0,313.0 549.0,303.0 553.0,294.0 556.0,289.0 564.0,273.0 573.0,265.6 573.5,266.1" fill="none" stroke="#1e90ff" stroke-width="4.2" stroke-linejoin="round" stroke-linecap="round" transform="translate(0,0)"/>
<polyline points="527.0,334.0 529.0,334.0 533.0,332.0 537.0,327.0 541.0,321.0 545.0,313.0 549.0,303.0 553.0,294.0 556.0,289.0 564.0,273.0 573.0,265.6 573.5,266.1" fill="none" stroke="#1e90ff" stroke-width="4.2" stroke-linejoin="round" stroke-linecap="round" transform="translate(0.75,0)"/>
<polyline points="573.5,266.1 580.0,273.0 588.0,285.0 592.0,289.0 595.0,290.0 597.0,288.7" fill="none" stroke="#f540b0" stroke-width="4.2" stroke-linejoin="round" stroke-linecap="round" transform="translate(-0.75,0)"/>
<polyline points="573.5,266.1 580.0,273.0 588.0,285.0 592.0,289.0 595.0,290.0 597.0,288.7" fill="none" stroke="#f540b0" stroke-width="4.2" stroke-linejoin="round" stroke-linecap="round" transform="translate(0,0)"/>
<polyline points="573.5,266.1 580.0,273.0 588.0,285.0 592.0,289.0 595.0,290.0 597.0,288.7" fill="none" stroke="#f540b0" stroke-width="4.2" stroke-linejoin="round" stroke-linecap="round" transform="translate(0.75,0)"/>
<polyline points="597.0,288.7 598.0,288.0 608.0,283.0 628.0,281.0 636.0,275.0 641.0,265.0 645.0,259.0 645.5,259.6" fill="none" stroke="#1e90ff" stroke-width="4.2" stroke-linejoin="round" stroke-linecap="round" transform="translate(-0.75,0)"/>
<polyline points="597.0,288.7 598.0,288.0 608.0,283.0 628.0,281.0 636.0,275.0 641.0,265.0 645.0,259.0 645.5,259.6" fill="none" stroke="#1e90ff" stroke-width="4.2" stroke-linejoin="round" stroke-linecap="round" transform="translate(0,0)"/>
<polyline points="597.0,288.7 598.0,288.0 608.0,283.0 628.0,281.0 636.0,275.0 641.0,265.0 645.0,259.0 645.5,259.6" fill="none" stroke="#1e90ff" stroke-width="4.2" stroke-linejoin="round" stroke-linecap="round" transform="translate(0.75,0)"/>
<polyline points="645.5,259.6 650.0,265.0 654.0,275.0 658.0,289.0 661.0,297.0 665.0,303.0 669.0,308.0 671.0,308.9" fill="none" stroke="#f540b0" stroke-width="4.2" stroke-linejoin="round" stroke-linecap="round" transform="translate(-0.75,0)"/>
<polyline points="645.5,259.6 650.0,265.0 654.0,275.0 658.0,289.0 661.0,297.0 665.0,303.0 669.0,308.0 671.0,308.9" fill="none" stroke="#f540b0" stroke-width="4.2" stroke-linejoin="round" stroke-linecap="round" transform="translate(0,0)"/>
<polyline points="645.5,259.6 650.0,265.0 654.0,275.0 658.0,289.0 661.0,297.0 665.0,303.0 669.0,308.0 671.0,308.9" fill="none" stroke="#f540b0" stroke-width="4.2" stroke-linejoin="round" stroke-linecap="round" transform="translate(0.75,0)"/>
<polyline points="671.0,308.9 672.0,309.4 684.0,309.4 688.0,305.6 692.0,304.4 693.0,305.8" fill="none" stroke="#1e90ff" stroke-width="4.2" stroke-linejoin="round" stroke-linecap="round" transform="translate(-0.75,0)"/>
<polyline points="671.0,308.9 672.0,309.4 684.0,309.4 688.0,305.6 692.0,304.4 693.0,305.8" fill="none" stroke="#1e90ff" stroke-width="4.2" stroke-linejoin="round" stroke-linecap="round" transform="translate(0,0)"/>
<polyline points="671.0,308.9 672.0,309.4 684.0,309.4 688.0,305.6 692.0,304.4 693.0,305.8" fill="none" stroke="#1e90ff" stroke-width="4.2" stroke-linejoin="round" stroke-linecap="round" transform="translate(0.75,0)"/>
<polyline points="693.0,305.8 696.0,310.0 702.0,315.0 708.0,321.0 712.0,321.7" fill="none" stroke="#f540b0" stroke-width="4.2" stroke-linejoin="round" stroke-linecap="round" transform="translate(-0.75,0)"/>
<polyline points="693.0,305.8 696.0,310.0 702.0,315.0 708.0,321.0 712.0,321.7" fill="none" stroke="#f540b0" stroke-width="4.2" stroke-linejoin="round" stroke-linecap="round" transform="translate(0,0)"/>
<polyline points="693.0,305.8 696.0,310.0 702.0,315.0 708.0,321.0 712.0,321.7" fill="none" stroke="#f540b0" stroke-width="4.2" stroke-linejoin="round" stroke-linecap="round" transform="translate(0.75,0)"/>
<polyline points="712.0,321.7 714.0,322.0 722.0,322.0 728.0,317.0 730.0,316.8" fill="none" stroke="#1e90ff" stroke-width="4.2" stroke-linejoin="round" stroke-linecap="round" transform="translate(-0.75,0)"/>
<polyline points="712.0,321.7 714.0,322.0 722.0,322.0 728.0,317.0 730.0,316.8" fill="none" stroke="#1e90ff" stroke-width="4.2" stroke-linejoin="round" stroke-linecap="round" transform="translate(0,0)"/>
<polyline points="712.0,321.7 714.0,322.0 722.0,322.0 728.0,317.0 730.0,316.8" fill="none" stroke="#1e90ff" stroke-width="4.2" stroke-linejoin="round" stroke-linecap="round" transform="translate(0.75,0)"/>
<polyline points="730.0,316.8 736.0,316.0 741.0,315.4" fill="none" stroke="#f540b0" stroke-width="4.2" stroke-linejoin="round" stroke-linecap="round" transform="translate(-0.75,0)"/>
<polyline points="730.0,316.8 736.0,316.0 741.0,315.4" fill="none" stroke="#f540b0" stroke-width="4.2" stroke-linejoin="round" stroke-linecap="round" transform="translate(0,0)"/>
<polyline points="730.0,316.8 736.0,316.0 741.0,315.4" fill="none" stroke="#f540b0" stroke-width="4.2" stroke-linejoin="round" stroke-linecap="round" transform="translate(0.75,0)"/>
<polyline points="741.0,315.4 745.0,315.0 751.0,311.0 752.0,311.4" fill="none" stroke="#1e90ff" stroke-width="4.2" stroke-linejoin="round" stroke-linecap="round" transform="translate(-0.75,0)"/>
<polyline points="741.0,315.4 745.0,315.0 751.0,311.0 752.0,311.4" fill="none" stroke="#1e90ff" stroke-width="4.2" stroke-linejoin="round" stroke-linecap="round" transform="translate(0,0)"/>
<polyline points="741.0,315.4 745.0,315.0 751.0,311.0 752.0,311.4" fill="none" stroke="#1e90ff" stroke-width="4.2" stroke-linejoin="round" stroke-linecap="round" transform="translate(0.75,0)"/>
<polyline points="752.0,311.4 758.0,314.0 766.0,319.0 772.0,321.0 784.0,321.4 787.0,320.4" fill="none" stroke="#f540b0" stroke-width="4.2" stroke-linejoin="round" stroke-linecap="round" transform="translate(-0.75,0)"/>
<polyline points="752.0,311.4 758.0,314.0 766.0,319.0 772.0,321.0 784.0,321.4 787.0,320.4" fill="none" stroke="#f540b0" stroke-width="4.2" stroke-linejoin="round" stroke-linecap="round" transform="translate(0,0)"/>
<polyline points="752.0,311.4 758.0,314.0 766.0,319.0 772.0,321.0 784.0,321.4 787.0,320.4" fill="none" stroke="#f540b0" stroke-width="4.2" stroke-linejoin="round" stroke-linecap="round" transform="translate(0.75,0)"/>
<polyline points="787.0,320.4 788.0,320.0 790.0,320.4" fill="none" stroke="#1e90ff" stroke-width="4.2" stroke-linejoin="round" stroke-linecap="round" transform="translate(-0.75,0)"/>
<polyline points="787.0,320.4 788.0,320.0 790.0,320.4" fill="none" stroke="#1e90ff" stroke-width="4.2" stroke-linejoin="round" stroke-linecap="round" transform="translate(0,0)"/>
<polyline points="787.0,320.4 788.0,320.0 790.0,320.4" fill="none" stroke="#1e90ff" stroke-width="4.2" stroke-linejoin="round" stroke-linecap="round" transform="translate(0.75,0)"/>
<polyline points="790.0,320.4 793.0,321.0 800.0,329.0 803.0,330.8" fill="none" stroke="#f540b0" stroke-width="4.2" stroke-linejoin="round" stroke-linecap="round" transform="translate(-0.75,0)"/>
<polyline points="790.0,320.4 793.0,321.0 800.0,329.0 803.0,330.8" fill="none" stroke="#f540b0" stroke-width="4.2" stroke-linejoin="round" stroke-linecap="round" transform="translate(0,0)"/>
<polyline points="790.0,320.4 793.0,321.0 800.0,329.0 803.0,330.8" fill="none" stroke="#f540b0" stroke-width="4.2" stroke-linejoin="round" stroke-linecap="round" transform="translate(0.75,0)"/>
<polyline points="803.0,330.8 805.0,332.0 820.0,332.0 821.0,331.9" fill="none" stroke="#1e90ff" stroke-width="4.2" stroke-linejoin="round" stroke-linecap="round" transform="translate(-0.75,0)"/>
<polyline points="803.0,330.8 805.0,332.0 820.0,332.0 821.0,331.9" fill="none" stroke="#1e90ff" stroke-width="4.2" stroke-linejoin="round" stroke-linecap="round" transform="translate(0,0)"/>
<polyline points="803.0,330.8 805.0,332.0 820.0,332.0 821.0,331.9" fill="none" stroke="#1e90ff" stroke-width="4.2" stroke-linejoin="round" stroke-linecap="round" transform="translate(0.75,0)"/>
<polyline points="821.0,331.9 824.0,331.6 840.0,331.6 842.0,330.8" fill="none" stroke="#f540b0" stroke-width="4.2" stroke-linejoin="round" stroke-linecap="round" transform="translate(-0.75,0)"/>
<polyline points="821.0,331.9 824.0,331.6 840.0,331.6 842.0,330.8" fill="none" stroke="#f540b0" stroke-width="4.2" stroke-linejoin="round" stroke-linecap="round" transform="translate(0,0)"/>
<polyline points="821.0,331.9 824.0,331.6 840.0,331.6 842.0,330.8" fill="none" stroke="#f540b0" stroke-width="4.2" stroke-linejoin="round" stroke-linecap="round" transform="translate(0.75,0)"/>
<polyline points="842.0,330.8 844.0,330.0 846.0,331.2" fill="none" stroke="#1e90ff" stroke-width="4.2" stroke-linejoin="round" stroke-linecap="round" transform="translate(-0.75,0)"/>
<polyline points="842.0,330.8 844.0,330.0 846.0,331.2" fill="none" stroke="#1e90ff" stroke-width="4.2" stroke-linejoin="round" stroke-linecap="round" transform="translate(0,0)"/>
<polyline points="842.0,330.8 844.0,330.0 846.0,331.2" fill="none" stroke="#1e90ff" stroke-width="4.2" stroke-linejoin="round" stroke-linecap="round" transform="translate(0.75,0)"/>
<polyline points="846.0,331.2 849.0,333.0 853.0,340.0 857.0,350.0 861.0,360.0 865.0,370.0 869.0,377.0 873.0,383.0 877.0,389.0 881.0,393.0 885.0,397.0 889.0,404.0 893.0,414.0 897.0,423.0 901.0,428.0 903.0,427.7" fill="none" stroke="#f540b0" stroke-width="4.2" stroke-linejoin="round" stroke-linecap="round" transform="translate(-0.75,0)"/>
<polyline points="846.0,331.2 849.0,333.0 853.0,340.0 857.0,350.0 861.0,360.0 865.0,370.0 869.0,377.0 873.0,383.0 877.0,389.0 881.0,393.0 885.0,397.0 889.0,404.0 893.0,414.0 897.0,423.0 901.0,428.0 903.0,427.7" fill="none" stroke="#f540b0" stroke-width="4.2" stroke-linejoin="round" stroke-linecap="round" transform="translate(0,0)"/>
<polyline points="846.0,331.2 849.0,333.0 853.0,340.0 857.0,350.0 861.0,360.0 865.0,370.0 869.0,377.0 873.0,383.0 877.0,389.0 881.0,393.0 885.0,397.0 889.0,404.0 893.0,414.0 897.0,423.0 901.0,428.0 903.0,427.7" fill="none" stroke="#f540b0" stroke-width="4.2" stroke-linejoin="round" stroke-linecap="round" transform="translate(0.75,0)"/>
<polyline points="903.0,427.7 904.0,427.6 909.0,427.6 910.0,428.0" fill="none" stroke="#1e90ff" stroke-width="4.2" stroke-linejoin="round" stroke-linecap="round" transform="translate(-0.75,0)"/>
<polyline points="903.0,427.7 904.0,427.6 909.0,427.6 910.0,428.0" fill="none" stroke="#1e90ff" stroke-width="4.2" stroke-linejoin="round" stroke-linecap="round" transform="translate(0,0)"/>
<polyline points="903.0,427.7 904.0,427.6 909.0,427.6 910.0,428.0" fill="none" stroke="#1e90ff" stroke-width="4.2" stroke-linejoin="round" stroke-linecap="round" transform="translate(0.75,0)"/>
<polyline points="910.0,428.0 913.0,429.0 918.0,434.0 920.0,441.0 924.0,450.0 928.0,457.0 932.0,464.0 936.0,474.0 941.0,485.0 945.0,493.0 947.0,495.0" fill="none" stroke="#f540b0" stroke-width="4.2" stroke-linejoin="round" stroke-linecap="round" transform="translate(-0.75,0)"/>
<polyline points="910.0,428.0 913.0,429.0 918.0,434.0 920.0,441.0 924.0,450.0 928.0,457.0 932.0,464.0 936.0,474.0 941.0,485.0 945.0,493.0 947.0,495.0" fill="none" stroke="#f540b0" stroke-width="4.2" stroke-linejoin="round" stroke-linecap="round" transform="translate(0,0)"/>
<polyline points="910.0,428.0 913.0,429.0 918.0,434.0 920.0,441.0 924.0,450.0 928.0,457.0 932.0,464.0 936.0,474.0 941.0,485.0 945.0,493.0 947.0,495.0" fill="none" stroke="#f540b0" stroke-width="4.2" stroke-linejoin="round" stroke-linecap="round" transform="translate(0.75,0)"/>
<polyline points="947.0,495.0 948.0,496.0 956.0,496.0 961.0,491.0 965.0,482.0 969.0,472.0 973.0,461.0 977.0,454.0 981.0,449.0 985.0,444.0 989.0,442.0 993.0,440.0 995.0,441.5" fill="none" stroke="#1e90ff" stroke-width="4.2" stroke-linejoin="round" stroke-linecap="round" transform="translate(-0.75,0)"/>
<polyline points="947.0,495.0 948.0,496.0 956.0,496.0 961.0,491.0 965.0,482.0 969.0,472.0 973.0,461.0 977.0,454.0 981.0,449.0 985.0,444.0 989.0,442.0 993.0,440.0 995.0,441.5" fill="none" stroke="#1e90ff" stroke-width="4.2" stroke-linejoin="round" stroke-linecap="round" transform="translate(0,0)"/>
<polyline points="947.0,495.0 948.0,496.0 956.0,496.0 961.0,491.0 965.0,482.0 969.0,472.0 973.0,461.0 977.0,454.0 981.0,449.0 985.0,444.0 989.0,442.0 993.0,440.0 995.0,441.5" fill="none" stroke="#1e90ff" stroke-width="4.2" stroke-linejoin="round" stroke-linecap="round" transform="translate(0.75,0)"/>
<polyline points="995.0,441.5 997.0,443.0 1001.0,445.0 1003.0,444.8" fill="none" stroke="#f540b0" stroke-width="4.2" stroke-linejoin="round" stroke-linecap="round" transform="translate(-0.75,0)"/>
<polyline points="995.0,441.5 997.0,443.0 1001.0,445.0 1003.0,444.8" fill="none" stroke="#f540b0" stroke-width="4.2" stroke-linejoin="round" stroke-linecap="round" transform="translate(0,0)"/>
<polyline points="995.0,441.5 997.0,443.0 1001.0,445.0 1003.0,444.8" fill="none" stroke="#f540b0" stroke-width="4.2" stroke-linejoin="round" stroke-linecap="round" transform="translate(0.75,0)"/>
<polyline points="1003.0,444.8 1005.0,444.6 1009.0,438.0 1013.0,431.0 1017.0,428.0 1017.5,428.6" fill="none" stroke="#1e90ff" stroke-width="4.2" stroke-linejoin="round" stroke-linecap="round" transform="translate(-0.75,0)"/>
<polyline points="1003.0,444.8 1005.0,444.6 1009.0,438.0 1013.0,431.0 1017.0,428.0 1017.5,428.6" fill="none" stroke="#1e90ff" stroke-width="4.2" stroke-linejoin="round" stroke-linecap="round" transform="translate(0,0)"/>
<polyline points="1003.0,444.8 1005.0,444.6 1009.0,438.0 1013.0,431.0 1017.0,428.0 1017.5,428.6" fill="none" stroke="#1e90ff" stroke-width="4.2" stroke-linejoin="round" stroke-linecap="round" transform="translate(0.75,0)"/>
<polyline points="1017.5,428.6 1023.0,435.0 1028.0,443.0 1033.0,453.0 1037.0,460.0 1041.0,467.0 1045.0,474.0 1049.0,481.0 1053.0,487.0 1057.0,492.0 1061.0,495.0 1065.0,497.4 1073.0,500.0 1075.0,499.7" fill="none" stroke="#f540b0" stroke-width="4.2" stroke-linejoin="round" stroke-linecap="round" transform="translate(-0.75,0)"/>
<polyline points="1017.5,428.6 1023.0,435.0 1028.0,443.0 1033.0,453.0 1037.0,460.0 1041.0,467.0 1045.0,474.0 1049.0,481.0 1053.0,487.0 1057.0,492.0 1061.0,495.0 1065.0,497.4 1073.0,500.0 1075.0,499.7" fill="none" stroke="#f540b0" stroke-width="4.2" stroke-linejoin="round" stroke-linecap="round" transform="translate(0,0)"/>
<polyline points="1017.5,428.6 1023.0,435.0 1028.0,443.0 1033.0,453.0 1037.0,460.0 1041.0,467.0 1045.0,474.0 1049.0,481.0 1053.0,487.0 1057.0,492.0 1061.0,495.0 1065.0,497.4 1073.0,500.0 1075.0,499.7" fill="none" stroke="#f540b0" stroke-width="4.2" stroke-linejoin="round" stroke-linecap="round" transform="translate(0.75,0)"/>
<polyline points="1075.0,499.7 1077.0,499.4 1081.0,495.0 1085.0,489.4 1089.0,483.0 1093.0,476.0 1097.0,467.0 1101.0,459.0 1105.0,447.0 1109.0,435.0 1112.0,420.0 1116.0,408.0 1120.0,399.0 1124.0,391.0 1128.0,381.0 1132.0,369.0 1136.0,359.0 1141.0,350.0 1145.0,344.0 1149.0,338.0 1153.0,332.4" fill="none" stroke="#1e90ff" stroke-width="4.2" stroke-linejoin="round" stroke-linecap="round" transform="translate(-0.75,0)"/>
<polyline points="1075.0,499.7 1077.0,499.4 1081.0,495.0 1085.0,489.4 1089.0,483.0 1093.0,476.0 1097.0,467.0 1101.0,459.0 1105.0,447.0 1109.0,435.0 1112.0,420.0 1116.0,408.0 1120.0,399.0 1124.0,391.0 1128.0,381.0 1132.0,369.0 1136.0,359.0 1141.0,350.0 1145.0,344.0 1149.0,338.0 1153.0,332.4" fill="none" stroke="#1e90ff" stroke-width="4.2" stroke-linejoin="round" stroke-linecap="round" transform="translate(0,0)"/>
<polyline points="1075.0,499.7 1077.0,499.4 1081.0,495.0 1085.0,489.4 1089.0,483.0 1093.0,476.0 1097.0,467.0 1101.0,459.0 1105.0,447.0 1109.0,435.0 1112.0,420.0 1116.0,408.0 1120.0,399.0 1124.0,391.0 1128.0,381.0 1132.0,369.0 1136.0,359.0 1141.0,350.0 1145.0,344.0 1149.0,338.0 1153.0,332.4" fill="none" stroke="#1e90ff" stroke-width="4.2" stroke-linejoin="round" stroke-linecap="round" transform="translate(0.75,0)"/>
<polyline points="1153.0,332.4 1154.0,332.4" fill="none" stroke="#1e90ff" stroke-width="4.2" stroke-linejoin="round" stroke-linecap="round" transform="translate(-0.75,0)"/>
<polyline points="1153.0,332.4 1154.0,332.4" fill="none" stroke="#1e90ff" stroke-width="4.2" stroke-linejoin="round" stroke-linecap="round" transform="translate(0,0)"/>
<polyline points="1153.0,332.4 1154.0,332.4" fill="none" stroke="#1e90ff" stroke-width="4.2" stroke-linejoin="round" stroke-linecap="round" transform="translate(0.75,0)"/>
<circle cx="9.5" cy="158.2" r="1.55" fill="#ffc6d0"/>
<circle cx="13.5" cy="155.8" r="1.55" fill="#00f0ff"/>
<circle cx="17.5" cy="152.0" r="1.55" fill="#00f0ff"/>
<circle cx="21.5" cy="142.4" r="1.55" fill="#00f0ff"/>
<circle cx="25.5" cy="122.1" r="1.55" fill="#00f0ff"/>
<circle cx="29.5" cy="108.1" r="1.55" fill="#00f0ff"/>
<circle cx="33.5" cy="101.5" r="1.55" fill="#00f0ff"/>
<circle cx="37.5" cy="98.2" r="1.55" fill="#00f0ff"/>
<circle cx="41.5" cy="96.5" r="1.55" fill="#00f0ff"/>
<circle cx="45.5" cy="94.5" r="1.55" fill="#00f0ff"/>
<circle cx="49.5" cy="90.5" r="1.55" fill="#00f0ff"/>
<circle cx="53.5" cy="86.4" r="1.55" fill="#00f0ff"/>
<circle cx="57.5" cy="81.9" r="1.55" fill="#00f0ff"/>
<circle cx="61.5" cy="78.2" r="1.55" fill="#00f0ff"/>
<circle cx="65.5" cy="78.5" r="1.55" fill="#ffc6d0"/>
<circle cx="69.5" cy="83.0" r="1.55" fill="#ffc6d0"/>
<circle cx="73.5" cy="90.7" r="1.55" fill="#ffc6d0"/>
<circle cx="77.5" cy="99.1" r="1.55" fill="#ffc6d0"/>
<circle cx="81.5" cy="113.2" r="1.55" fill="#ffc6d0"/>
<circle cx="85.5" cy="131.7" r="1.55" fill="#ffc6d0"/>
<circle cx="89.5" cy="154.2" r="1.55" fill="#ffc6d0"/>
<circle cx="93.5" cy="177.3" r="1.55" fill="#ffc6d0"/>
<circle cx="97.5" cy="197.9" r="1.55" fill="#ffc6d0"/>
<circle cx="101.5" cy="224.9" r="1.55" fill="#ffc6d0"/>
<circle cx="105.5" cy="259.6" r="1.55" fill="#ffc6d0"/>
<circle cx="109.5" cy="293.4" r="1.55" fill="#ffc6d0"/>
<circle cx="113.5" cy="327.5" r="1.55" fill="#ffc6d0"/>
<circle cx="117.5" cy="354.8" r="1.55" fill="#ffc6d0"/>
<circle cx="121.5" cy="374.0" r="1.55" fill="#ffc6d0"/>
<circle cx="125.5" cy="382.5" r="1.55" fill="#ffc6d0"/>
<circle cx="129.5" cy="386.1" r="1.55" fill="#ffc6d0"/>
<circle cx="133.5" cy="385.4" r="1.55" fill="#00f0ff"/>
<circle cx="137.5" cy="380.9" r="1.55" fill="#00f0ff"/>
<circle cx="141.5" cy="375.1" r="1.55" fill="#00f0ff"/>
<circle cx="145.5" cy="365.8" r="1.55" fill="#00f0ff"/>
<circle cx="149.5" cy="351.6" r="1.55" fill="#00f0ff"/>
<circle cx="153.5" cy="336.4" r="1.55" fill="#00f0ff"/>
<circle cx="157.5" cy="320.8" r="1.55" fill="#00f0ff"/>
<circle cx="161.5" cy="308.0" r="1.55" fill="#00f0ff"/>
<circle cx="165.5" cy="299.6" r="1.55" fill="#00f0ff"/>
<circle cx="169.5" cy="293.2" r="1.55" fill="#00f0ff"/>
<circle cx="173.5" cy="286.6" r="1.55" fill="#00f0ff"/>
<circle cx="177.5" cy="275.8" r="1.55" fill="#00f0ff"/>
<circle cx="181.5" cy="265.4" r="1.55" fill="#00f0ff"/>
<circle cx="185.5" cy="255.9" r="1.55" fill="#00f0ff"/>
<circle cx="189.5" cy="248.2" r="1.55" fill="#00f0ff"/>
<circle cx="193.5" cy="243.8" r="1.55" fill="#00f0ff"/>
<circle cx="197.5" cy="242.5" r="1.55" fill="#ffc6d0"/>
<circle cx="201.5" cy="246.9" r="1.55" fill="#ffc6d0"/>
<circle cx="205.5" cy="251.3" r="1.55" fill="#ffc6d0"/>
<circle cx="209.5" cy="255.3" r="1.55" fill="#ffc6d0"/>
<circle cx="213.5" cy="258.9" r="1.55" fill="#ffc6d0"/>
<circle cx="217.5" cy="262.0" r="1.55" fill="#ffc6d0"/>
<circle cx="221.5" cy="262.0" r="1.55" fill="#00f0ff"/>
<circle cx="225.5" cy="258.5" r="1.55" fill="#00f0ff"/>
<circle cx="229.5" cy="254.5" r="1.55" fill="#00f0ff"/>
<circle cx="233.5" cy="250.5" r="1.55" fill="#00f0ff"/>
<circle cx="237.5" cy="244.5" r="1.55" fill="#00f0ff"/>
<circle cx="241.5" cy="237.9" r="1.55" fill="#00f0ff"/>
<circle cx="245.5" cy="228.9" r="1.55" fill="#00f0ff"/>
<circle cx="249.5" cy="219.8" r="1.55" fill="#00f0ff"/>
<circle cx="253.5" cy="209.4" r="1.55" fill="#00f0ff"/>
<circle cx="257.5" cy="196.2" r="1.55" fill="#00f0ff"/>
<circle cx="261.5" cy="182.2" r="1.55" fill="#00f0ff"/>
<circle cx="265.5" cy="168.8" r="1.55" fill="#00f0ff"/>
<circle cx="269.5" cy="158.6" r="1.55" fill="#00f0ff"/>
<circle cx="273.5" cy="147.8" r="1.55" fill="#00f0ff"/>
<circle cx="277.5" cy="136.5" r="1.55" fill="#00f0ff"/>
<circle cx="281.5" cy="126.5" r="1.55" fill="#00f0ff"/>
<circle cx="285.5" cy="120.1" r="1.55" fill="#00f0ff"/>
<circle cx="289.5" cy="117.6" r="1.55" fill="#00f0ff"/>
<circle cx="293.5" cy="115.4" r="1.55" fill="#00f0ff"/>
<circle cx="297.5" cy="113.9" r="1.55" fill="#00f0ff"/>
<circle cx="301.5" cy="112.8" r="1.55" fill="#00f0ff"/>
<circle cx="305.5" cy="113.1" r="1.55" fill="#ffc6d0"/>
<circle cx="309.5" cy="114.9" r="1.55" fill="#ffc6d0"/>
<circle cx="313.5" cy="117.5" r="1.55" fill="#ffc6d0"/>
<circle cx="317.5" cy="121.5" r="1.55" fill="#ffc6d0"/>
<circle cx="321.5" cy="124.9" r="1.55" fill="#ffc6d0"/>
<circle cx="325.5" cy="127.5" r="1.55" fill="#ffc6d0"/>
<circle cx="329.5" cy="128.8" r="1.55" fill="#00f0ff"/>
<circle cx="333.5" cy="128.6" r="1.55" fill="#00f0ff"/>
<circle cx="337.5" cy="128.1" r="1.55" fill="#00f0ff"/>
<circle cx="341.5" cy="126.7" r="1.55" fill="#00f0ff"/>
<circle cx="345.5" cy="125.2" r="1.55" fill="#00f0ff"/>
<circle cx="349.5" cy="123.2" r="1.55" fill="#00f0ff"/>
<circle cx="353.5" cy="121.2" r="1.55" fill="#00f0ff"/>
<circle cx="357.5" cy="120.6" r="1.55" fill="#ffc6d0"/>
<circle cx="361.5" cy="122.6" r="1.55" fill="#ffc6d0"/>
<circle cx="365.5" cy="124.5" r="1.55" fill="#ffc6d0"/>
<circle cx="369.5" cy="125.7" r="1.55" fill="#ffc6d0"/>
<circle cx="373.5" cy="126.4" r="1.55" fill="#ffc6d0"/>
<circle cx="377.5" cy="126.4" r="1.55" fill="#00f0ff"/>
<circle cx="381.5" cy="126.8" r="1.55" fill="#00f0ff"/>
<circle cx="385.5" cy="127.6" r="1.55" fill="#00f0ff"/>
<circle cx="389.5" cy="129.1" r="1.55" fill="#ffc6d0"/>
<circle cx="393.5" cy="131.8" r="1.55" fill="#ffc6d0"/>
<circle cx="397.5" cy="137.0" r="1.55" fill="#ffc6d0"/>
<circle cx="401.5" cy="145.8" r="1.55" fill="#ffc6d0"/>
<circle cx="405.5" cy="158.9" r="1.55" fill="#ffc6d0"/>
<circle cx="409.5" cy="166.1" r="1.55" fill="#ffc6d0"/>
<circle cx="413.5" cy="171.1" r="1.55" fill="#ffc6d0"/>
<circle cx="417.5" cy="174.6" r="1.55" fill="#00f0ff"/>
<circle cx="421.5" cy="175.7" r="1.55" fill="#00f0ff"/>
<circle cx="425.5" cy="176.9" r="1.55" fill="#00f0ff"/>
<circle cx="429.5" cy="184.1" r="1.55" fill="#ffc6d0"/>
<circle cx="433.5" cy="192.6" r="1.55" fill="#ffc6d0"/>
<circle cx="437.5" cy="202.2" r="1.55" fill="#ffc6d0"/>
<circle cx="441.5" cy="213.8" r="1.55" fill="#ffc6d0"/>
<circle cx="445.5" cy="227.6" r="1.55" fill="#ffc6d0"/>
<circle cx="449.5" cy="240.5" r="1.55" fill="#ffc6d0"/>
<circle cx="453.5" cy="252.6" r="1.55" fill="#ffc6d0"/>
<circle cx="457.5" cy="265.8" r="1.55" fill="#ffc6d0"/>
<circle cx="461.5" cy="279.8" r="1.55" fill="#ffc6d0"/>
<circle cx="465.5" cy="293.9" r="1.55" fill="#ffc6d0"/>
<circle cx="469.5" cy="302.9" r="1.55" fill="#ffc6d0"/>
<circle cx="473.5" cy="304.9" r="1.55" fill="#ffc6d0"/>
<circle cx="477.5" cy="303.2" r="1.55" fill="#00f0ff"/>
<circle cx="481.5" cy="296.5" r="1.55" fill="#00f0ff"/>
<circle cx="485.5" cy="286.8" r="1.55" fill="#00f0ff"/>
<circle cx="489.5" cy="280.8" r="1.55" fill="#00f0ff"/>
<circle cx="493.5" cy="275.8" r="1.55" fill="#00f0ff"/>
<circle cx="497.5" cy="272.4" r="1.55" fill="#00f0ff"/>
<circle cx="501.5" cy="276.5" r="1.55" fill="#ffc6d0"/>
<circle cx="505.5" cy="282.3" r="1.55" fill="#ffc6d0"/>
<circle cx="509.5" cy="298.0" r="1.55" fill="#ffc6d0"/>
<circle cx="513.5" cy="313.5" r="1.55" fill="#ffc6d0"/>
<circle cx="517.5" cy="324.9" r="1.55" fill="#ffc6d0"/>
<circle cx="521.5" cy="331.4" r="1.55" fill="#ffc6d0"/>
<circle cx="525.5" cy="334.0" r="1.55" fill="#ffc6d0"/>
<circle cx="529.5" cy="333.8" r="1.55" fill="#00f0ff"/>
<circle cx="533.5" cy="331.4" r="1.55" fill="#00f0ff"/>
<circle cx="537.5" cy="326.2" r="1.55" fill="#00f0ff"/>
<circle cx="541.5" cy="320.0" r="1.55" fill="#00f0ff"/>
<circle cx="545.5" cy="311.8" r="1.55" fill="#00f0ff"/>
<circle cx="549.5" cy="301.9" r="1.55" fill="#00f0ff"/>
<circle cx="553.5" cy="293.2" r="1.55" fill="#00f0ff"/>
<circle cx="557.5" cy="286.0" r="1.55" fill="#00f0ff"/>
<circle cx="561.5" cy="278.0" r="1.55" fill="#00f0ff"/>
<circle cx="565.5" cy="271.8" r="1.55" fill="#00f0ff"/>
<circle cx="569.5" cy="268.5" r="1.55" fill="#00f0ff"/>
<circle cx="573.5" cy="266.1" r="1.55" fill="#00f0ff"/>
<circle cx="577.5" cy="270.4" r="1.55" fill="#ffc6d0"/>
<circle cx="581.5" cy="275.2" r="1.55" fill="#ffc6d0"/>
<circle cx="585.5" cy="281.2" r="1.55" fill="#ffc6d0"/>
<circle cx="589.5" cy="286.5" r="1.55" fill="#ffc6d0"/>
<circle cx="593.5" cy="289.5" r="1.55" fill="#ffc6d0"/>
<circle cx="597.5" cy="288.3" r="1.55" fill="#00f0ff"/>
<circle cx="601.5" cy="286.2" r="1.55" fill="#00f0ff"/>
<circle cx="605.5" cy="284.2" r="1.55" fill="#00f0ff"/>
<circle cx="609.5" cy="282.9" r="1.55" fill="#00f0ff"/>
<circle cx="613.5" cy="282.4" r="1.55" fill="#00f0ff"/>
<circle cx="617.5" cy="282.1" r="1.55" fill="#00f0ff"/>
<circle cx="621.5" cy="281.6" r="1.55" fill="#00f0ff"/>
<circle cx="625.5" cy="281.2" r="1.55" fill="#00f0ff"/>
<circle cx="629.5" cy="279.9" r="1.55" fill="#00f0ff"/>
<circle cx="633.5" cy="276.9" r="1.55" fill="#00f0ff"/>
<circle cx="637.5" cy="272.0" r="1.55" fill="#00f0ff"/>
<circle cx="641.5" cy="264.2" r="1.55" fill="#00f0ff"/>
<circle cx="645.5" cy="259.6" r="1.55" fill="#00f0ff"/>
<circle cx="649.5" cy="264.4" r="1.55" fill="#ffc6d0"/>
<circle cx="653.5" cy="273.8" r="1.55" fill="#ffc6d0"/>
<circle cx="657.5" cy="287.2" r="1.55" fill="#ffc6d0"/>
<circle cx="661.5" cy="297.8" r="1.55" fill="#ffc6d0"/>
<circle cx="665.5" cy="303.6" r="1.55" fill="#ffc6d0"/>
<circle cx="669.5" cy="308.2" r="1.55" fill="#ffc6d0"/>
<circle cx="673.5" cy="309.4" r="1.55" fill="#00f0ff"/>
<circle cx="677.5" cy="309.4" r="1.55" fill="#00f0ff"/>
<circle cx="681.5" cy="309.4" r="1.55" fill="#00f0ff"/>
<circle cx="685.5" cy="308.0" r="1.55" fill="#00f0ff"/>
<circle cx="689.5" cy="305.1" r="1.55" fill="#00f0ff"/>
<circle cx="693.5" cy="306.5" r="1.55" fill="#ffc6d0"/>
<circle cx="697.5" cy="311.2" r="1.55" fill="#ffc6d0"/>
<circle cx="701.5" cy="314.6" r="1.55" fill="#ffc6d0"/>
<circle cx="705.5" cy="318.5" r="1.55" fill="#ffc6d0"/>
<circle cx="709.5" cy="321.2" r="1.55" fill="#ffc6d0"/>
<circle cx="713.5" cy="321.9" r="1.55" fill="#00f0ff"/>
<circle cx="717.5" cy="322.0" r="1.55" fill="#00f0ff"/>
<circle cx="721.5" cy="322.0" r="1.55" fill="#00f0ff"/>
<circle cx="725.5" cy="319.1" r="1.55" fill="#00f0ff"/>
<circle cx="729.5" cy="316.8" r="1.55" fill="#00f0ff"/>
<circle cx="733.5" cy="316.3" r="1.55" fill="#ffc6d0"/>
<circle cx="737.5" cy="315.8" r="1.55" fill="#ffc6d0"/>
<circle cx="741.5" cy="315.4" r="1.55" fill="#00f0ff"/>
<circle cx="745.5" cy="314.7" r="1.55" fill="#00f0ff"/>
<circle cx="749.5" cy="312.0" r="1.55" fill="#00f0ff"/>
<circle cx="753.5" cy="312.1" r="1.55" fill="#ffc6d0"/>
<circle cx="757.5" cy="313.8" r="1.55" fill="#ffc6d0"/>
<circle cx="761.5" cy="316.2" r="1.55" fill="#ffc6d0"/>
<circle cx="765.5" cy="318.7" r="1.55" fill="#ffc6d0"/>
<circle cx="769.5" cy="320.2" r="1.55" fill="#ffc6d0"/>
<circle cx="773.5" cy="321.1" r="1.55" fill="#ffc6d0"/>
<circle cx="777.5" cy="321.2" r="1.55" fill="#ffc6d0"/>
<circle cx="781.5" cy="321.3" r="1.55" fill="#ffc6d0"/>
<circle cx="785.5" cy="320.9" r="1.55" fill="#ffc6d0"/>
<circle cx="789.5" cy="320.3" r="1.55" fill="#00f0ff"/>
<circle cx="793.5" cy="321.6" r="1.55" fill="#ffc6d0"/>
<circle cx="797.5" cy="326.1" r="1.55" fill="#ffc6d0"/>
<circle cx="801.5" cy="329.9" r="1.55" fill="#ffc6d0"/>
<circle cx="805.5" cy="332.0" r="1.55" fill="#00f0ff"/>
<circle cx="809.5" cy="332.0" r="1.55" fill="#00f0ff"/>
<circle cx="813.5" cy="332.0" r="1.55" fill="#00f0ff"/>
<circle cx="817.5" cy="332.0" r="1.55" fill="#00f0ff"/>
<circle cx="821.5" cy="331.9" r="1.55" fill="#ffc6d0"/>
<circle cx="825.5" cy="331.6" r="1.55" fill="#ffc6d0"/>
<circle cx="829.5" cy="331.6" r="1.55" fill="#ffc6d0"/>
<circle cx="833.5" cy="331.6" r="1.55" fill="#ffc6d0"/>
<circle cx="837.5" cy="331.6" r="1.55" fill="#ffc6d0"/>
<circle cx="841.5" cy="331.0" r="1.55" fill="#ffc6d0"/>
<circle cx="845.5" cy="330.9" r="1.55" fill="#00f0ff"/>
<circle cx="849.5" cy="333.9" r="1.55" fill="#ffc6d0"/>
<circle cx="853.5" cy="341.2" r="1.55" fill="#ffc6d0"/>
<circle cx="857.5" cy="351.2" r="1.55" fill="#ffc6d0"/>
<circle cx="861.5" cy="361.2" r="1.55" fill="#ffc6d0"/>
<circle cx="865.5" cy="370.9" r="1.55" fill="#ffc6d0"/>
<circle cx="869.5" cy="377.8" r="1.55" fill="#ffc6d0"/>
<circle cx="873.5" cy="383.8" r="1.55" fill="#ffc6d0"/>
<circle cx="877.5" cy="389.5" r="1.55" fill="#ffc6d0"/>
<circle cx="881.5" cy="393.5" r="1.55" fill="#ffc6d0"/>
<circle cx="885.5" cy="397.9" r="1.55" fill="#ffc6d0"/>
<circle cx="889.5" cy="405.2" r="1.55" fill="#ffc6d0"/>
<circle cx="893.5" cy="415.1" r="1.55" fill="#ffc6d0"/>
<circle cx="897.5" cy="423.6" r="1.55" fill="#ffc6d0"/>
<circle cx="901.5" cy="427.9" r="1.55" fill="#ffc6d0"/>
<circle cx="905.5" cy="427.6" r="1.55" fill="#00f0ff"/>
<circle cx="909.5" cy="427.8" r="1.55" fill="#00f0ff"/>
<circle cx="913.5" cy="429.5" r="1.55" fill="#ffc6d0"/>
<circle cx="917.5" cy="433.5" r="1.55" fill="#ffc6d0"/>
<circle cx="921.5" cy="444.4" r="1.55" fill="#ffc6d0"/>
<circle cx="925.5" cy="452.6" r="1.55" fill="#ffc6d0"/>
<circle cx="929.5" cy="459.6" r="1.55" fill="#ffc6d0"/>
<circle cx="933.5" cy="467.8" r="1.55" fill="#ffc6d0"/>
<circle cx="937.5" cy="477.3" r="1.55" fill="#ffc6d0"/>
<circle cx="941.5" cy="486.0" r="1.55" fill="#ffc6d0"/>
<circle cx="945.5" cy="493.5" r="1.55" fill="#ffc6d0"/>
<circle cx="949.5" cy="496.0" r="1.55" fill="#00f0ff"/>
<circle cx="953.5" cy="496.0" r="1.55" fill="#00f0ff"/>
<circle cx="957.5" cy="494.5" r="1.55" fill="#00f0ff"/>
<circle cx="961.5" cy="489.9" r="1.55" fill="#00f0ff"/>
<circle cx="965.5" cy="480.8" r="1.55" fill="#00f0ff"/>
<circle cx="969.5" cy="470.6" r="1.55" fill="#00f0ff"/>
<circle cx="973.5" cy="460.1" r="1.55" fill="#00f0ff"/>
<circle cx="977.5" cy="453.4" r="1.55" fill="#00f0ff"/>
<circle cx="981.5" cy="448.4" r="1.55" fill="#00f0ff"/>
<circle cx="985.5" cy="443.8" r="1.55" fill="#00f0ff"/>
<circle cx="989.5" cy="441.8" r="1.55" fill="#00f0ff"/>
<circle cx="993.5" cy="440.4" r="1.55" fill="#00f0ff"/>
<circle cx="997.5" cy="443.2" r="1.55" fill="#ffc6d0"/>
<circle cx="1001.5" cy="444.9" r="1.55" fill="#ffc6d0"/>
<circle cx="1005.5" cy="443.8" r="1.55" fill="#00f0ff"/>
<circle cx="1009.5" cy="437.1" r="1.55" fill="#00f0ff"/>
<circle cx="1013.5" cy="430.6" r="1.55" fill="#00f0ff"/>
<circle cx="1017.5" cy="428.6" r="1.55" fill="#00f0ff"/>
<circle cx="1021.5" cy="433.2" r="1.55" fill="#ffc6d0"/>
<circle cx="1025.5" cy="439.0" r="1.55" fill="#ffc6d0"/>
<circle cx="1029.5" cy="446.0" r="1.55" fill="#ffc6d0"/>
<circle cx="1033.5" cy="453.9" r="1.55" fill="#ffc6d0"/>
<circle cx="1037.5" cy="460.9" r="1.55" fill="#ffc6d0"/>
<circle cx="1041.5" cy="467.9" r="1.55" fill="#ffc6d0"/>
<circle cx="1045.5" cy="474.9" r="1.55" fill="#ffc6d0"/>
<circle cx="1049.5" cy="481.8" r="1.55" fill="#ffc6d0"/>
<circle cx="1053.5" cy="487.6" r="1.55" fill="#ffc6d0"/>
<circle cx="1057.5" cy="492.4" r="1.55" fill="#ffc6d0"/>
<circle cx="1061.5" cy="495.3" r="1.55" fill="#ffc6d0"/>
<circle cx="1065.5" cy="497.6" r="1.55" fill="#ffc6d0"/>
<circle cx="1069.5" cy="498.9" r="1.55" fill="#ffc6d0"/>
<circle cx="1073.5" cy="499.9" r="1.55" fill="#ffc6d0"/>
<circle cx="1077.5" cy="498.8" r="1.55" fill="#00f0ff"/>
<circle cx="1081.5" cy="494.3" r="1.55" fill="#00f0ff"/>
<circle cx="1085.5" cy="488.6" r="1.55" fill="#00f0ff"/>
<circle cx="1089.5" cy="482.1" r="1.55" fill="#00f0ff"/>
<circle cx="1093.5" cy="474.9" r="1.55" fill="#00f0ff"/>
<circle cx="1097.5" cy="466.0" r="1.55" fill="#00f0ff"/>
<circle cx="1101.5" cy="457.5" r="1.55" fill="#00f0ff"/>
<circle cx="1105.5" cy="445.5" r="1.55" fill="#00f0ff"/>
<circle cx="1109.5" cy="432.5" r="1.55" fill="#00f0ff"/>
<circle cx="1113.5" cy="415.5" r="1.55" fill="#00f0ff"/>
<circle cx="1117.5" cy="404.6" r="1.55" fill="#00f0ff"/>
<circle cx="1121.5" cy="396.0" r="1.55" fill="#00f0ff"/>
<circle cx="1125.5" cy="387.2" r="1.55" fill="#00f0ff"/>
<circle cx="1129.5" cy="376.5" r="1.55" fill="#00f0ff"/>
<circle cx="1133.5" cy="365.2" r="1.55" fill="#00f0ff"/>
<circle cx="1137.5" cy="356.3" r="1.55" fill="#00f0ff"/>
<circle cx="1141.5" cy="349.2" r="1.55" fill="#00f0ff"/>
<circle cx="1145.5" cy="343.2" r="1.55" fill="#00f0ff"/>
<circle cx="1149.5" cy="337.3" r="1.55" fill="#00f0ff"/>
<path d="M10.450000000000001,199.9H14.35V191.6L18.15,195.8V192.4L12.4,186L6.65,192.4V195.8L10.450000000000001,191.6Z" fill="#1e90ff"/>
<path d="M243.05,261.9H246.95V253.6L250.75,257.8V254.4L245,248L239.25,254.4V257.8L243.05,253.6Z" fill="#1e90ff"/>
<path d="M342.05,154.9H345.95V146.6L349.75,150.8V147.4L344,141L338.25,147.4V150.8L342.05,146.6Z" fill="#1e90ff"/>
<path d="M374.45,176.9H378.34999999999997V168.6L382.15,172.8V169.4L376.4,163L370.65,169.4V172.8L374.45,168.6Z" fill="#1e90ff"/>
<path d="M639.05,289.9H642.95V281.6L646.75,285.8V282.4L641,276L635.25,282.4V285.8L639.05,281.6Z" fill="#1e90ff"/>
<path d="M1102.6499999999999,475.9H1106.55V467.6L1110.35,471.8V468.4L1104.6,462L1098.85,468.4V471.8L1102.6499999999999,467.6Z" fill="#1e90ff"/>
<path d="M79.64999999999999,77H83.55V85.3L87.35,81.1V84.5L81.6,90.9L75.85,84.5V81.1L79.64999999999999,85.3Z" fill="#c8188c"/>
<path d="M199.05,208H202.95V216.3L206.75,212.1V215.5L201,221.9L195.25,215.5V212.1L199.05,216.3Z" fill="#c8188c"/>
<path d="M399.05,118H402.95V126.3L406.75,122.1V125.5L401,131.9L395.25,125.5V122.1L399.05,126.3Z" fill="#c8188c"/>
<path d="M427.05,141H430.95V149.3L434.75,145.1V148.5L429,154.9L423.25,148.5V145.1L427.05,149.3Z" fill="#c8188c"/>
<path d="M499.45,244H503.34999999999997V252.3L507.15,248.1V251.5L501.4,257.9L495.65,251.5V248.1L499.45,252.3Z" fill="#c8188c"/>
<path d="M575.05,232H578.95V240.3L582.75,236.1V239.5L577,245.9L571.25,239.5V236.1L575.05,240.3Z" fill="#c8188c"/>
<path d="M647.4499999999999,225H651.35V233.3L655.15,229.1V232.5L649.4,238.9L643.65,232.5V229.1L647.4499999999999,233.3Z" fill="#c8188c"/>
<path d="M751.65,265H755.5500000000001V273.3L759.35,269.1V272.5L753.6,278.9L747.85,272.5V269.1L751.65,273.3Z" fill="#c8188c"/>
<path d="M791.65,281H795.5500000000001V289.3L799.35,285.1V288.5L793.6,294.9L787.85,288.5V285.1L791.65,289.3Z" fill="#c8188c"/>
<path d="M847.65,298H851.5500000000001V306.3L855.35,302.1V305.5L849.6,311.9L843.85,305.5V302.1L847.65,306.3Z" fill="#c8188c"/>
<path d="M911.65,387H915.5500000000001V395.3L919.35,391.1V394.5L913.6,400.9L907.85,394.5V391.1L911.65,395.3Z" fill="#c8188c"/>
<path d="M996.05,394H999.95V402.3L1003.75,398.1V401.5L998,407.9L992.25,401.5V398.1L996.05,402.3Z" fill="#c8188c"/>
<path d="M1019.4499999999999,395H1023.35V403.3L1027.15,399.1V402.5L1021.4,408.9L1015.65,402.5V399.1L1019.4499999999999,403.3Z" fill="#c8188c"/>
<ellipse cx="431" cy="149" rx="18.6" ry="23.6" fill="none" stroke="#f40a0a" stroke-width="2.1" stroke-dasharray="6.8,3"/>
<ellipse cx="504" cy="248.5" rx="18.6" ry="23.6" fill="none" stroke="#f40a0a" stroke-width="2.1" stroke-dasharray="6.8,3"/>
<ellipse cx="576" cy="236" rx="18.6" ry="23.6" fill="none" stroke="#f40a0a" stroke-width="2.1" stroke-dasharray="6.8,3"/>
<ellipse cx="652" cy="229" rx="18.6" ry="23.6" fill="none" stroke="#f40a0a" stroke-width="2.1" stroke-dasharray="6.8,3"/>
<ellipse cx="751" cy="271.5" rx="18.6" ry="23.6" fill="none" stroke="#f40a0a" stroke-width="2.1" stroke-dasharray="6.8,3"/>
<ellipse cx="794" cy="286.5" rx="18.6" ry="23.6" fill="none" stroke="#f40a0a" stroke-width="2.1" stroke-dasharray="6.8,3"/>
<ellipse cx="851" cy="303" rx="18.6" ry="23.6" fill="none" stroke="#f40a0a" stroke-width="2.1" stroke-dasharray="6.8,3"/>
<ellipse cx="915" cy="393" rx="18.6" ry="23.6" fill="none" stroke="#f40a0a" stroke-width="2.1" stroke-dasharray="6.8,3"/>
<ellipse cx="990" cy="399" rx="18.6" ry="23.6" fill="none" stroke="#f40a0a" stroke-width="2.1" stroke-dasharray="6.8,3"/>
<ellipse cx="1028" cy="402" rx="18.6" ry="23.6" fill="none" stroke="#f40a0a" stroke-width="2.1" stroke-dasharray="6.8,3"/>
<line x1="657.5" y1="154.4" x2="545" y2="189.6" stroke="#ee0a0a" stroke-width="1.8"/>
<path d="M533.3,193.3L547,182L550,195.2Z" fill="#ee0a0a"/>
<text x="673.5" y="158.2" font-size="14.5" font-weight="bold" fill="#fff" stroke="#ffffff" stroke-width="3" stroke-linejoin="round" textLength="86" lengthAdjust="spacingAndGlyphs">100 SLWMA</text>
<text x="673.5" y="158.2" font-size="14.5" font-weight="bold" fill="#ff0000" stroke="#ff0000" stroke-width="0.5" textLength="86" lengthAdjust="spacingAndGlyphs">100 SLWMA</text>
</g>
<path d="M8,11h7l-3.5,4z" fill="#22364a"/>
<text x="20.3" y="16.6" font-size="10.3" fill="#22364a" textLength="55.5" lengthAdjust="spacingAndGlyphs">USDCHF,M1</text>
<rect x="84.3" y="7" width="155" height="16" fill="#962222"/>
<rect x="241" y="7" width="132" height="16" fill="#0d6fd0"/>
<rect x="375" y="7" width="149" height="16" fill="#0d6fd0"/>
<text x="92.4" y="20" font-size="13.8" font-weight="bold" fill="#fff" stroke="#fff" stroke-width="0.55" textLength="91" lengthAdjust="spacingAndGlyphs">HONG KONG</text>
<text x="190" y="20" font-size="13.8" font-weight="bold" fill="#fff" stroke="#fff" stroke-width="0.55" textLength="40" lengthAdjust="spacingAndGlyphs">20:52</text>
<text x="251.8" y="20" font-size="13.8" font-weight="bold" fill="#fff" stroke="#fff" stroke-width="0.55" textLength="61.6" lengthAdjust="spacingAndGlyphs">LONDON</text>
<text x="325" y="20" font-size="13.8" font-weight="bold" fill="#fff" stroke="#fff" stroke-width="0.55" textLength="39" lengthAdjust="spacingAndGlyphs">13:52</text>
<text x="386.5" y="20" font-size="13.8" font-weight="bold" fill="#fff" stroke="#fff" stroke-width="0.55" textLength="77.5" lengthAdjust="spacingAndGlyphs">NEW YORK</text>
<text x="473.3" y="20" font-size="13.8" font-weight="bold" fill="#fff" stroke="#fff" stroke-width="0.55" textLength="39.5" lengthAdjust="spacingAndGlyphs">08:52</text>
<rect x="26" y="21" width="38" height="18" fill="#3355cc"/>
<text x="29.6" y="33.9" font-size="11.3" fill="#fff" textLength="27.7" lengthAdjust="spacingAndGlyphs">Show</text>
<line x1="26" y1="34.5" x2="64" y2="34.5" stroke="#1b2c74" stroke-width="1" stroke-dasharray="3.2,2.8" stroke-dashoffset="3"/>
<rect x="6.5" y="473.5" width="219.5" height="79" fill="#0c0c0c" stroke="#2e2358" stroke-width="1"/>
<text x="21" y="495" font-size="11" font-weight="bold" fill="#9c9c9c" textLength="42" lengthAdjust="spacingAndGlyphs">USDCHF</text>
<text x="174.4" y="495" font-size="11" font-weight="bold" fill="#8a8a8a" textLength="23.6" lengthAdjust="spacingAndGlyphs">Long</text>
<circle cx="207.4" cy="490.6" r="4.6" fill="#0ba30b"/>
<rect x="19.5" y="504.5" width="61.5" height="20" fill="#05648a" stroke="#1b7ba2" stroke-width="1"/>
<rect x="84.5" y="504.5" width="128" height="20" fill="#c44100" stroke="#d25312" stroke-width="1"/>
<text x="24" y="518" font-size="11" font-weight="bold" fill="#fff" textLength="20.4" lengthAdjust="spacingAndGlyphs">33%</text>
<text x="187" y="518" font-size="11" font-weight="bold" fill="#fff" textLength="20.4" lengthAdjust="spacingAndGlyphs">67%</text>
<text x="22" y="538" font-size="10" fill="#8c8c8c" textLength="16" lengthAdjust="spacingAndGlyphs">Buy</text>
<text x="195" y="538" font-size="10" fill="#8c8c8c" textLength="15" lengthAdjust="spacingAndGlyphs">Sell</text>
<text x="74" y="543.4" font-size="10.4" font-weight="bold" fill="#9a9a9a" textLength="83" lengthAdjust="spacingAndGlyphs">2022.08.22 14:51</text>
<line x1="5" y1="501.5" x2="227" y2="501.5" stroke="#2a4259" stroke-width="1" stroke-dasharray="3.2,2.8"/>
<line x1="5" y1="535.5" x2="227" y2="535.5" stroke="#2a4259" stroke-width="1" stroke-dasharray="3.2,2.8"/>
<clipPath id="ci"><rect x="5" y="556" width="1164" height="145"/></clipPath>
<line x1="3" y1="553.5" x2="1169" y2="553.5" stroke="#2c455c" stroke-width="1"/><line x1="3" y1="555.5" x2="1169" y2="555.5" stroke="#2c455c" stroke-width="1"/>
<line x1="5" y1="563.5" x2="1169" y2="563.5" stroke="#3f607e" stroke-width="1" stroke-dasharray="3.2,2.8"/>
<line x1="5" y1="600.5" x2="1169" y2="600.5" stroke="#3f607e" stroke-width="1" stroke-dasharray="3.2,2.8"/>
<line x1="5" y1="638.5" x2="1169" y2="638.5" stroke="#3f607e" stroke-width="1" stroke-dasharray="3.2,2.8"/>
<clipPath id="cl"><rect x="0" y="556.5" width="300" height="20"/></clipPath><text x="7.6" y="561.5" font-size="9.5" fill="#2a3e52" textLength="48" lengthAdjust="spacingAndGlyphs" clip-path="url(#cl)">Overbought</text>
<text x="9" y="568.6" font-size="9.5" fill="#2a3e52" textLength="195" lengthAdjust="spacingAndGlyphs">M1 WaddahAttarExplosion of SLWMA (9,26,20)</text>
<text x="7.6" y="598" font-size="9.5" fill="#2a3e52" textLength="26.5" lengthAdjust="spacingAndGlyphs">Middle</text>
<text x="7.6" y="636" font-size="9.5" fill="#2a3e52" textLength="37" lengthAdjust="spacingAndGlyphs">Oversold</text>
<g clip-path="url(#ci)">
<rect x="5" y="637.0" width="2" height="22.4" fill="#ca178a"/>
<rect x="8" y="650.0" width="3" height="9.4" fill="#ca178a"/>
<rect x="12" y="649.0" width="3" height="10.4" fill="#2194fd"/>
<rect x="16" y="635.0" width="3" height="24.4" fill="#2194fd"/>
<rect x="20" y="615.0" width="3" height="44.4" fill="#2194fd"/>
<rect x="24" y="606.0" width="3" height="53.4" fill="#2194fd"/>
<rect x="28" y="618.0" width="3" height="41.4" fill="#2194fd"/>
<rect x="32" y="646.0" width="3" height="13.4" fill="#2194fd"/>
<rect x="36" y="654.0" width="3" height="5.4" fill="#2194fd"/>
<rect x="40" y="655.0" width="3" height="4.4" fill="#ca178a"/>
<rect x="44" y="654.0" width="3" height="5.4" fill="#ca178a"/>
<rect x="48" y="658.6" width="3" height="0.8" fill="#2194fd"/>
<rect x="52" y="654.0" width="3" height="5.4" fill="#2194fd"/>
<rect x="56" y="653.0" width="3" height="6.4" fill="#2194fd"/>
<rect x="60" y="653.0" width="3" height="6.4" fill="#ca178a"/>
<rect x="64" y="641.0" width="3" height="18.4" fill="#ca178a"/>
<rect x="68" y="629.0" width="3" height="30.4" fill="#ca178a"/>
<rect x="72" y="620.0" width="3" height="39.4" fill="#ca178a"/>
<rect x="76" y="620.0" width="3" height="39.4" fill="#ca178a"/>
<rect x="80" y="609.0" width="3" height="50.4" fill="#ca178a"/>
<rect x="84" y="596.0" width="3" height="63.4" fill="#ca178a"/>
<rect x="88" y="585.0" width="3" height="74.4" fill="#ca178a"/>
<rect x="92" y="591.0" width="3" height="68.4" fill="#ca178a"/>
<rect x="96" y="602.0" width="3" height="57.4" fill="#ca178a"/>
<rect x="100" y="590.0" width="3" height="69.4" fill="#ca178a"/>
<rect x="104" y="562.0" width="3" height="97.4" fill="#ca178a"/>
<rect x="108" y="565.0" width="3" height="94.4" fill="#ca178a"/>
<rect x="112" y="581.0" width="3" height="78.4" fill="#ca178a"/>
<rect x="116" y="619.0" width="3" height="40.4" fill="#ca178a"/>
<rect x="120" y="653.0" width="3" height="6.4" fill="#ca178a"/>
<rect x="124" y="630.0" width="3" height="29.4" fill="#2194fd"/>
<rect x="128" y="608.0" width="3" height="51.4" fill="#2194fd"/>
<rect x="132" y="595.0" width="3" height="64.4" fill="#2194fd"/>
<rect x="136" y="586.0" width="3" height="73.4" fill="#2194fd"/>
<rect x="140" y="581.0" width="3" height="78.4" fill="#2194fd"/>
<rect x="144" y="578.0" width="3" height="81.4" fill="#2194fd"/>
<rect x="148" y="562.0" width="3" height="97.4" fill="#2194fd"/>
<rect x="152" y="565.0" width="3" height="94.4" fill="#2194fd"/>
<rect x="156" y="570.0" width="3" height="89.4" fill="#2194fd"/>
<rect x="160" y="588.0" width="3" height="71.4" fill="#2194fd"/>
<rect x="164" y="612.0" width="3" height="47.4" fill="#2194fd"/>
<rect x="168" y="628.0" width="3" height="31.4" fill="#2194fd"/>
<rect x="172" y="637.0" width="3" height="22.4" fill="#2194fd"/>
<rect x="176" y="627.0" width="3" height="32.4" fill="#2194fd"/>
<rect x="180" y="621.0" width="3" height="38.4" fill="#2194fd"/>
<rect x="184" y="635.0" width="3" height="24.4" fill="#2194fd"/>
<rect x="188" y="645.0" width="3" height="14.4" fill="#2194fd"/>
<rect x="192" y="658.6" width="3" height="0.8" fill="#ca178a"/>
<rect x="196" y="642.0" width="3" height="17.4" fill="#ca178a"/>
<rect x="200" y="627.0" width="3" height="32.4" fill="#ca178a"/>
<rect x="204" y="621.0" width="3" height="38.4" fill="#ca178a"/>
<rect x="208" y="619.0" width="3" height="40.4" fill="#ca178a"/>
<rect x="212" y="620.0" width="3" height="39.4" fill="#ca178a"/>
<rect x="216" y="634.0" width="3" height="25.4" fill="#ca178a"/>
<rect x="220" y="643.0" width="3" height="16.4" fill="#ca178a"/>
<rect x="224" y="657.0" width="3" height="2.4" fill="#ca178a"/>
<rect x="228" y="658.6" width="3" height="0.8" fill="#ca178a"/>
<rect x="232" y="653.0" width="3" height="6.4" fill="#2194fd"/>
<rect x="236" y="652.0" width="3" height="7.4" fill="#2194fd"/>
<rect x="240" y="645.0" width="3" height="14.4" fill="#2194fd"/>
<rect x="244" y="639.0" width="3" height="20.4" fill="#2194fd"/>
<rect x="248" y="635.0" width="3" height="24.4" fill="#2194fd"/>
<rect x="252" y="637.0" width="3" height="22.4" fill="#2194fd"/>
<rect x="256" y="626.0" width="3" height="33.4" fill="#2194fd"/>
<rect x="260" y="627.0" width="3" height="32.4" fill="#2194fd"/>
<rect x="264" y="627.0" width="3" height="32.4" fill="#2194fd"/>
<rect x="268" y="645.0" width="3" height="14.4" fill="#2194fd"/>
<rect x="272" y="646.0" width="3" height="13.4" fill="#2194fd"/>
<rect x="276" y="647.0" width="3" height="12.4" fill="#2194fd"/>
<rect x="280" y="648.0" width="3" height="11.4" fill="#2194fd"/>
<rect x="284" y="657.0" width="3" height="2.4" fill="#ca178a"/>
<rect x="288" y="638.0" width="3" height="21.4" fill="#ca178a"/>
<rect x="292" y="641.0" width="3" height="18.4" fill="#ca178a"/>
<rect x="296" y="639.0" width="3" height="20.4" fill="#ca178a"/>
<rect x="300" y="638.0" width="3" height="21.4" fill="#ca178a"/>
<rect x="304" y="630.0" width="3" height="29.4" fill="#ca178a"/>
<rect x="308" y="633.0" width="3" height="26.4" fill="#ca178a"/>
<rect x="312" y="630.0" width="3" height="29.4" fill="#ca178a"/>
<rect x="316" y="624.0" width="3" height="35.4" fill="#ca178a"/>
<rect x="320" y="623.0" width="3" height="36.4" fill="#ca178a"/>
<rect x="324" y="640.0" width="3" height="19.4" fill="#ca178a"/>
<rect x="328" y="644.0" width="3" height="15.4" fill="#ca178a"/>
<rect x="332" y="652.0" width="3" height="7.4" fill="#ca178a"/>
<rect x="336" y="654.0" width="3" height="5.4" fill="#ca178a"/>
<rect x="340" y="657.0" width="3" height="2.4" fill="#ca178a"/>
<rect x="344" y="656.0" width="3" height="3.4" fill="#2194fd"/>
<rect x="348" y="654.0" width="3" height="5.4" fill="#2194fd"/>
<rect x="352" y="656.0" width="3" height="3.4" fill="#2194fd"/>
<rect x="356" y="658.0" width="3" height="1.4" fill="#ca178a"/>
<rect x="360" y="648.0" width="3" height="11.4" fill="#ca178a"/>
<rect x="364" y="654.0" width="3" height="5.4" fill="#ca178a"/>
<rect x="368" y="656.0" width="3" height="3.4" fill="#ca178a"/>
<rect x="372" y="657.0" width="3" height="2.4" fill="#ca178a"/>
<rect x="376" y="654.0" width="3" height="5.4" fill="#2194fd"/>
<rect x="380" y="658.6" width="3" height="0.8" fill="#ca178a"/>
<rect x="384" y="658.6" width="3" height="0.8" fill="#2194fd"/>
<rect x="388" y="655.0" width="3" height="4.4" fill="#ca178a"/>
<rect x="392" y="652.0" width="3" height="7.4" fill="#ca178a"/>
<rect x="396" y="641.0" width="3" height="18.4" fill="#ca178a"/>
<rect x="400" y="628.0" width="3" height="31.4" fill="#ca178a"/>
<rect x="404" y="626.0" width="3" height="33.4" fill="#ca178a"/>
<rect x="408" y="636.0" width="3" height="23.4" fill="#ca178a"/>
<rect x="412" y="651.0" width="3" height="8.4" fill="#ca178a"/>
<rect x="416" y="654.0" width="3" height="5.4" fill="#2194fd"/>
<rect x="420" y="654.0" width="3" height="5.4" fill="#2194fd"/>
<rect x="424" y="653.0" width="3" height="6.4" fill="#2194fd"/>
<rect x="428" y="651.0" width="3" height="8.4" fill="#ca178a"/>
<rect x="432" y="645.0" width="3" height="14.4" fill="#ca178a"/>
<rect x="436" y="640.0" width="3" height="19.4" fill="#ca178a"/>
<rect x="440" y="633.0" width="3" height="26.4" fill="#ca178a"/>
<rect x="444" y="627.0" width="3" height="32.4" fill="#ca178a"/>
<rect x="448" y="634.0" width="3" height="25.4" fill="#ca178a"/>
<rect x="452" y="639.0" width="3" height="20.4" fill="#ca178a"/>
<rect x="456" y="643.0" width="3" height="16.4" fill="#ca178a"/>
<rect x="460" y="633.0" width="3" height="26.4" fill="#ca178a"/>
<rect x="464" y="640.0" width="3" height="19.4" fill="#ca178a"/>
<rect x="468" y="658.6" width="3" height="0.8" fill="#2194fd"/>
<rect x="472" y="641.0" width="3" height="18.4" fill="#2194fd"/>
<rect x="476" y="619.0" width="3" height="40.4" fill="#2194fd"/>
<rect x="480" y="605.0" width="3" height="54.4" fill="#2194fd"/>
<rect x="484" y="608.0" width="3" height="51.4" fill="#2194fd"/>
<rect x="488" y="614.0" width="3" height="45.4" fill="#2194fd"/>
<rect x="492" y="620.0" width="3" height="39.4" fill="#2194fd"/>
<rect x="496" y="629.0" width="3" height="30.4" fill="#2194fd"/>
<rect x="500" y="642.0" width="3" height="17.4" fill="#2194fd"/>
<rect x="504" y="632.0" width="3" height="27.4" fill="#ca178a"/>
<rect x="508" y="626.0" width="3" height="33.4" fill="#ca178a"/>
<rect x="512" y="621.0" width="3" height="38.4" fill="#ca178a"/>
<rect x="516" y="634.0" width="3" height="25.4" fill="#ca178a"/>
<rect x="520" y="657.0" width="3" height="2.4" fill="#ca178a"/>
<rect x="524" y="655.0" width="3" height="4.4" fill="#2194fd"/>
<rect x="528" y="643.0" width="3" height="16.4" fill="#2194fd"/>
<rect x="532" y="639.0" width="3" height="20.4" fill="#2194fd"/>
<rect x="536" y="631.0" width="3" height="28.4" fill="#2194fd"/>
<rect x="540" y="625.0" width="3" height="34.4" fill="#2194fd"/>
<rect x="544" y="623.0" width="3" height="36.4" fill="#2194fd"/>
<rect x="548" y="616.0" width="3" height="43.4" fill="#2194fd"/>
<rect x="552" y="627.0" width="3" height="32.4" fill="#2194fd"/>
<rect x="556" y="630.0" width="3" height="29.4" fill="#2194fd"/>
<rect x="560" y="645.0" width="3" height="14.4" fill="#2194fd"/>
<rect x="564" y="638.0" width="3" height="21.4" fill="#2194fd"/>
<rect x="568" y="655.0" width="3" height="4.4" fill="#2194fd"/>
<rect x="572" y="655.0" width="3" height="4.4" fill="#ca178a"/>
<rect x="576" y="640.0" width="3" height="19.4" fill="#ca178a"/>
<rect x="580" y="627.0" width="3" height="32.4" fill="#ca178a"/>
<rect x="584" y="628.0" width="3" height="31.4" fill="#ca178a"/>
<rect x="588" y="640.0" width="3" height="19.4" fill="#ca178a"/>
<rect x="592" y="647.0" width="3" height="12.4" fill="#ca178a"/>
<rect x="596" y="654.0" width="3" height="5.4" fill="#ca178a"/>
<rect x="600" y="656.0" width="3" height="3.4" fill="#2194fd"/>
<rect x="604" y="657.0" width="3" height="2.4" fill="#2194fd"/>
<rect x="608" y="658.0" width="3" height="1.4" fill="#2194fd"/>
<rect x="612" y="656.0" width="3" height="3.4" fill="#ca178a"/>
<rect x="616" y="657.0" width="3" height="2.4" fill="#ca178a"/>
<rect x="620" y="658.6" width="3" height="0.8" fill="#ca178a"/>
<rect x="624" y="658.0" width="3" height="1.4" fill="#ca178a"/>
<rect x="628" y="658.6" width="3" height="0.8" fill="#2194fd"/>
<rect x="632" y="651.0" width="3" height="8.4" fill="#2194fd"/>
<rect x="636" y="642.0" width="3" height="17.4" fill="#2194fd"/>
<rect x="640" y="634.0" width="3" height="25.4" fill="#2194fd"/>
<rect x="644" y="644.0" width="3" height="15.4" fill="#2194fd"/>
<rect x="648" y="637.0" width="3" height="22.4" fill="#ca178a"/>
<rect x="652" y="614.0" width="3" height="45.4" fill="#ca178a"/>
<rect x="656" y="618.0" width="3" height="41.4" fill="#ca178a"/>
<rect x="660" y="630.0" width="3" height="29.4" fill="#ca178a"/>
<rect x="664" y="639.0" width="3" height="20.4" fill="#ca178a"/>
<rect x="668" y="653.0" width="3" height="6.4" fill="#ca178a"/>
<rect x="672" y="658.6" width="3" height="0.8" fill="#ca178a"/>
<rect x="676" y="655.0" width="3" height="4.4" fill="#2194fd"/>
<rect x="680" y="654.0" width="3" height="5.4" fill="#2194fd"/>
<rect x="684" y="647.0" width="3" height="12.4" fill="#2194fd"/>
<rect x="688" y="645.0" width="3" height="14.4" fill="#2194fd"/>
<rect x="692" y="652.0" width="3" height="7.4" fill="#2194fd"/>
<rect x="696" y="645.0" width="3" height="14.4" fill="#ca178a"/>
<rect x="700" y="654.0" width="3" height="5.4" fill="#ca178a"/>
<rect x="704" y="650.0" width="3" height="9.4" fill="#ca178a"/>
<rect x="708" y="657.0" width="3" height="2.4" fill="#2194fd"/>
<rect x="712" y="653.0" width="3" height="6.4" fill="#2194fd"/>
<rect x="716" y="651.0" width="3" height="8.4" fill="#2194fd"/>
<rect x="720" y="652.0" width="3" height="7.4" fill="#2194fd"/>
<rect x="724" y="644.0" width="3" height="15.4" fill="#2194fd"/>
<rect x="728" y="642.0" width="3" height="17.4" fill="#2194fd"/>
<rect x="732" y="650.0" width="3" height="9.4" fill="#2194fd"/>
<rect x="736" y="658.0" width="3" height="1.4" fill="#2194fd"/>
<rect x="740" y="656.0" width="3" height="3.4" fill="#2194fd"/>
<rect x="744" y="651.0" width="3" height="8.4" fill="#2194fd"/>
<rect x="748" y="648.0" width="3" height="11.4" fill="#2194fd"/>
<rect x="752" y="658.0" width="3" height="1.4" fill="#2194fd"/>
<rect x="756" y="654.0" width="3" height="5.4" fill="#ca178a"/>
<rect x="760" y="650.0" width="3" height="9.4" fill="#ca178a"/>
<rect x="764" y="648.0" width="3" height="11.4" fill="#ca178a"/>
<rect x="768" y="653.0" width="3" height="6.4" fill="#ca178a"/>
<rect x="772" y="658.0" width="3" height="1.4" fill="#ca178a"/>
<rect x="776" y="656.0" width="3" height="3.4" fill="#2194fd"/>
<rect x="780" y="658.6" width="3" height="0.8" fill="#2194fd"/>
<rect x="784" y="658.0" width="3" height="1.4" fill="#2194fd"/>
<rect x="788" y="654.0" width="3" height="5.4" fill="#2194fd"/>
<rect x="792" y="658.6" width="3" height="0.8" fill="#ca178a"/>
<rect x="796" y="643.0" width="3" height="16.4" fill="#ca178a"/>
<rect x="800" y="643.0" width="3" height="16.4" fill="#ca178a"/>
<rect x="804" y="656.0" width="3" height="3.4" fill="#ca178a"/>
<rect x="808" y="658.0" width="3" height="1.4" fill="#2194fd"/>
<rect x="812" y="655.0" width="3" height="4.4" fill="#2194fd"/>
<rect x="816" y="655.0" width="3" height="4.4" fill="#2194fd"/>
<rect x="820" y="653.0" width="3" height="6.4" fill="#2194fd"/>
<rect x="824" y="656.0" width="3" height="3.4" fill="#2194fd"/>
<rect x="828" y="658.0" width="3" height="1.4" fill="#2194fd"/>
<rect x="832" y="658.6" width="3" height="0.8" fill="#2194fd"/>
<rect x="836" y="655.0" width="3" height="4.4" fill="#2194fd"/>
<rect x="840" y="651.0" width="3" height="8.4" fill="#2194fd"/>
<rect x="844" y="655.0" width="3" height="4.4" fill="#2194fd"/>
<rect x="848" y="652.0" width="3" height="7.4" fill="#ca178a"/>
<rect x="852" y="636.0" width="3" height="23.4" fill="#ca178a"/>
<rect x="856" y="625.0" width="3" height="34.4" fill="#ca178a"/>
<rect x="860" y="629.0" width="3" height="30.4" fill="#ca178a"/>
<rect x="864" y="640.0" width="3" height="19.4" fill="#ca178a"/>
<rect x="868" y="644.0" width="3" height="15.4" fill="#ca178a"/>
<rect x="872" y="647.0" width="3" height="12.4" fill="#ca178a"/>
<rect x="876" y="651.0" width="3" height="8.4" fill="#ca178a"/>
<rect x="880" y="657.0" width="3" height="2.4" fill="#ca178a"/>
<rect x="884" y="655.0" width="3" height="4.4" fill="#2194fd"/>
<rect x="888" y="647.0" width="3" height="12.4" fill="#ca178a"/>
<rect x="892" y="646.0" width="3" height="13.4" fill="#ca178a"/>
<rect x="896" y="643.0" width="3" height="16.4" fill="#ca178a"/>
<rect x="900" y="657.0" width="3" height="2.4" fill="#2194fd"/>
<rect x="904" y="638.0" width="3" height="21.4" fill="#2194fd"/>
<rect x="908" y="635.0" width="3" height="24.4" fill="#2194fd"/>
<rect x="912" y="651.0" width="3" height="8.4" fill="#2194fd"/>
<rect x="916" y="658.6" width="3" height="0.8" fill="#2194fd"/>
<rect x="920" y="650.0" width="3" height="9.4" fill="#ca178a"/>
<rect x="924" y="646.0" width="3" height="13.4" fill="#ca178a"/>
<rect x="928" y="657.0" width="3" height="2.4" fill="#ca178a"/>
<rect x="932" y="654.0" width="3" height="5.4" fill="#ca178a"/>
<rect x="936" y="644.0" width="3" height="15.4" fill="#ca178a"/>
<rect x="940" y="643.0" width="3" height="16.4" fill="#ca178a"/>
<rect x="944" y="653.0" width="3" height="6.4" fill="#ca178a"/>
<rect x="948" y="647.0" width="3" height="12.4" fill="#2194fd"/>
<rect x="952" y="639.0" width="3" height="20.4" fill="#2194fd"/>
<rect x="956" y="634.0" width="3" height="25.4" fill="#2194fd"/>
<rect x="960" y="627.0" width="3" height="32.4" fill="#2194fd"/>
<rect x="964" y="617.0" width="3" height="42.4" fill="#2194fd"/>
<rect x="968" y="610.0" width="3" height="49.4" fill="#2194fd"/>
<rect x="972" y="613.0" width="3" height="46.4" fill="#2194fd"/>
<rect x="976" y="630.0" width="3" height="29.4" fill="#2194fd"/>
<rect x="980" y="639.0" width="3" height="20.4" fill="#2194fd"/>
<rect x="984" y="646.0" width="3" height="13.4" fill="#2194fd"/>
<rect x="988" y="651.0" width="3" height="8.4" fill="#2194fd"/>
<rect x="992" y="656.0" width="3" height="3.4" fill="#2194fd"/>
<rect x="996" y="642.0" width="3" height="17.4" fill="#ca178a"/>
<rect x="1000" y="645.0" width="3" height="14.4" fill="#ca178a"/>
<rect x="1004" y="656.0" width="3" height="3.4" fill="#ca178a"/>
<rect x="1008" y="642.0" width="3" height="17.4" fill="#2194fd"/>
<rect x="1012" y="642.0" width="3" height="17.4" fill="#2194fd"/>
<rect x="1016" y="658.6" width="3" height="0.8" fill="#2194fd"/>
<rect x="1020" y="642.0" width="3" height="17.4" fill="#ca178a"/>
<rect x="1024" y="628.0" width="3" height="31.4" fill="#ca178a"/>
<rect x="1028" y="623.0" width="3" height="36.4" fill="#ca178a"/>
<rect x="1032" y="629.0" width="3" height="30.4" fill="#ca178a"/>
<rect x="1036" y="628.0" width="3" height="31.4" fill="#ca178a"/>
<rect x="1040" y="635.0" width="3" height="24.4" fill="#ca178a"/>
<rect x="1044" y="636.0" width="3" height="23.4" fill="#ca178a"/>
<rect x="1048" y="636.0" width="3" height="23.4" fill="#ca178a"/>
<rect x="1052" y="643.0" width="3" height="16.4" fill="#ca178a"/>
<rect x="1056" y="656.0" width="3" height="3.4" fill="#ca178a"/>
<rect x="1060" y="658.6" width="3" height="0.8" fill="#ca178a"/>
<rect x="1064" y="654.0" width="3" height="5.4" fill="#2194fd"/>
<rect x="1068" y="653.0" width="3" height="6.4" fill="#2194fd"/>
<rect x="1072" y="650.0" width="3" height="9.4" fill="#2194fd"/>
<rect x="1076" y="642.0" width="3" height="17.4" fill="#2194fd"/>
<rect x="1080" y="631.0" width="3" height="28.4" fill="#2194fd"/>
<rect x="1084" y="632.0" width="3" height="27.4" fill="#2194fd"/>
<rect x="1088" y="626.0" width="3" height="33.4" fill="#2194fd"/>
<rect x="1092" y="630.0" width="3" height="29.4" fill="#2194fd"/>
<rect x="1096" y="625.0" width="3" height="34.4" fill="#2194fd"/>
<rect x="1100" y="629.0" width="3" height="30.4" fill="#2194fd"/>
<rect x="1104" y="617.0" width="3" height="42.4" fill="#2194fd"/>
<rect x="1108" y="619.0" width="3" height="40.4" fill="#2194fd"/>
<rect x="1112" y="621.0" width="3" height="38.4" fill="#2194fd"/>
<rect x="1116" y="634.0" width="3" height="25.4" fill="#2194fd"/>
<rect x="1120" y="643.0" width="3" height="16.4" fill="#2194fd"/>
<rect x="1124" y="652.0" width="3" height="7.4" fill="#2194fd"/>
<rect x="1128" y="648.0" width="3" height="11.4" fill="#2194fd"/>
<rect x="1132" y="641.0" width="3" height="18.4" fill="#2194fd"/>
<rect x="1136" y="651.0" width="3" height="8.4" fill="#2194fd"/>
<rect x="1140" y="658.6" width="3" height="0.8" fill="#2194fd"/>
<rect x="1144" y="647.0" width="3" height="12.4" fill="#ca178a"/>
<rect x="1148" y="653.0" width="3" height="6.4" fill="#ca178a"/>
<rect x="1152" y="648.0" width="3" height="11.4" fill="#ca178a"/>
<rect x="3" y="660" width="1166" height="1.6" fill="#23394d"/><rect x="3" y="662" width="1166" height="1.5" fill="#23394d"/>
<rect x="3" y="687" width="1166" height="1.7" fill="#23394d"/><rect x="3" y="689.1" width="1166" height="1.5" fill="#23394d"/>
<rect x="5" y="665" width="2" height="20" fill="#ca178a"/>
<rect x="8" y="665" width="3" height="20" fill="#ca178a"/>
<rect x="12" y="665" width="3" height="20" fill="#2194fd"/>
<rect x="16" y="665" width="3" height="20" fill="#2194fd"/>
<rect x="20" y="665" width="3" height="20" fill="#2194fd"/>
<rect x="24" y="665" width="3" height="20" fill="#2194fd"/>
<rect x="28" y="665" width="3" height="20" fill="#2194fd"/>
<rect x="32" y="665" width="3" height="20" fill="#2194fd"/>
<rect x="36" y="665" width="3" height="20" fill="#2194fd"/>
<rect x="40" y="665" width="3" height="20" fill="#ca178a"/>
<rect x="44" y="665" width="3" height="20" fill="#ca178a"/>
<rect x="48" y="665" width="3" height="20" fill="#2194fd"/>
<rect x="52" y="665" width="3" height="20" fill="#2194fd"/>
<rect x="56" y="665" width="3" height="20" fill="#2194fd"/>
<rect x="60" y="665" width="3" height="20" fill="#2194fd"/>
<rect x="64" y="665" width="3" height="20" fill="#ca178a"/>
<rect x="68" y="665" width="3" height="20" fill="#ca178a"/>
<rect x="72" y="665" width="3" height="20" fill="#ca178a"/>
<rect x="76" y="665" width="3" height="20" fill="#ca178a"/>
<rect x="80" y="665" width="3" height="20" fill="#ca178a"/>
<rect x="84" y="665" width="3" height="20" fill="#ca178a"/>
<rect x="88" y="665" width="3" height="20" fill="#ca178a"/>
<rect x="92" y="665" width="3" height="20" fill="#ca178a"/>
<rect x="96" y="665" width="3" height="20" fill="#ca178a"/>
<rect x="100" y="665" width="3" height="20" fill="#ca178a"/>
<rect x="104" y="665" width="3" height="20" fill="#ca178a"/>
<rect x="108" y="665" width="3" height="20" fill="#ca178a"/>
<rect x="112" y="665" width="3" height="20" fill="#ca178a"/>
<rect x="116" y="665" width="3" height="20" fill="#ca178a"/>
<rect x="120" y="665" width="3" height="20" fill="#ca178a"/>
<rect x="124" y="665" width="3" height="20" fill="#ca178a"/>
<rect x="128" y="665" width="3" height="20" fill="#2194fd"/>
<rect x="132" y="665" width="3" height="20" fill="#2194fd"/>
<rect x="136" y="665" width="3" height="20" fill="#2194fd"/>
<rect x="140" y="665" width="3" height="20" fill="#2194fd"/>
<rect x="144" y="665" width="3" height="20" fill="#2194fd"/>
<rect x="148" y="665" width="3" height="20" fill="#2194fd"/>
<rect x="152" y="665" width="3" height="20" fill="#2194fd"/>
<rect x="156" y="665" width="3" height="20" fill="#2194fd"/>
<rect x="160" y="665" width="3" height="20" fill="#2194fd"/>
<rect x="164" y="665" width="3" height="20" fill="#2194fd"/>
<rect x="168" y="665" width="3" height="20" fill="#2194fd"/>
<rect x="172" y="665" width="3" height="20" fill="#2194fd"/>
<rect x="176" y="665" width="3" height="20" fill="#2194fd"/>
<rect x="180" y="665" width="3" height="20" fill="#2194fd"/>
<rect x="184" y="665" width="3" height="20" fill="#2194fd"/>
<rect x="188" y="665" width="3" height="20" fill="#2194fd"/>
<rect x="192" y="665" width="3" height="20" fill="#2194fd"/>
<rect x="196" y="665" width="3" height="20" fill="#2194fd"/>
<rect x="200" y="665" width="3" height="20" fill="#ca178a"/>
<rect x="204" y="665" width="3" height="20" fill="#ca178a"/>
<rect x="208" y="665" width="3" height="20" fill="#ca178a"/>
<rect x="212" y="665" width="3" height="20" fill="#ca178a"/>
<rect x="216" y="665" width="3" height="20" fill="#ca178a"/>
<rect x="220" y="665" width="3" height="20" fill="#ca178a"/>
<rect x="224" y="665" width="3" height="20" fill="#2194fd"/>
<rect x="228" y="665" width="3" height="20" fill="#2194fd"/>
<rect x="232" y="665" width="3" height="20" fill="#2194fd"/>
<rect x="236" y="665" width="3" height="20" fill="#2194fd"/>
<rect x="240" y="665" width="3" height="20" fill="#2194fd"/>
<rect x="244" y="665" width="3" height="20" fill="#2194fd"/>
<rect x="248" y="665" width="3" height="20" fill="#2194fd"/>
<rect x="252" y="665" width="3" height="20" fill="#2194fd"/>
<rect x="256" y="665" width="3" height="20" fill="#2194fd"/>
<rect x="260" y="665" width="3" height="20" fill="#2194fd"/>
<rect x="264" y="665" width="3" height="20" fill="#2194fd"/>
<rect x="268" y="665" width="3" height="20" fill="#2194fd"/>
<rect x="272" y="665" width="3" height="20" fill="#2194fd"/>
<rect x="276" y="665" width="3" height="20" fill="#2194fd"/>
<rect x="280" y="665" width="3" height="20" fill="#2194fd"/>
<rect x="284" y="665" width="3" height="20" fill="#2194fd"/>
<rect x="288" y="665" width="3" height="20" fill="#ca178a"/>
<rect x="292" y="665" width="3" height="20" fill="#ca178a"/>
<rect x="296" y="665" width="3" height="20" fill="#ca178a"/>
<rect x="300" y="665" width="3" height="20" fill="#ca178a"/>
<rect x="304" y="665" width="3" height="20" fill="#ca178a"/>
<rect x="308" y="665" width="3" height="20" fill="#ca178a"/>
<rect x="312" y="665" width="3" height="20" fill="#ca178a"/>
<rect x="316" y="665" width="3" height="20" fill="#ca178a"/>
<rect x="320" y="665" width="3" height="20" fill="#ca178a"/>
<rect x="324" y="665" width="3" height="20" fill="#ca178a"/>
<rect x="328" y="665" width="3" height="20" fill="#ca178a"/>
<rect x="332" y="665" width="3" height="20" fill="#ca178a"/>
<rect x="336" y="665" width="3" height="20" fill="#ca178a"/>
<rect x="340" y="665" width="3" height="20" fill="#ca178a"/>
<rect x="344" y="665" width="3" height="20" fill="#ca178a"/>
<rect x="348" y="665" width="3" height="20" fill="#ca178a"/>
<rect x="352" y="665" width="3" height="20" fill="#ca178a"/>
<rect x="356" y="665" width="3" height="20" fill="#ca178a"/>
<rect x="360" y="665" width="3" height="20" fill="#ca178a"/>
<rect x="364" y="665" width="3" height="20" fill="#ca178a"/>
<rect x="368" y="665" width="3" height="20" fill="#ca178a"/>
<rect x="372" y="665" width="3" height="20" fill="#ca178a"/>
<rect x="376" y="665" width="3" height="20" fill="#ca178a"/>
<rect x="380" y="665" width="3" height="20" fill="#ca178a"/>
<rect x="384" y="665" width="3" height="20" fill="#ca178a"/>
<rect x="388" y="665" width="3" height="20" fill="#ca178a"/>
<rect x="392" y="665" width="3" height="20" fill="#ca178a"/>
<rect x="396" y="665" width="3" height="20" fill="#ca178a"/>
<rect x="400" y="665" width="3" height="20" fill="#ca178a"/>
<rect x="404" y="665" width="3" height="20" fill="#ca178a"/>
<rect x="408" y="665" width="3" height="20" fill="#ca178a"/>
<rect x="412" y="665" width="3" height="20" fill="#ca178a"/>
<rect x="416" y="665" width="3" height="20" fill="#ca178a"/>
<rect x="420" y="665" width="3" height="20" fill="#ca178a"/>
<rect x="424" y="665" width="3" height="20" fill="#ca178a"/>
<rect x="428" y="665" width="3" height="20" fill="#ca178a"/>
<rect x="432" y="665" width="3" height="20" fill="#ca178a"/>
<rect x="436" y="665" width="3" height="20" fill="#ca178a"/>
<rect x="440" y="665" width="3" height="20" fill="#ca178a"/>
<rect x="444" y="665" width="3" height="20" fill="#ca178a"/>
<rect x="448" y="665" width="3" height="20" fill="#ca178a"/>
<rect x="452" y="665" width="3" height="20" fill="#ca178a"/>
<rect x="456" y="665" width="3" height="20" fill="#ca178a"/>
<rect x="460" y="665" width="3" height="20" fill="#ca178a"/>
<rect x="464" y="665" width="3" height="20" fill="#ca178a"/>
<rect x="468" y="665" width="3" height="20" fill="#ca178a"/>
<rect x="472" y="665" width="3" height="20" fill="#2194fd"/>
<rect x="476" y="665" width="3" height="20" fill="#2194fd"/>
<rect x="480" y="665" width="3" height="20" fill="#2194fd"/>
<rect x="484" y="665" width="3" height="20" fill="#2194fd"/>
<rect x="488" y="665" width="3" height="20" fill="#2194fd"/>
<rect x="492" y="665" width="3" height="20" fill="#2194fd"/>
<rect x="496" y="665" width="3" height="20" fill="#2194fd"/>
<rect x="500" y="665" width="3" height="20" fill="#2194fd"/>
<rect x="504" y="665" width="3" height="20" fill="#ca178a"/>
<rect x="508" y="665" width="3" height="20" fill="#ca178a"/>
<rect x="512" y="665" width="3" height="20" fill="#ca178a"/>
<rect x="516" y="665" width="3" height="20" fill="#ca178a"/>
<rect x="520" y="665" width="3" height="20" fill="#ca178a"/>
<rect x="524" y="665" width="3" height="20" fill="#2194fd"/>
<rect x="528" y="665" width="3" height="20" fill="#2194fd"/>
<rect x="532" y="665" width="3" height="20" fill="#2194fd"/>
<rect x="536" y="665" width="3" height="20" fill="#2194fd"/>
<rect x="540" y="665" width="3" height="20" fill="#2194fd"/>
<rect x="544" y="665" width="3" height="20" fill="#2194fd"/>
<rect x="548" y="665" width="3" height="20" fill="#2194fd"/>
<rect x="552" y="665" width="3" height="20" fill="#2194fd"/>
<rect x="556" y="665" width="3" height="20" fill="#2194fd"/>
<rect x="560" y="665" width="3" height="20" fill="#2194fd"/>
<rect x="564" y="665" width="3" height="20" fill="#2194fd"/>
<rect x="568" y="665" width="3" height="20" fill="#2194fd"/>
<rect x="572" y="665" width="3" height="20" fill="#2194fd"/>
<rect x="576" y="665" width="3" height="20" fill="#ca178a"/>
<rect x="580" y="665" width="3" height="20" fill="#ca178a"/>
<rect x="584" y="665" width="3" height="20" fill="#ca178a"/>
<rect x="588" y="665" width="3" height="20" fill="#ca178a"/>
<rect x="592" y="665" width="3" height="20" fill="#ca178a"/>
<rect x="596" y="665" width="3" height="20" fill="#ca178a"/>
<rect x="600" y="665" width="3" height="20" fill="#2194fd"/>
<rect x="604" y="665" width="3" height="20" fill="#2194fd"/>
<rect x="608" y="665" width="3" height="20" fill="#2194fd"/>
<rect x="612" y="665" width="3" height="20" fill="#ca178a"/>
<rect x="616" y="665" width="3" height="20" fill="#ca178a"/>
<rect x="620" y="665" width="3" height="20" fill="#ca178a"/>
<rect x="624" y="665" width="3" height="20" fill="#ca178a"/>
<rect x="628" y="665" width="3" height="20" fill="#2194fd"/>
<rect x="632" y="665" width="3" height="20" fill="#2194fd"/>
<rect x="636" y="665" width="3" height="20" fill="#2194fd"/>
<rect x="640" y="665" width="3" height="20" fill="#2194fd"/>
<rect x="644" y="665" width="3" height="20" fill="#2194fd"/>
<rect x="648" y="665" width="3" height="20" fill="#ca178a"/>
<rect x="652" y="665" width="3" height="20" fill="#ca178a"/>
<rect x="656" y="665" width="3" height="20" fill="#ca178a"/>
<rect x="660" y="665" width="3" height="20" fill="#ca178a"/>
<rect x="664" y="665" width="3" height="20" fill="#ca178a"/>
<rect x="668" y="665" width="3" height="20" fill="#ca178a"/>
<rect x="672" y="665" width="3" height="20" fill="#ca178a"/>
<rect x="676" y="665" width="3" height="20" fill="#ca178a"/>
<rect x="680" y="665" width="3" height="20" fill="#2194fd"/>
<rect x="684" y="665" width="3" height="20" fill="#2194fd"/>
<rect x="688" y="665" width="3" height="20" fill="#2194fd"/>
<rect x="692" y="665" width="3" height="20" fill="#2194fd"/>
<rect x="696" y="665" width="3" height="20" fill="#ca178a"/>
<rect x="700" y="665" width="3" height="20" fill="#ca178a"/>
<rect x="704" y="665" width="3" height="20" fill="#ca178a"/>
<rect x="708" y="665" width="3" height="20" fill="#ca178a"/>
<rect x="712" y="665" width="3" height="20" fill="#2194fd"/>
<rect x="716" y="665" width="3" height="20" fill="#2194fd"/>
<rect x="720" y="665" width="3" height="20" fill="#2194fd"/>
<rect x="724" y="665" width="3" height="20" fill="#2194fd"/>
<rect x="728" y="665" width="3" height="20" fill="#2194fd"/>
<rect x="732" y="665" width="3" height="20" fill="#2194fd"/>
<rect x="736" y="665" width="3" height="20" fill="#2194fd"/>
<rect x="740" y="665" width="3" height="20" fill="#2194fd"/>
<rect x="744" y="665" width="3" height="20" fill="#2194fd"/>
<rect x="748" y="665" width="3" height="20" fill="#2194fd"/>
<rect x="752" y="665" width="3" height="20" fill="#2194fd"/>
<rect x="756" y="665" width="3" height="20" fill="#2194fd"/>
<rect x="760" y="665" width="3" height="20" fill="#ca178a"/>
<rect x="764" y="665" width="3" height="20" fill="#ca178a"/>
<rect x="768" y="665" width="3" height="20" fill="#ca178a"/>
<rect x="772" y="665" width="3" height="20" fill="#ca178a"/>
<rect x="776" y="665" width="3" height="20" fill="#2194fd"/>
<rect x="780" y="665" width="3" height="20" fill="#2194fd"/>
<rect x="784" y="665" width="3" height="20" fill="#2194fd"/>
<rect x="788" y="665" width="3" height="20" fill="#2194fd"/>
<rect x="792" y="665" width="3" height="20" fill="#ca178a"/>
<rect x="796" y="665" width="3" height="20" fill="#ca178a"/>
<rect x="800" y="665" width="3" height="20" fill="#ca178a"/>
<rect x="804" y="665" width="3" height="20" fill="#ca178a"/>
<rect x="808" y="665" width="3" height="20" fill="#ca178a"/>
<rect x="812" y="665" width="3" height="20" fill="#2194fd"/>
<rect x="816" y="665" width="3" height="20" fill="#2194fd"/>
<rect x="820" y="665" width="3" height="20" fill="#2194fd"/>
<rect x="824" y="665" width="3" height="20" fill="#2194fd"/>
<rect x="828" y="665" width="3" height="20" fill="#2194fd"/>
<rect x="832" y="665" width="3" height="20" fill="#ca178a"/>
<rect x="836" y="665" width="3" height="20" fill="#2194fd"/>
<rect x="840" y="665" width="3" height="20" fill="#2194fd"/>
<rect x="844" y="665" width="3" height="20" fill="#2194fd"/>
<rect x="848" y="665" width="3" height="20" fill="#ca178a"/>
<rect x="852" y="665" width="3" height="20" fill="#ca178a"/>
<rect x="856" y="665" width="3" height="20" fill="#ca178a"/>
<rect x="860" y="665" width="3" height="20" fill="#ca178a"/>
<rect x="864" y="665" width="3" height="20" fill="#ca178a"/>
<rect x="868" y="665" width="3" height="20" fill="#ca178a"/>
<rect x="872" y="665" width="3" height="20" fill="#ca178a"/>
<rect x="876" y="665" width="3" height="20" fill="#ca178a"/>
<rect x="880" y="665" width="3" height="20" fill="#ca178a"/>
<rect x="884" y="665" width="3" height="20" fill="#ca178a"/>
<rect x="888" y="665" width="3" height="20" fill="#ca178a"/>
<rect x="892" y="665" width="3" height="20" fill="#ca178a"/>
<rect x="896" y="665" width="3" height="20" fill="#ca178a"/>
<rect x="900" y="665" width="3" height="20" fill="#ca178a"/>
<rect x="904" y="665" width="3" height="20" fill="#2194fd"/>
<rect x="908" y="665" width="3" height="20" fill="#2194fd"/>
<rect x="912" y="665" width="3" height="20" fill="#2194fd"/>
<rect x="916" y="665" width="3" height="20" fill="#2194fd"/>
<rect x="920" y="665" width="3" height="20" fill="#ca178a"/>
<rect x="924" y="665" width="3" height="20" fill="#ca178a"/>
<rect x="928" y="665" width="3" height="20" fill="#ca178a"/>
<rect x="932" y="665" width="3" height="20" fill="#ca178a"/>
<rect x="936" y="665" width="3" height="20" fill="#ca178a"/>
<rect x="940" y="665" width="3" height="20" fill="#ca178a"/>
<rect x="944" y="665" width="3" height="20" fill="#ca178a"/>
<rect x="948" y="665" width="3" height="20" fill="#2194fd"/>
<rect x="952" y="665" width="3" height="20" fill="#2194fd"/>
<rect x="956" y="665" width="3" height="20" fill="#2194fd"/>
<rect x="960" y="665" width="3" height="20" fill="#2194fd"/>
<rect x="964" y="665" width="3" height="20" fill="#2194fd"/>
<rect x="968" y="665" width="3" height="20" fill="#2194fd"/>
<rect x="972" y="665" width="3" height="20" fill="#2194fd"/>
<rect x="976" y="665" width="3" height="20" fill="#2194fd"/>
<rect x="980" y="665" width="3" height="20" fill="#2194fd"/>
<rect x="984" y="665" width="3" height="20" fill="#2194fd"/>
<rect x="988" y="665" width="3" height="20" fill="#2194fd"/>
<rect x="992" y="665" width="3" height="20" fill="#2194fd"/>
<rect x="996" y="665" width="3" height="20" fill="#ca178a"/>
<rect x="1000" y="665" width="3" height="20" fill="#2194fd"/>
<rect x="1004" y="665" width="3" height="20" fill="#2194fd"/>
<rect x="1008" y="665" width="3" height="20" fill="#2194fd"/>
<rect x="1012" y="665" width="3" height="20" fill="#2194fd"/>
<rect x="1016" y="665" width="3" height="20" fill="#2194fd"/>
<rect x="1020" y="665" width="3" height="20" fill="#ca178a"/>
<rect x="1024" y="665" width="3" height="20" fill="#ca178a"/>
<rect x="1028" y="665" width="3" height="20" fill="#ca178a"/>
<rect x="1032" y="665" width="3" height="20" fill="#ca178a"/>
<rect x="1036" y="665" width="3" height="20" fill="#ca178a"/>
<rect x="1040" y="665" width="3" height="20" fill="#ca178a"/>
<rect x="1044" y="665" width="3" height="20" fill="#ca178a"/>
<rect x="1048" y="665" width="3" height="20" fill="#ca178a"/>
<rect x="1052" y="665" width="3" height="20" fill="#ca178a"/>
<rect x="1056" y="665" width="3" height="20" fill="#ca178a"/>
<rect x="1060" y="665" width="3" height="20" fill="#ca178a"/>
<rect x="1064" y="665" width="3" height="20" fill="#ca178a"/>
<rect x="1068" y="665" width="3" height="20" fill="#ca178a"/>
<rect x="1072" y="665" width="3" height="20" fill="#2194fd"/>
<rect x="1076" y="665" width="3" height="20" fill="#2194fd"/>
<rect x="1080" y="665" width="3" height="20" fill="#2194fd"/>
<rect x="1084" y="665" width="3" height="20" fill="#2194fd"/>
<rect x="1088" y="665" width="3" height="20" fill="#2194fd"/>
<rect x="1092" y="665" width="3" height="20" fill="#2194fd"/>
<rect x="1096" y="665" width="3" height="20" fill="#2194fd"/>
<rect x="1100" y="665" width="3" height="20" fill="#2194fd"/>
<rect x="1104" y="665" width="3" height="20" fill="#2194fd"/>
<rect x="1108" y="665" width="3" height="20" fill="#2194fd"/>
<rect x="1112" y="665" width="3" height="20" fill="#2194fd"/>
<rect x="1116" y="665" width="3" height="20" fill="#2194fd"/>
<rect x="1120" y="665" width="3" height="20" fill="#2194fd"/>
<rect x="1124" y="665" width="3" height="20" fill="#2194fd"/>
<rect x="1128" y="665" width="3" height="20" fill="#2194fd"/>
<rect x="1132" y="665" width="3" height="20" fill="#2194fd"/>
<rect x="1136" y="665" width="3" height="20" fill="#2194fd"/>
<rect x="1140" y="665" width="3" height="20" fill="#2194fd"/>
<rect x="1144" y="665" width="3" height="20" fill="#2194fd"/>
<rect x="1148" y="665" width="3" height="20" fill="#2194fd"/>
<rect x="1152" y="665" width="3" height="20" fill="#2194fd"/>
<rect x="5" y="693.9" width="7.2" height="4.4" fill="#ca178a"/>
<rect x="10.8" y="693.9" width="29.4" height="4.4" fill="#2194fd"/>
<rect x="38.8" y="693.9" width="9.4" height="4.4" fill="#ca178a"/>
<rect x="46.8" y="693.9" width="17.4" height="4.4" fill="#2194fd"/>
<rect x="62.8" y="693.9" width="65.4" height="4.4" fill="#ca178a"/>
<rect x="126.8" y="693.9" width="73.4" height="4.4" fill="#2194fd"/>
<rect x="198.8" y="693.9" width="25.4" height="4.4" fill="#ca178a"/>
<rect x="222.8" y="693.9" width="65.4" height="4.4" fill="#2194fd"/>
<rect x="286.8" y="693.9" width="185.4" height="4.4" fill="#ca178a"/>
<rect x="470.8" y="693.9" width="33.4" height="4.4" fill="#2194fd"/>
<rect x="502.8" y="693.9" width="21.4" height="4.4" fill="#ca178a"/>
<rect x="522.8" y="693.9" width="53.4" height="4.4" fill="#2194fd"/>
<rect x="574.8" y="693.9" width="25.4" height="4.4" fill="#ca178a"/>
<rect x="598.8" y="693.9" width="13.4" height="4.4" fill="#2194fd"/>
<rect x="610.8" y="693.9" width="17.4" height="4.4" fill="#ca178a"/>
<rect x="626.8" y="693.9" width="21.4" height="4.4" fill="#2194fd"/>
<rect x="646.8" y="693.9" width="33.4" height="4.4" fill="#ca178a"/>
<rect x="678.8" y="693.9" width="17.4" height="4.4" fill="#2194fd"/>
<rect x="694.8" y="693.9" width="17.4" height="4.4" fill="#ca178a"/>
<rect x="710.8" y="693.9" width="49.4" height="4.4" fill="#2194fd"/>
<rect x="758.8" y="693.9" width="17.4" height="4.4" fill="#ca178a"/>
<rect x="774.8" y="693.9" width="17.4" height="4.4" fill="#2194fd"/>
<rect x="790.8" y="693.9" width="21.4" height="4.4" fill="#ca178a"/>
<rect x="810.8" y="693.9" width="21.4" height="4.4" fill="#2194fd"/>
<rect x="830.8" y="693.9" width="5.4" height="4.4" fill="#ca178a"/>
<rect x="834.8" y="693.9" width="13.4" height="4.4" fill="#2194fd"/>
<rect x="846.8" y="693.9" width="57.4" height="4.4" fill="#ca178a"/>
<rect x="902.8" y="693.9" width="17.4" height="4.4" fill="#2194fd"/>
<rect x="918.8" y="693.9" width="29.4" height="4.4" fill="#ca178a"/>
<rect x="946.8" y="693.9" width="49.4" height="4.4" fill="#2194fd"/>
<rect x="994.8" y="693.9" width="5.4" height="4.4" fill="#ca178a"/>
<rect x="998.8" y="693.9" width="21.4" height="4.4" fill="#2194fd"/>
<rect x="1018.8" y="693.9" width="53.4" height="4.4" fill="#ca178a"/>
<rect x="1070.8" y="693.9" width="85.4" height="4.4" fill="#2194fd"/>
<circle cx="5.5" cy="696.1" r="3.05" fill="#ca178a"/>
<circle cx="9.5" cy="696.1" r="3.05" fill="#ca178a"/>
<circle cx="13.5" cy="696.1" r="3.05" fill="#2194fd"/>
<circle cx="17.5" cy="696.1" r="3.05" fill="#2194fd"/>
<circle cx="21.5" cy="696.1" r="3.05" fill="#2194fd"/>
<circle cx="25.5" cy="696.1" r="3.05" fill="#2194fd"/>
<circle cx="29.5" cy="696.1" r="3.05" fill="#2194fd"/>
<circle cx="33.5" cy="696.1" r="3.05" fill="#2194fd"/>
<circle cx="37.5" cy="696.1" r="3.05" fill="#2194fd"/>
<circle cx="41.5" cy="696.1" r="3.05" fill="#ca178a"/>
<circle cx="45.5" cy="696.1" r="3.05" fill="#ca178a"/>
<circle cx="49.5" cy="696.1" r="3.05" fill="#2194fd"/>
<circle cx="53.5" cy="696.1" r="3.05" fill="#2194fd"/>
<circle cx="57.5" cy="696.1" r="3.05" fill="#2194fd"/>
<circle cx="61.5" cy="696.1" r="3.05" fill="#2194fd"/>
<circle cx="65.5" cy="696.1" r="3.05" fill="#ca178a"/>
<circle cx="69.5" cy="696.1" r="3.05" fill="#ca178a"/>
<circle cx="73.5" cy="696.1" r="3.05" fill="#ca178a"/>
<circle cx="77.5" cy="696.1" r="3.05" fill="#ca178a"/>
<circle cx="81.5" cy="696.1" r="3.05" fill="#ca178a"/>
<circle cx="85.5" cy="696.1" r="3.05" fill="#ca178a"/>
<circle cx="89.5" cy="696.1" r="3.05" fill="#ca178a"/>
<circle cx="93.5" cy="696.1" r="3.05" fill="#ca178a"/>
<circle cx="97.5" cy="696.1" r="3.05" fill="#ca178a"/>
<circle cx="101.5" cy="696.1" r="3.05" fill="#ca178a"/>
<circle cx="105.5" cy="696.1" r="3.05" fill="#ca178a"/>
<circle cx="109.5" cy="696.1" r="3.05" fill="#ca178a"/>
<circle cx="113.5" cy="696.1" r="3.05" fill="#ca178a"/>
<circle cx="117.5" cy="696.1" r="3.05" fill="#ca178a"/>
<circle cx="121.5" cy="696.1" r="3.05" fill="#ca178a"/>
<circle cx="125.5" cy="696.1" r="3.05" fill="#ca178a"/>
<circle cx="129.5" cy="696.1" r="3.05" fill="#2194fd"/>
<circle cx="133.5" cy="696.1" r="3.05" fill="#2194fd"/>
<circle cx="137.5" cy="696.1" r="3.05" fill="#2194fd"/>
<circle cx="141.5" cy="696.1" r="3.05" fill="#2194fd"/>
<circle cx="145.5" cy="696.1" r="3.05" fill="#2194fd"/>
<circle cx="149.5" cy="696.1" r="3.05" fill="#2194fd"/>
<circle cx="153.5" cy="696.1" r="3.05" fill="#2194fd"/>
<circle cx="157.5" cy="696.1" r="3.05" fill="#2194fd"/>
<circle cx="161.5" cy="696.1" r="3.05" fill="#2194fd"/>
<circle cx="165.5" cy="696.1" r="3.05" fill="#2194fd"/>
<circle cx="169.5" cy="696.1" r="3.05" fill="#2194fd"/>
<circle cx="173.5" cy="696.1" r="3.05" fill="#2194fd"/>
<circle cx="177.5" cy="696.1" r="3.05" fill="#2194fd"/>
<circle cx="181.5" cy="696.1" r="3.05" fill="#2194fd"/>
<circle cx="185.5" cy="696.1" r="3.05" fill="#2194fd"/>
<circle cx="189.5" cy="696.1" r="3.05" fill="#2194fd"/>
<circle cx="193.5" cy="696.1" r="3.05" fill="#2194fd"/>
<circle cx="197.5" cy="696.1" r="3.05" fill="#2194fd"/>
<circle cx="201.5" cy="696.1" r="3.05" fill="#ca178a"/>
<circle cx="205.5" cy="696.1" r="3.05" fill="#ca178a"/>
<circle cx="209.5" cy="696.1" r="3.05" fill="#ca178a"/>
<circle cx="213.5" cy="696.1" r="3.05" fill="#ca178a"/>
<circle cx="217.5" cy="696.1" r="3.05" fill="#ca178a"/>
<circle cx="221.5" cy="696.1" r="3.05" fill="#ca178a"/>
<circle cx="225.5" cy="696.1" r="3.05" fill="#2194fd"/>
<circle cx="229.5" cy="696.1" r="3.05" fill="#2194fd"/>
<circle cx="233.5" cy="696.1" r="3.05" fill="#2194fd"/>
<circle cx="237.5" cy="696.1" r="3.05" fill="#2194fd"/>
<circle cx="241.5" cy="696.1" r="3.05" fill="#2194fd"/>
<circle cx="245.5" cy="696.1" r="3.05" fill="#2194fd"/>
<circle cx="249.5" cy="696.1" r="3.05" fill="#2194fd"/>
<circle cx="253.5" cy="696.1" r="3.05" fill="#2194fd"/>
<circle cx="257.5" cy="696.1" r="3.05" fill="#2194fd"/>
<circle cx="261.5" cy="696.1" r="3.05" fill="#2194fd"/>
<circle cx="265.5" cy="696.1" r="3.05" fill="#2194fd"/>
<circle cx="269.5" cy="696.1" r="3.05" fill="#2194fd"/>
<circle cx="273.5" cy="696.1" r="3.05" fill="#2194fd"/>
<circle cx="277.5" cy="696.1" r="3.05" fill="#2194fd"/>
<circle cx="281.5" cy="696.1" r="3.05" fill="#2194fd"/>
<circle cx="285.5" cy="696.1" r="3.05" fill="#2194fd"/>
<circle cx="289.5" cy="696.1" r="3.05" fill="#ca178a"/>
<circle cx="293.5" cy="696.1" r="3.05" fill="#ca178a"/>
<circle cx="297.5" cy="696.1" r="3.05" fill="#ca178a"/>
<circle cx="301.5" cy="696.1" r="3.05" fill="#ca178a"/>
<circle cx="305.5" cy="696.1" r="3.05" fill="#ca178a"/>
<circle cx="309.5" cy="696.1" r="3.05" fill="#ca178a"/>
<circle cx="313.5" cy="696.1" r="3.05" fill="#ca178a"/>
<circle cx="317.5" cy="696.1" r="3.05" fill="#ca178a"/>
<circle cx="321.5" cy="696.1" r="3.05" fill="#ca178a"/>
<circle cx="325.5" cy="696.1" r="3.05" fill="#ca178a"/>
<circle cx="329.5" cy="696.1" r="3.05" fill="#ca178a"/>
<circle cx="333.5" cy="696.1" r="3.05" fill="#ca178a"/>
<circle cx="337.5" cy="696.1" r="3.05" fill="#ca178a"/>
<circle cx="341.5" cy="696.1" r="3.05" fill="#ca178a"/>
<circle cx="345.5" cy="696.1" r="3.05" fill="#ca178a"/>
<circle cx="349.5" cy="696.1" r="3.05" fill="#ca178a"/>
<circle cx="353.5" cy="696.1" r="3.05" fill="#ca178a"/>
<circle cx="357.5" cy="696.1" r="3.05" fill="#ca178a"/>
<circle cx="361.5" cy="696.1" r="3.05" fill="#ca178a"/>
<circle cx="365.5" cy="696.1" r="3.05" fill="#ca178a"/>
<circle cx="369.5" cy="696.1" r="3.05" fill="#ca178a"/>
<circle cx="373.5" cy="696.1" r="3.05" fill="#ca178a"/>
<circle cx="377.5" cy="696.1" r="3.05" fill="#ca178a"/>
<circle cx="381.5" cy="696.1" r="3.05" fill="#ca178a"/>
<circle cx="385.5" cy="696.1" r="3.05" fill="#ca178a"/>
<circle cx="389.5" cy="696.1" r="3.05" fill="#ca178a"/>
<circle cx="393.5" cy="696.1" r="3.05" fill="#ca178a"/>
<circle cx="397.5" cy="696.1" r="3.05" fill="#ca178a"/>
<circle cx="401.5" cy="696.1" r="3.05" fill="#ca178a"/>
<circle cx="405.5" cy="696.1" r="3.05" fill="#ca178a"/>
<circle cx="409.5" cy="696.1" r="3.05" fill="#ca178a"/>
<circle cx="413.5" cy="696.1" r="3.05" fill="#ca178a"/>
<circle cx="417.5" cy="696.1" r="3.05" fill="#ca178a"/>
<circle cx="421.5" cy="696.1" r="3.05" fill="#ca178a"/>
<circle cx="425.5" cy="696.1" r="3.05" fill="#ca178a"/>
<circle cx="429.5" cy="696.1" r="3.05" fill="#ca178a"/>
<circle cx="433.5" cy="696.1" r="3.05" fill="#ca178a"/>
<circle cx="437.5" cy="696.1" r="3.05" fill="#ca178a"/>
<circle cx="441.5" cy="696.1" r="3.05" fill="#ca178a"/>
<circle cx="445.5" cy="696.1" r="3.05" fill="#ca178a"/>
<circle cx="449.5" cy="696.1" r="3.05" fill="#ca178a"/>
<circle cx="453.5" cy="696.1" r="3.05" fill="#ca178a"/>
<circle cx="457.5" cy="696.1" r="3.05" fill="#ca178a"/>
<circle cx="461.5" cy="696.1" r="3.05" fill="#ca178a"/>
<circle cx="465.5" cy="696.1" r="3.05" fill="#ca178a"/>
<circle cx="469.5" cy="696.1" r="3.05" fill="#ca178a"/>
<circle cx="473.5" cy="696.1" r="3.05" fill="#2194fd"/>
<circle cx="477.5" cy="696.1" r="3.05" fill="#2194fd"/>
<circle cx="481.5" cy="696.1" r="3.05" fill="#2194fd"/>
<circle cx="485.5" cy="696.1" r="3.05" fill="#2194fd"/>
<circle cx="489.5" cy="696.1" r="3.05" fill="#2194fd"/>
<circle cx="493.5" cy="696.1" r="3.05" fill="#2194fd"/>
<circle cx="497.5" cy="696.1" r="3.05" fill="#2194fd"/>
<circle cx="501.5" cy="696.1" r="3.05" fill="#2194fd"/>
<circle cx="505.5" cy="696.1" r="3.05" fill="#ca178a"/>
<circle cx="509.5" cy="696.1" r="3.05" fill="#ca178a"/>
<circle cx="513.5" cy="696.1" r="3.05" fill="#ca178a"/>
<circle cx="517.5" cy="696.1" r="3.05" fill="#ca178a"/>
<circle cx="521.5" cy="696.1" r="3.05" fill="#ca178a"/>
<circle cx="525.5" cy="696.1" r="3.05" fill="#2194fd"/>
<circle cx="529.5" cy="696.1" r="3.05" fill="#2194fd"/>
<circle cx="533.5" cy="696.1" r="3.05" fill="#2194fd"/>
<circle cx="537.5" cy="696.1" r="3.05" fill="#2194fd"/>
<circle cx="541.5" cy="696.1" r="3.05" fill="#2194fd"/>
<circle cx="545.5" cy="696.1" r="3.05" fill="#2194fd"/>
<circle cx="549.5" cy="696.1" r="3.05" fill="#2194fd"/>
<circle cx="553.5" cy="696.1" r="3.05" fill="#2194fd"/>
<circle cx="557.5" cy="696.1" r="3.05" fill="#2194fd"/>
<circle cx="561.5" cy="696.1" r="3.05" fill="#2194fd"/>
<circle cx="565.5" cy="696.1" r="3.05" fill="#2194fd"/>
<circle cx="569.5" cy="696.1" r="3.05" fill="#2194fd"/>
<circle cx="573.5" cy="696.1" r="3.05" fill="#2194fd"/>
<circle cx="577.5" cy="696.1" r="3.05" fill="#ca178a"/>
<circle cx="581.5" cy="696.1" r="3.05" fill="#ca178a"/>
<circle cx="585.5" cy="696.1" r="3.05" fill="#ca178a"/>
<circle cx="589.5" cy="696.1" r="3.05" fill="#ca178a"/>
<circle cx="593.5" cy="696.1" r="3.05" fill="#ca178a"/>
<circle cx="597.5" cy="696.1" r="3.05" fill="#ca178a"/>
<circle cx="601.5" cy="696.1" r="3.05" fill="#2194fd"/>
<circle cx="605.5" cy="696.1" r="3.05" fill="#2194fd"/>
<circle cx="609.5" cy="696.1" r="3.05" fill="#2194fd"/>
<circle cx="613.5" cy="696.1" r="3.05" fill="#ca178a"/>
<circle cx="617.5" cy="696.1" r="3.05" fill="#ca178a"/>
<circle cx="621.5" cy="696.1" r="3.05" fill="#ca178a"/>
<circle cx="625.5" cy="696.1" r="3.05" fill="#ca178a"/>
<circle cx="629.5" cy="696.1" r="3.05" fill="#2194fd"/>
<circle cx="633.5" cy="696.1" r="3.05" fill="#2194fd"/>
<circle cx="637.5" cy="696.1" r="3.05" fill="#2194fd"/>
<circle cx="641.5" cy="696.1" r="3.05" fill="#2194fd"/>
<circle cx="645.5" cy="696.1" r="3.05" fill="#2194fd"/>
<circle cx="649.5" cy="696.1" r="3.05" fill="#ca178a"/>
<circle cx="653.5" cy="696.1" r="3.05" fill="#ca178a"/>
<circle cx="657.5" cy="696.1" r="3.05" fill="#ca178a"/>
<circle cx="661.5" cy="696.1" r="3.05" fill="#ca178a"/>
<circle cx="665.5" cy="696.1" r="3.05" fill="#ca178a"/>
<circle cx="669.5" cy="696.1" r="3.05" fill="#ca178a"/>
<circle cx="673.5" cy="696.1" r="3.05" fill="#ca178a"/>
<circle cx="677.5" cy="696.1" r="3.05" fill="#ca178a"/>
<circle cx="681.5" cy="696.1" r="3.05" fill="#2194fd"/>
<circle cx="685.5" cy="696.1" r="3.05" fill="#2194fd"/>
<circle cx="689.5" cy="696.1" r="3.05" fill="#2194fd"/>
<circle cx="693.5" cy="696.1" r="3.05" fill="#2194fd"/>
<circle cx="697.5" cy="696.1" r="3.05" fill="#ca178a"/>
<circle cx="701.5" cy="696.1" r="3.05" fill="#ca178a"/>
<circle cx="705.5" cy="696.1" r="3.05" fill="#ca178a"/>
<circle cx="709.5" cy="696.1" r="3.05" fill="#ca178a"/>
<circle cx="713.5" cy="696.1" r="3.05" fill="#2194fd"/>
<circle cx="717.5" cy="696.1" r="3.05" fill="#2194fd"/>
<circle cx="721.5" cy="696.1" r="3.05" fill="#2194fd"/>
<circle cx="725.5" cy="696.1" r="3.05" fill="#2194fd"/>
<circle cx="729.5" cy="696.1" r="3.05" fill="#2194fd"/>
<circle cx="733.5" cy="696.1" r="3.05" fill="#2194fd"/>
<circle cx="737.5" cy="696.1" r="3.05" fill="#2194fd"/>
<circle cx="741.5" cy="696.1" r="3.05" fill="#2194fd"/>
<circle cx="745.5" cy="696.1" r="3.05" fill="#2194fd"/>
<circle cx="749.5" cy="696.1" r="3.05" fill="#2194fd"/>
<circle cx="753.5" cy="696.1" r="3.05" fill="#2194fd"/>
<circle cx="757.5" cy="696.1" r="3.05" fill="#2194fd"/>
<circle cx="761.5" cy="696.1" r="3.05" fill="#ca178a"/>
<circle cx="765.5" cy="696.1" r="3.05" fill="#ca178a"/>
<circle cx="769.5" cy="696.1" r="3.05" fill="#ca178a"/>
<circle cx="773.5" cy="696.1" r="3.05" fill="#ca178a"/>
<circle cx="777.5" cy="696.1" r="3.05" fill="#2194fd"/>
<circle cx="781.5" cy="696.1" r="3.05" fill="#2194fd"/>
<circle cx="785.5" cy="696.1" r="3.05" fill="#2194fd"/>
<circle cx="789.5" cy="696.1" r="3.05" fill="#2194fd"/>
<circle cx="793.5" cy="696.1" r="3.05" fill="#ca178a"/>
<circle cx="797.5" cy="696.1" r="3.05" fill="#ca178a"/>
<circle cx="801.5" cy="696.1" r="3.05" fill="#ca178a"/>
<circle cx="805.5" cy="696.1" r="3.05" fill="#ca178a"/>
<circle cx="809.5" cy="696.1" r="3.05" fill="#ca178a"/>
<circle cx="813.5" cy="696.1" r="3.05" fill="#2194fd"/>
<circle cx="817.5" cy="696.1" r="3.05" fill="#2194fd"/>
<circle cx="821.5" cy="696.1" r="3.05" fill="#2194fd"/>
<circle cx="825.5" cy="696.1" r="3.05" fill="#2194fd"/>
<circle cx="829.5" cy="696.1" r="3.05" fill="#2194fd"/>
<circle cx="833.5" cy="696.1" r="3.05" fill="#ca178a"/>
<circle cx="837.5" cy="696.1" r="3.05" fill="#2194fd"/>
<circle cx="841.5" cy="696.1" r="3.05" fill="#2194fd"/>
<circle cx="845.5" cy="696.1" r="3.05" fill="#2194fd"/>
<circle cx="849.5" cy="696.1" r="3.05" fill="#ca178a"/>
<circle cx="853.5" cy="696.1" r="3.05" fill="#ca178a"/>
<circle cx="857.5" cy="696.1" r="3.05" fill="#ca178a"/>
<circle cx="861.5" cy="696.1" r="3.05" fill="#ca178a"/>
<circle cx="865.5" cy="696.1" r="3.05" fill="#ca178a"/>
<circle cx="869.5" cy="696.1" r="3.05" fill="#ca178a"/>
<circle cx="873.5" cy="696.1" r="3.05" fill="#ca178a"/>
<circle cx="877.5" cy="696.1" r="3.05" fill="#ca178a"/>
<circle cx="881.5" cy="696.1" r="3.05" fill="#ca178a"/>
<circle cx="885.5" cy="696.1" r="3.05" fill="#ca178a"/>
<circle cx="889.5" cy="696.1" r="3.05" fill="#ca178a"/>
<circle cx="893.5" cy="696.1" r="3.05" fill="#ca178a"/>
<circle cx="897.5" cy="696.1" r="3.05" fill="#ca178a"/>
<circle cx="901.5" cy="696.1" r="3.05" fill="#ca178a"/>
<circle cx="905.5" cy="696.1" r="3.05" fill="#2194fd"/>
<circle cx="909.5" cy="696.1" r="3.05" fill="#2194fd"/>
<circle cx="913.5" cy="696.1" r="3.05" fill="#2194fd"/>
<circle cx="917.5" cy="696.1" r="3.05" fill="#2194fd"/>
<circle cx="921.5" cy="696.1" r="3.05" fill="#ca178a"/>
<circle cx="925.5" cy="696.1" r="3.05" fill="#ca178a"/>
<circle cx="929.5" cy="696.1" r="3.05" fill="#ca178a"/>
<circle cx="933.5" cy="696.1" r="3.05" fill="#ca178a"/>
<circle cx="937.5" cy="696.1" r="3.05" fill="#ca178a"/>
<circle cx="941.5" cy="696.1" r="3.05" fill="#ca178a"/>
<circle cx="945.5" cy="696.1" r="3.05" fill="#ca178a"/>
<circle cx="949.5" cy="696.1" r="3.05" fill="#2194fd"/>
<circle cx="953.5" cy="696.1" r="3.05" fill="#2194fd"/>
<circle cx="957.5" cy="696.1" r="3.05" fill="#2194fd"/>
<circle cx="961.5" cy="696.1" r="3.05" fill="#2194fd"/>
<circle cx="965.5" cy="696.1" r="3.05" fill="#2194fd"/>
<circle cx="969.5" cy="696.1" r="3.05" fill="#2194fd"/>
<circle cx="973.5" cy="696.1" r="3.05" fill="#2194fd"/>
<circle cx="977.5" cy="696.1" r="3.05" fill="#2194fd"/>
<circle cx="981.5" cy="696.1" r="3.05" fill="#2194fd"/>
<circle cx="985.5" cy="696.1" r="3.05" fill="#2194fd"/>
<circle cx="989.5" cy="696.1" r="3.05" fill="#2194fd"/>
<circle cx="993.5" cy="696.1" r="3.05" fill="#2194fd"/>
<circle cx="997.5" cy="696.1" r="3.05" fill="#ca178a"/>
<circle cx="1001.5" cy="696.1" r="3.05" fill="#2194fd"/>
<circle cx="1005.5" cy="696.1" r="3.05" fill="#2194fd"/>
<circle cx="1009.5" cy="696.1" r="3.05" fill="#2194fd"/>
<circle cx="1013.5" cy="696.1" r="3.05" fill="#2194fd"/>
<circle cx="1017.5" cy="696.1" r="3.05" fill="#2194fd"/>
<circle cx="1021.5" cy="696.1" r="3.05" fill="#ca178a"/>
<circle cx="1025.5" cy="696.1" r="3.05" fill="#ca178a"/>
<circle cx="1029.5" cy="696.1" r="3.05" fill="#ca178a"/>
<circle cx="1033.5" cy="696.1" r="3.05" fill="#ca178a"/>
<circle cx="1037.5" cy="696.1" r="3.05" fill="#ca178a"/>
<circle cx="1041.5" cy="696.1" r="3.05" fill="#ca178a"/>
<circle cx="1045.5" cy="696.1" r="3.05" fill="#ca178a"/>
<circle cx="1049.5" cy="696.1" r="3.05" fill="#ca178a"/>
<circle cx="1053.5" cy="696.1" r="3.05" fill="#ca178a"/>
<circle cx="1057.5" cy="696.1" r="3.05" fill="#ca178a"/>
<circle cx="1061.5" cy="696.1" r="3.05" fill="#ca178a"/>
<circle cx="1065.5" cy="696.1" r="3.05" fill="#ca178a"/>
<circle cx="1069.5" cy="696.1" r="3.05" fill="#ca178a"/>
<circle cx="1073.5" cy="696.1" r="3.05" fill="#2194fd"/>
<circle cx="1077.5" cy="696.1" r="3.05" fill="#2194fd"/>
<circle cx="1081.5" cy="696.1" r="3.05" fill="#2194fd"/>
<circle cx="1085.5" cy="696.1" r="3.05" fill="#2194fd"/>
<circle cx="1089.5" cy="696.1" r="3.05" fill="#2194fd"/>
<circle cx="1093.5" cy="696.1" r="3.05" fill="#2194fd"/>
<circle cx="1097.5" cy="696.1" r="3.05" fill="#2194fd"/>
<circle cx="1101.5" cy="696.1" r="3.05" fill="#2194fd"/>
<circle cx="1105.5" cy="696.1" r="3.05" fill="#2194fd"/>
<circle cx="1109.5" cy="696.1" r="3.05" fill="#2194fd"/>
<circle cx="1113.5" cy="696.1" r="3.05" fill="#2194fd"/>
<circle cx="1117.5" cy="696.1" r="3.05" fill="#2194fd"/>
<circle cx="1121.5" cy="696.1" r="3.05" fill="#2194fd"/>
<circle cx="1125.5" cy="696.1" r="3.05" fill="#2194fd"/>
<circle cx="1129.5" cy="696.1" r="3.05" fill="#2194fd"/>
<circle cx="1133.5" cy="696.1" r="3.05" fill="#2194fd"/>
<circle cx="1137.5" cy="696.1" r="3.05" fill="#2194fd"/>
<circle cx="1141.5" cy="696.1" r="3.05" fill="#2194fd"/>
<circle cx="1145.5" cy="696.1" r="3.05" fill="#2194fd"/>
<circle cx="1149.5" cy="696.1" r="3.05" fill="#2194fd"/>
<circle cx="1153.5" cy="696.1" r="3.05" fill="#2194fd"/>
<polyline points="5.0,591.0 20.0,595.0 30.0,591.0 60.0,588.0 76.0,591.0 90.0,602.0 104.0,618.0 120.0,632.0 130.0,636.0 144.0,638.0 156.0,632.0 170.0,622.0 180.0,612.0 190.0,603.0 200.0,599.0 220.0,598.0 234.0,596.0 246.0,593.0 258.0,586.0 274.0,578.0 286.0,572.0 294.0,570.0 310.0,572.0 322.0,577.0 334.0,582.0 346.0,585.0 358.0,588.0 374.0,593.0 394.0,595.0 404.0,601.0 414.0,607.0 424.0,609.6 434.0,612.0 444.0,619.0 454.0,626.0 468.0,634.0 480.0,632.0 492.0,628.0 508.0,627.0 520.0,625.6 536.0,620.0 552.0,612.0 568.0,605.0 580.0,602.4 596.0,601.6 612.0,600.4 632.0,600.0 644.0,597.0 652.0,597.0 660.0,601.0 672.0,603.6 688.0,604.4 702.0,607.5 718.0,609.0 734.0,607.0 754.0,605.0 774.0,605.6 794.0,605.0 814.0,607.0 834.0,606.4 852.0,606.4 862.0,612.0 874.0,617.0 886.0,622.0 898.0,627.0 910.0,628.0 936.0,628.4 951.0,628.0 963.0,623.0 975.0,616.0 987.0,611.0 999.0,607.0 1011.0,602.4 1021.0,600.0 1031.0,602.0 1043.0,606.0 1055.0,609.6 1067.0,612.4 1079.0,613.0 1091.0,610.0 1103.0,604.0 1115.0,595.0 1127.0,586.0 1135.0,581.0 1145.0,574.0 1153.0,571.0" fill="none" stroke="#8a0f14" stroke-width="1.1" />
<polyline points="5.0,588.0 12.0,597.0 20.0,592.0 30.0,589.0 44.0,587.0 60.0,585.0 72.0,587.0 84.0,594.0 96.0,606.0 108.0,620.0 120.0,630.0 130.0,634.0 140.0,635.0 150.0,632.0 160.0,626.0 170.0,618.0 180.0,609.0 190.0,601.0 200.0,597.0 210.0,596.4 234.0,592.0 246.0,590.0 258.0,583.0 270.0,576.0 282.0,570.0 290.0,568.0 306.0,569.0 318.0,573.0 330.0,578.0 342.0,582.0 354.0,585.0 370.0,589.0 390.0,591.6 400.0,596.0 410.0,602.0 420.0,606.0 430.0,608.0 438.0,614.0 448.0,620.0 458.0,626.0 468.0,632.0 478.0,631.0 488.0,628.0 498.0,625.0 508.0,625.0 520.0,624.0 532.0,619.0 544.0,614.0 556.0,608.0 568.0,603.0 580.0,601.0 592.0,600.4 608.0,599.0 628.0,598.6 638.0,596.0 646.0,594.4 654.0,597.0 664.0,600.0 676.0,602.0 688.0,603.0 702.0,605.5 714.0,607.0 726.0,605.0 742.0,603.0 758.0,602.4 774.0,604.0 790.0,603.0 806.0,605.0 822.0,604.4 842.0,604.0 852.0,605.0 862.0,610.0 874.0,615.0 886.0,620.0 898.0,625.0 910.0,626.4 922.0,626.0 936.0,626.6 947.0,628.0 959.0,624.0 971.0,617.0 983.0,610.0 995.0,605.0 1007.0,601.0 1019.0,598.0 1029.0,599.0 1039.0,602.0 1051.0,606.0 1063.0,610.0 1075.0,611.6 1087.0,610.0 1099.0,605.0 1111.0,597.0 1123.0,588.0 1135.0,580.0 1145.0,571.0 1152.0,569.0" fill="none" stroke="#1fb5a8" stroke-width="1.2" />
<polyline points="3.4,601.0 10.4,602.0 18.4,590.0 28.4,579.0 34.4,581.0 42.4,588.0 50.4,587.6 58.4,583.0 64.4,585.0 72.4,597.0 82.4,610.0 92.4,624.0 102.4,638.0 110.4,650.0 116.4,653.6 122.4,648.0 130.4,637.0 138.4,631.0 146.4,626.0 152.4,614.0 158.4,604.0 164.4,600.0 174.4,600.0 182.4,590.0 190.4,586.0 198.4,591.0 206.4,599.0 212.4,601.6 220.4,598.0 232.4,591.0 240.4,587.0 248.4,580.0 256.4,571.0 264.4,563.0 284.4,563.0 292.4,568.0 300.4,575.0 310.4,580.0 318.4,588.0 324.4,591.0 330.4,591.0 336.4,589.0 344.4,588.0 352.4,587.0 360.4,593.0 368.4,596.0 376.4,595.0 386.4,596.0 392.4,600.0 398.4,608.0 404.4,616.0 408.4,618.6 412.4,618.0 418.4,613.0 424.4,610.6 429.4,613.0 434.4,620.0 440.4,630.0 446.4,637.0 452.4,639.0 458.4,642.0 466.4,644.0 472.4,638.0 478.4,626.0 484.4,615.0 490.4,610.6 494.4,610.0 500.4,614.0 506.4,623.0 512.4,630.0 516.4,631.0 522.4,626.0 530.4,617.0 538.4,610.0 546.4,602.0 554.4,595.0 562.4,592.4 568.4,592.6 574.4,596.0 580.4,602.0 586.4,605.6 592.4,605.0 598.4,601.0 604.4,598.0 610.4,598.6 618.4,599.6 630.4,599.0 636.4,593.0 640.4,588.0 644.4,586.4 648.4,590.0 652.4,602.0 656.4,611.0 660.4,615.0 664.4,615.0 670.4,610.0 676.4,606.0 682.4,604.4 688.4,605.0 694.4,608.0 700.4,612.0 708.4,612.4 714.4,608.0 722.4,604.0 730.4,601.6 738.4,604.0 746.4,601.0 752.4,600.4 758.4,603.0 766.4,608.0 774.4,607.0 780.4,604.0 788.4,602.0 794.4,605.0 800.4,610.6 804.4,611.0 810.4,608.0 816.4,604.4 822.4,603.0 830.4,605.6 836.4,605.0 842.4,602.4 848.4,603.6 852.4,610.0 856.4,618.0 860.4,625.0 866.4,628.4 874.4,627.6 882.4,629.0 888.4,633.0 894.4,636.6 898.4,636.0 902.4,630.0 906.4,623.0 910.4,619.0 915.4,619.0 920.4,623.0 925.4,628.4 934.4,629.0 945.4,629.0 953.4,623.0 961.4,614.0 969.4,602.0 975.4,597.6 991.4,598.0 999.4,601.6 1005.4,598.0 1013.4,592.0 1019.4,593.6 1025.4,602.0 1031.4,609.0 1039.4,613.0 1047.4,615.6 1055.4,617.0 1063.4,616.0 1073.4,614.0 1079.4,610.0 1087.4,601.0 1097.4,592.0 1107.4,582.0 1116.4,573.0 1124.4,567.0 1131.4,563.0 1137.4,561.4 1144.4,563.0 1151.4,567.0" fill="none" stroke="#900808" stroke-width="1.3" />
<polyline points="6.6,601.0 13.6,602.0 21.6,590.0 31.6,579.0 37.6,581.0 45.6,588.0 53.6,587.6 61.6,583.0 67.6,585.0 75.6,597.0 85.6,610.0 95.6,624.0 105.6,638.0 113.6,650.0 119.6,653.6 125.6,648.0 133.6,637.0 141.6,631.0 149.6,626.0 155.6,614.0 161.6,604.0 167.6,600.0 177.6,600.0 185.6,590.0 193.6,586.0 201.6,591.0 209.6,599.0 215.6,601.6 223.6,598.0 235.6,591.0 243.6,587.0 251.6,580.0 259.6,571.0 267.6,563.0 287.6,563.0 295.6,568.0 303.6,575.0 313.6,580.0 321.6,588.0 327.6,591.0 333.6,591.0 339.6,589.0 347.6,588.0 355.6,587.0 363.6,593.0 371.6,596.0 379.6,595.0 389.6,596.0 395.6,600.0 401.6,608.0 407.6,616.0 411.6,618.6 415.6,618.0 421.6,613.0 427.6,610.6 432.6,613.0 437.6,620.0 443.6,630.0 449.6,637.0 455.6,639.0 461.6,642.0 469.6,644.0 475.6,638.0 481.6,626.0 487.6,615.0 493.6,610.6 497.6,610.0 503.6,614.0 509.6,623.0 515.6,630.0 519.6,631.0 525.6,626.0 533.6,617.0 541.6,610.0 549.6,602.0 557.6,595.0 565.6,592.4 571.6,592.6 577.6,596.0 583.6,602.0 589.6,605.6 595.6,605.0 601.6,601.0 607.6,598.0 613.6,598.6 621.6,599.6 633.6,599.0 639.6,593.0 643.6,588.0 647.6,586.4 651.6,590.0 655.6,602.0 659.6,611.0 663.6,615.0 667.6,615.0 673.6,610.0 679.6,606.0 685.6,604.4 691.6,605.0 697.6,608.0 703.6,612.0 711.6,612.4 717.6,608.0 725.6,604.0 733.6,601.6 741.6,604.0 749.6,601.0 755.6,600.4 761.6,603.0 769.6,608.0 777.6,607.0 783.6,604.0 791.6,602.0 797.6,605.0 803.6,610.6 807.6,611.0 813.6,608.0 819.6,604.4 825.6,603.0 833.6,605.6 839.6,605.0 845.6,602.4 851.6,603.6 855.6,610.0 859.6,618.0 863.6,625.0 869.6,628.4 877.6,627.6 885.6,629.0 891.6,633.0 897.6,636.6 901.6,636.0 905.6,630.0 909.6,623.0 913.6,619.0 918.6,619.0 923.6,623.0 928.6,628.4 937.6,629.0 948.6,629.0 956.6,623.0 964.6,614.0 972.6,602.0 978.6,597.6 994.6,598.0 1002.6,601.6 1008.6,598.0 1016.6,592.0 1022.6,593.6 1028.6,602.0 1034.6,609.0 1042.6,613.0 1050.6,615.6 1058.6,617.0 1066.6,616.0 1076.6,614.0 1082.6,610.0 1090.6,601.0 1100.6,592.0 1110.6,582.0 1119.6,573.0 1127.6,567.0 1134.6,563.0 1140.6,561.4 1147.6,563.0 1154.6,567.0" fill="none" stroke="#22c4b2" stroke-width="1.2" />
<polyline points="5.0,601.0 12.0,602.0 20.0,590.0 30.0,579.0 36.0,581.0 44.0,588.0 52.0,587.6 60.0,583.0 66.0,585.0 74.0,597.0 84.0,610.0 94.0,624.0 104.0,638.0 112.0,650.0 118.0,653.6 124.0,648.0 132.0,637.0 140.0,631.0 148.0,626.0 154.0,614.0 160.0,604.0 166.0,600.0 176.0,600.0 184.0,590.0 192.0,586.0 200.0,591.0 208.0,599.0 214.0,601.6 222.0,598.0 234.0,591.0 242.0,587.0 250.0,580.0 258.0,571.0 266.0,563.0 286.0,563.0 294.0,568.0 302.0,575.0 312.0,580.0 320.0,588.0 326.0,591.0 332.0,591.0 338.0,589.0 346.0,588.0 354.0,587.0 362.0,593.0 370.0,596.0 378.0,595.0 388.0,596.0 394.0,600.0 400.0,608.0 406.0,616.0 410.0,618.6 414.0,618.0 420.0,613.0 426.0,610.6 431.0,613.0 436.0,620.0 442.0,630.0 448.0,637.0 454.0,639.0 460.0,642.0 468.0,644.0 474.0,638.0 480.0,626.0 486.0,615.0 492.0,610.6 496.0,610.0 502.0,614.0 508.0,623.0 514.0,630.0 518.0,631.0 524.0,626.0 532.0,617.0 540.0,610.0 548.0,602.0 556.0,595.0 564.0,592.4 570.0,592.6 576.0,596.0 582.0,602.0 588.0,605.6 594.0,605.0 600.0,601.0 606.0,598.0 612.0,598.6 620.0,599.6 632.0,599.0 638.0,593.0 642.0,588.0 646.0,586.4 650.0,590.0 654.0,602.0 658.0,611.0 662.0,615.0 666.0,615.0 672.0,610.0 678.0,606.0 684.0,604.4 690.0,605.0 696.0,608.0 702.0,612.0 710.0,612.4 716.0,608.0 724.0,604.0 732.0,601.6 740.0,604.0 748.0,601.0 754.0,600.4 760.0,603.0 768.0,608.0 776.0,607.0 782.0,604.0 790.0,602.0 796.0,605.0 802.0,610.6 806.0,611.0 812.0,608.0 818.0,604.4 824.0,603.0 832.0,605.6 838.0,605.0 844.0,602.4 850.0,603.6 854.0,610.0 858.0,618.0 862.0,625.0 868.0,628.4 876.0,627.6 884.0,629.0 890.0,633.0 896.0,636.6 900.0,636.0 904.0,630.0 908.0,623.0 912.0,619.0 917.0,619.0 922.0,623.0 927.0,628.4 936.0,629.0 947.0,629.0 955.0,623.0 963.0,614.0 971.0,602.0 977.0,597.6 993.0,598.0 1001.0,601.6 1007.0,598.0 1015.0,592.0 1021.0,593.6 1027.0,602.0 1033.0,609.0 1041.0,613.0 1049.0,615.6 1057.0,617.0 1065.0,616.0 1075.0,614.0 1081.0,610.0 1089.0,601.0 1099.0,592.0 1109.0,582.0 1118.0,573.0 1126.0,567.0 1133.0,563.0 1139.0,561.4 1146.0,563.0 1153.0,567.0" fill="none" stroke="#ffff00" stroke-width="2.1" stroke-linejoin="round"/>
</g>
<line x1="3" y1="702.5" x2="1169" y2="702.5" stroke="#22364a"/>
<line x1="5.5" y1="702" x2="5.5" y2="706" stroke="#2a4056"/>
<text x="4.0" y="715.2" font-size="10.6" fill="#2a3f54" textLength="52.5" lengthAdjust="spacingAndGlyphs">22 Aug 2022</text>
<line x1="69.5" y1="702" x2="69.5" y2="706" stroke="#2a4056"/>
<text x="68.0" y="715.2" font-size="10.6" fill="#2a3f54" textLength="55" lengthAdjust="spacingAndGlyphs">22 Aug 11:21</text>
<line x1="133.5" y1="702" x2="133.5" y2="706" stroke="#2a4056"/>
<text x="132.0" y="715.2" font-size="10.6" fill="#2a3f54" textLength="55" lengthAdjust="spacingAndGlyphs">22 Aug 11:37</text>
<line x1="197.5" y1="702" x2="197.5" y2="706" stroke="#2a4056"/>
<text x="196.0" y="715.2" font-size="10.6" fill="#2a3f54" textLength="55" lengthAdjust="spacingAndGlyphs">22 Aug 11:53</text>
<line x1="261.5" y1="702" x2="261.5" y2="706" stroke="#2a4056"/>
<text x="260.0" y="715.2" font-size="10.6" fill="#2a3f54" textLength="55" lengthAdjust="spacingAndGlyphs">22 Aug 12:09</text>
<line x1="325.5" y1="702" x2="325.5" y2="706" stroke="#2a4056"/>
<text x="324.0" y="715.2" font-size="10.6" fill="#2a3f54" textLength="55" lengthAdjust="spacingAndGlyphs">22 Aug 12:25</text>
<line x1="389.5" y1="702" x2="389.5" y2="706" stroke="#2a4056"/>
<text x="388.0" y="715.2" font-size="10.6" fill="#2a3f54" textLength="55" lengthAdjust="spacingAndGlyphs">22 Aug 12:41</text>
<line x1="453.5" y1="702" x2="453.5" y2="706" stroke="#2a4056"/>
<text x="452.0" y="715.2" font-size="10.6" fill="#2a3f54" textLength="55" lengthAdjust="spacingAndGlyphs">22 Aug 12:57</text>
<line x1="517.5" y1="702" x2="517.5" y2="706" stroke="#2a4056"/>
<text x="516.0" y="715.2" font-size="10.6" fill="#2a3f54" textLength="55" lengthAdjust="spacingAndGlyphs">22 Aug 13:13</text>
<line x1="581.5" y1="702" x2="581.5" y2="706" stroke="#2a4056"/>
<text x="580.0" y="715.2" font-size="10.6" fill="#2a3f54" textLength="55" lengthAdjust="spacingAndGlyphs">22 Aug 13:29</text>
<line x1="645.5" y1="702" x2="645.5" y2="706" stroke="#2a4056"/>
<text x="644.0" y="715.2" font-size="10.6" fill="#2a3f54" textLength="55" lengthAdjust="spacingAndGlyphs">22 Aug 13:45</text>
<line x1="709.5" y1="702" x2="709.5" y2="706" stroke="#2a4056"/>
<text x="708.0" y="715.2" font-size="10.6" fill="#2a3f54" textLength="55" lengthAdjust="spacingAndGlyphs">22 Aug 14:01</text>
<line x1="773.5" y1="702" x2="773.5" y2="706" stroke="#2a4056"/>
<text x="772.0" y="715.2" font-size="10.6" fill="#2a3f54" textLength="55" lengthAdjust="spacingAndGlyphs">22 Aug 14:17</text>
<line x1="837.5" y1="702" x2="837.5" y2="706" stroke="#2a4056"/>
<text x="836.0" y="715.2" font-size="10.6" fill="#2a3f54" textLength="55" lengthAdjust="spacingAndGlyphs">22 Aug 14:33</text>
<line x1="901.5" y1="702" x2="901.5" y2="706" stroke="#2a4056"/>
<text x="900.0" y="715.2" font-size="10.6" fill="#2a3f54" textLength="55" lengthAdjust="spacingAndGlyphs">22 Aug 14:49</text>
<line x1="965.5" y1="702" x2="965.5" y2="706" stroke="#2a4056"/>
<text x="964.0" y="715.2" font-size="10.6" fill="#2a3f54" textLength="55" lengthAdjust="spacingAndGlyphs">22 Aug 15:05</text>
<line x1="1029.5" y1="702" x2="1029.5" y2="706" stroke="#2a4056"/>
<text x="1028.0" y="715.2" font-size="10.6" fill="#2a3f54" textLength="55" lengthAdjust="spacingAndGlyphs">22 Aug 15:21</text>
<line x1="1093.5" y1="702" x2="1093.5" y2="706" stroke="#2a4056"/>
<text x="1092.0" y="715.2" font-size="10.6" fill="#2a3f54" textLength="55" lengthAdjust="spacingAndGlyphs">22 Aug 15:37</text>
</svg>
</body></html>
